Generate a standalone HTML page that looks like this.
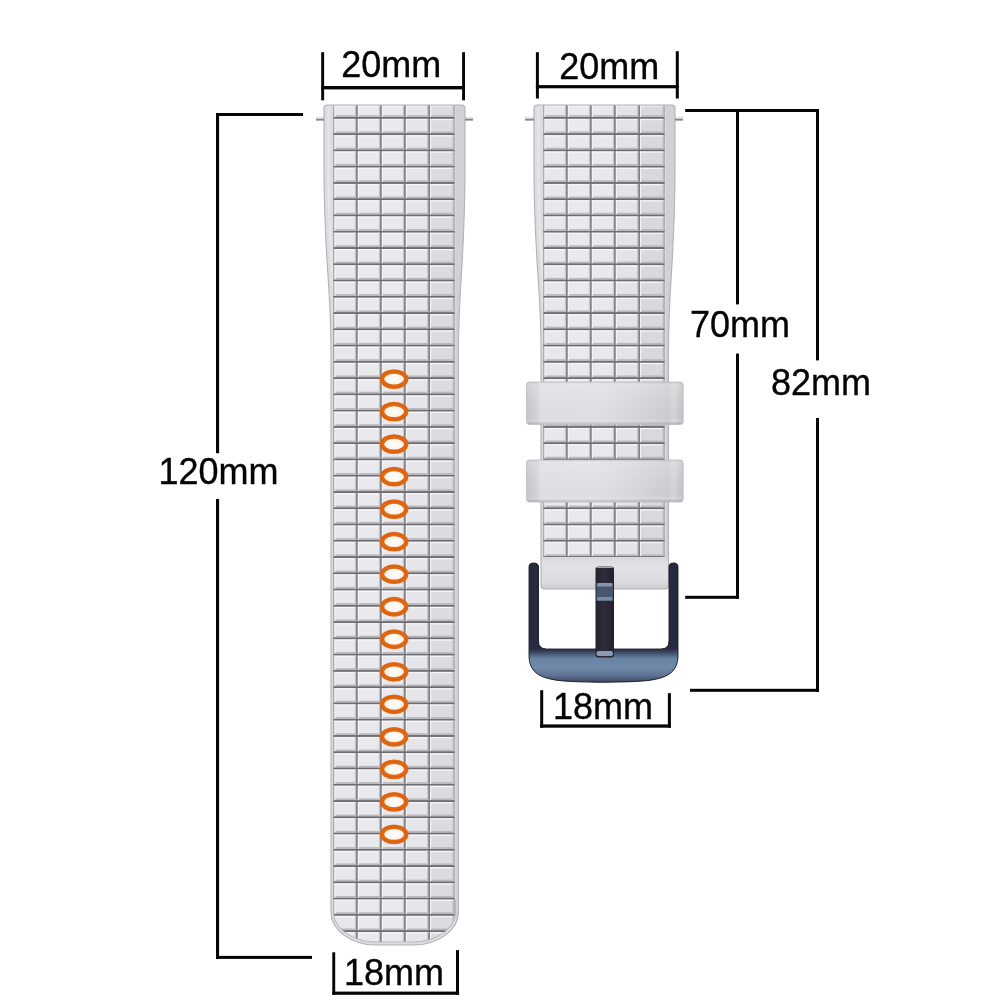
<!DOCTYPE html><html><head><meta charset="utf-8"><style>html,body{margin:0;padding:0;background:#fff;overflow:hidden}svg{display:block;will-change:transform}</style></head><body>
<svg width="1000" height="1000" viewBox="0 0 1000 1000">
<defs>
<linearGradient id="tileV" x1="0" y1="0" x2="0" y2="1"><stop offset="0" stop-color="#eeeef2"/><stop offset="0.18" stop-color="#e4e4e9"/><stop offset="0.55" stop-color="#e8e8ec"/><stop offset="0.85" stop-color="#dcdce1"/><stop offset="1" stop-color="#cfcfd4"/></linearGradient>
<linearGradient id="buckbar" gradientUnits="userSpaceOnUse" x1="0" y1="630" x2="0" y2="684"><stop offset="0" stop-color="#262a3e"/><stop offset="0.35" stop-color="#272c42"/><stop offset="0.43" stop-color="#40506c"/><stop offset="0.53" stop-color="#6a84a4"/><stop offset="0.7" stop-color="#7189a8"/><stop offset="0.84" stop-color="#5e7294"/><stop offset="0.93" stop-color="#44536e"/><stop offset="1" stop-color="#2c3448"/></linearGradient>
<linearGradient id="loopV" x1="0" y1="0" x2="0" y2="1"><stop offset="0" stop-color="#ffffff" stop-opacity="0"/><stop offset="0.06" stop-color="#ffffff" stop-opacity="0.25"/><stop offset="0.4" stop-color="#ffffff" stop-opacity="0.12"/><stop offset="0.85" stop-color="#ffffff" stop-opacity="0"/><stop offset="0.92" stop-color="#ffffff" stop-opacity="0.2"/><stop offset="1" stop-color="#000000" stop-opacity="0.12"/></linearGradient>
<linearGradient id="loopH" x1="0" y1="0" x2="1" y2="0"><stop offset="0" stop-color="#c2c2c7"/><stop offset="0.065" stop-color="#d0d0d5"/><stop offset="0.09" stop-color="#dcdce1"/><stop offset="0.45" stop-color="#dedee2"/><stop offset="0.7" stop-color="#d4d4d9"/><stop offset="0.9" stop-color="#cacacf"/><stop offset="0.94" stop-color="#d2d2d6"/><stop offset="1" stop-color="#bebec3"/></linearGradient>
<linearGradient id="stripL" x1="0" y1="0" x2="1" y2="0"><stop offset="0" stop-color="#cdcdd2"/><stop offset="0.3" stop-color="#dedee3"/><stop offset="0.7" stop-color="#e4e4e8"/><stop offset="1" stop-color="#d6d6da"/></linearGradient>
<linearGradient id="endV" x1="0" y1="0" x2="0" y2="1"><stop offset="0" stop-color="#d8d8dc"/><stop offset="0.25" stop-color="#e2e2e6"/><stop offset="0.7" stop-color="#dcdce0"/><stop offset="1" stop-color="#c6c6cb"/></linearGradient>
<linearGradient id="sideBar" x1="0" y1="0" x2="1" y2="0"><stop offset="0" stop-color="#2a2e44"/><stop offset="0.4" stop-color="#363c55"/><stop offset="1" stop-color="#23263a"/></linearGradient>
<linearGradient id="tongue" x1="0" y1="0" x2="1" y2="0"><stop offset="0" stop-color="#24222f"/><stop offset="0.5" stop-color="#302c3c"/><stop offset="1" stop-color="#221f2c"/></linearGradient>
<radialGradient id="holeIn" cx="0.5" cy="0.5" r="0.5"><stop offset="0" stop-color="#fffdf9"/><stop offset="0.8" stop-color="#fbf3ea"/><stop offset="1" stop-color="#f2d9c0"/></radialGradient>
<clipPath id="cl"><path d="M324,108.5 Q324,105 327.5,105 L461.5,105 Q465,105 465,108.5 L465,165 C465,262 458.5,282 458.5,350 L458.5,912 C458.5,930.2 438,945 413,945 L376,945 C351,945 331,930.2 331,912 L331,350 C331,282 324,262 324,165 Z"/></clipPath>
<clipPath id="cli"><path d="M300,100 L500,100 L500,912 L455.5,912 C455.5,928.5 436,942 413,942 L376,942 C353,942 333.5,928.5 333.5,912 L300,912 Z"/></clipPath>
<clipPath id="cr"><path d="M534,108.5 Q534,105 537.5,105 L671.5,105 Q675,105 675,108.5 L675,165 C675,262 668.5,282 668.5,350 L668.5,585 Q668.5,589 664.5,589 L545,589 Q541,589 541,585 L541,350 C541,282 534,262 534,165 Z"/></clipPath>
</defs>
<g clip-path="url(#cl)">
<path d="M324,108.5 Q324,105 327.5,105 L461.5,105 Q465,105 465,108.5 L465,165 C465,262 458.5,282 458.5,350 L458.5,912 C458.5,930.2 438,945 413,945 L376,945 C351,945 331,930.2 331,912 L331,350 C331,282 324,262 324,165 Z" fill="#dcdce1"/>
<path d="M328.5,107 L328.5,165 C328.5,262 335.5,282 335.5,350 L335.5,905 C335.5,930 352,942 394.5,942 C437,942 454.0,930 454.0,905 L454.0,350 C454.0,282 460.5,262 460.5,165" fill="none" stroke="#e6e6ea" stroke-width="2.2"/>
<rect x="453.5" y="100" width="14" height="850" fill="#d0d0d5"/>
<rect x="453.5" y="100" width="2" height="850" fill="#e2e2e6"/>
<g clip-path="url(#cli)">
<rect x="333.45" y="105" width="121.05000000000001" height="841" fill="#838388"/>
<rect x="334.45" y="105.30" width="21.50" height="11.70" fill="#e8e8ec"/>
<rect x="334.45" y="105.30" width="21.50" height="1.3" fill="#f6f6f8"/>
<rect x="334.45" y="115.20" width="21.50" height="1.8" fill="#b9b9be"/>
<rect x="334.45" y="105.30" width="1.1" height="11.70" fill="#f4f4f6"/>
<rect x="354.85" y="105.30" width="1.1" height="11.70" fill="#c6c6cb"/>
<rect x="357.85" y="105.30" width="22.10" height="11.70" fill="#eaeaee"/>
<rect x="357.85" y="105.30" width="22.10" height="1.3" fill="#f6f6f8"/>
<rect x="357.85" y="115.20" width="22.10" height="1.8" fill="#b9b9be"/>
<rect x="357.85" y="105.30" width="1.1" height="11.70" fill="#f4f4f6"/>
<rect x="378.85" y="105.30" width="1.1" height="11.70" fill="#c6c6cb"/>
<rect x="381.85" y="105.30" width="22.10" height="11.70" fill="#eaeaee"/>
<rect x="381.85" y="105.30" width="22.10" height="1.3" fill="#f6f6f8"/>
<rect x="381.85" y="115.20" width="22.10" height="1.8" fill="#b9b9be"/>
<rect x="381.85" y="105.30" width="1.1" height="11.70" fill="#f4f4f6"/>
<rect x="402.85" y="105.30" width="1.1" height="11.70" fill="#c6c6cb"/>
<rect x="405.85" y="105.30" width="22.30" height="11.70" fill="#e6e6ea"/>
<rect x="405.85" y="105.30" width="22.30" height="1.3" fill="#f6f6f8"/>
<rect x="405.85" y="115.20" width="22.30" height="1.8" fill="#b9b9be"/>
<rect x="405.85" y="105.30" width="1.1" height="11.70" fill="#f4f4f6"/>
<rect x="427.05" y="105.30" width="1.1" height="11.70" fill="#c6c6cb"/>
<rect x="430.05" y="105.30" width="23.45" height="11.70" fill="#dcdce0"/>
<rect x="430.05" y="105.30" width="23.45" height="1.3" fill="#f6f6f8"/>
<rect x="430.05" y="115.20" width="23.45" height="1.8" fill="#b9b9be"/>
<rect x="430.05" y="105.30" width="1.1" height="11.70" fill="#f4f4f6"/>
<rect x="452.40" y="105.30" width="1.1" height="11.70" fill="#c6c6cb"/>
<rect x="333.45" y="117.15" width="121.05000000000001" height="1.6" fill="#6c6c71"/>
<rect x="334.45" y="118.90" width="21.50" height="14.37" fill="#e8e8ec"/>
<rect x="334.45" y="118.90" width="21.50" height="1.3" fill="#f6f6f8"/>
<rect x="334.45" y="131.47" width="21.50" height="1.8" fill="#b9b9be"/>
<rect x="334.45" y="118.90" width="1.1" height="14.37" fill="#f4f4f6"/>
<rect x="354.85" y="118.90" width="1.1" height="14.37" fill="#c6c6cb"/>
<rect x="357.85" y="118.90" width="22.10" height="14.37" fill="#eaeaee"/>
<rect x="357.85" y="118.90" width="22.10" height="1.3" fill="#f6f6f8"/>
<rect x="357.85" y="131.47" width="22.10" height="1.8" fill="#b9b9be"/>
<rect x="357.85" y="118.90" width="1.1" height="14.37" fill="#f4f4f6"/>
<rect x="378.85" y="118.90" width="1.1" height="14.37" fill="#c6c6cb"/>
<rect x="381.85" y="118.90" width="22.10" height="14.37" fill="#eaeaee"/>
<rect x="381.85" y="118.90" width="22.10" height="1.3" fill="#f6f6f8"/>
<rect x="381.85" y="131.47" width="22.10" height="1.8" fill="#b9b9be"/>
<rect x="381.85" y="118.90" width="1.1" height="14.37" fill="#f4f4f6"/>
<rect x="402.85" y="118.90" width="1.1" height="14.37" fill="#c6c6cb"/>
<rect x="405.85" y="118.90" width="22.30" height="14.37" fill="#e6e6ea"/>
<rect x="405.85" y="118.90" width="22.30" height="1.3" fill="#f6f6f8"/>
<rect x="405.85" y="131.47" width="22.30" height="1.8" fill="#b9b9be"/>
<rect x="405.85" y="118.90" width="1.1" height="14.37" fill="#f4f4f6"/>
<rect x="427.05" y="118.90" width="1.1" height="14.37" fill="#c6c6cb"/>
<rect x="430.05" y="118.90" width="23.45" height="14.37" fill="#dcdce0"/>
<rect x="430.05" y="118.90" width="23.45" height="1.3" fill="#f6f6f8"/>
<rect x="430.05" y="131.47" width="23.45" height="1.8" fill="#b9b9be"/>
<rect x="430.05" y="118.90" width="1.1" height="14.37" fill="#f4f4f6"/>
<rect x="452.40" y="118.90" width="1.1" height="14.37" fill="#c6c6cb"/>
<rect x="333.45" y="133.41" width="121.05000000000001" height="1.6" fill="#6c6c71"/>
<rect x="334.45" y="135.16" width="21.50" height="14.37" fill="#e8e8ec"/>
<rect x="334.45" y="135.16" width="21.50" height="1.3" fill="#f6f6f8"/>
<rect x="334.45" y="147.73" width="21.50" height="1.8" fill="#b9b9be"/>
<rect x="334.45" y="135.16" width="1.1" height="14.37" fill="#f4f4f6"/>
<rect x="354.85" y="135.16" width="1.1" height="14.37" fill="#c6c6cb"/>
<rect x="357.85" y="135.16" width="22.10" height="14.37" fill="#eaeaee"/>
<rect x="357.85" y="135.16" width="22.10" height="1.3" fill="#f6f6f8"/>
<rect x="357.85" y="147.73" width="22.10" height="1.8" fill="#b9b9be"/>
<rect x="357.85" y="135.16" width="1.1" height="14.37" fill="#f4f4f6"/>
<rect x="378.85" y="135.16" width="1.1" height="14.37" fill="#c6c6cb"/>
<rect x="381.85" y="135.16" width="22.10" height="14.37" fill="#eaeaee"/>
<rect x="381.85" y="135.16" width="22.10" height="1.3" fill="#f6f6f8"/>
<rect x="381.85" y="147.73" width="22.10" height="1.8" fill="#b9b9be"/>
<rect x="381.85" y="135.16" width="1.1" height="14.37" fill="#f4f4f6"/>
<rect x="402.85" y="135.16" width="1.1" height="14.37" fill="#c6c6cb"/>
<rect x="405.85" y="135.16" width="22.30" height="14.37" fill="#e6e6ea"/>
<rect x="405.85" y="135.16" width="22.30" height="1.3" fill="#f6f6f8"/>
<rect x="405.85" y="147.73" width="22.30" height="1.8" fill="#b9b9be"/>
<rect x="405.85" y="135.16" width="1.1" height="14.37" fill="#f4f4f6"/>
<rect x="427.05" y="135.16" width="1.1" height="14.37" fill="#c6c6cb"/>
<rect x="430.05" y="135.16" width="23.45" height="14.37" fill="#dcdce0"/>
<rect x="430.05" y="135.16" width="23.45" height="1.3" fill="#f6f6f8"/>
<rect x="430.05" y="147.73" width="23.45" height="1.8" fill="#b9b9be"/>
<rect x="430.05" y="135.16" width="1.1" height="14.37" fill="#f4f4f6"/>
<rect x="452.40" y="135.16" width="1.1" height="14.37" fill="#c6c6cb"/>
<rect x="333.45" y="149.68" width="121.05000000000001" height="1.6" fill="#6c6c71"/>
<rect x="334.45" y="151.43" width="21.50" height="14.37" fill="#e8e8ec"/>
<rect x="334.45" y="151.43" width="21.50" height="1.3" fill="#f6f6f8"/>
<rect x="334.45" y="164.00" width="21.50" height="1.8" fill="#b9b9be"/>
<rect x="334.45" y="151.43" width="1.1" height="14.37" fill="#f4f4f6"/>
<rect x="354.85" y="151.43" width="1.1" height="14.37" fill="#c6c6cb"/>
<rect x="357.85" y="151.43" width="22.10" height="14.37" fill="#eaeaee"/>
<rect x="357.85" y="151.43" width="22.10" height="1.3" fill="#f6f6f8"/>
<rect x="357.85" y="164.00" width="22.10" height="1.8" fill="#b9b9be"/>
<rect x="357.85" y="151.43" width="1.1" height="14.37" fill="#f4f4f6"/>
<rect x="378.85" y="151.43" width="1.1" height="14.37" fill="#c6c6cb"/>
<rect x="381.85" y="151.43" width="22.10" height="14.37" fill="#eaeaee"/>
<rect x="381.85" y="151.43" width="22.10" height="1.3" fill="#f6f6f8"/>
<rect x="381.85" y="164.00" width="22.10" height="1.8" fill="#b9b9be"/>
<rect x="381.85" y="151.43" width="1.1" height="14.37" fill="#f4f4f6"/>
<rect x="402.85" y="151.43" width="1.1" height="14.37" fill="#c6c6cb"/>
<rect x="405.85" y="151.43" width="22.30" height="14.37" fill="#e6e6ea"/>
<rect x="405.85" y="151.43" width="22.30" height="1.3" fill="#f6f6f8"/>
<rect x="405.85" y="164.00" width="22.30" height="1.8" fill="#b9b9be"/>
<rect x="405.85" y="151.43" width="1.1" height="14.37" fill="#f4f4f6"/>
<rect x="427.05" y="151.43" width="1.1" height="14.37" fill="#c6c6cb"/>
<rect x="430.05" y="151.43" width="23.45" height="14.37" fill="#dcdce0"/>
<rect x="430.05" y="151.43" width="23.45" height="1.3" fill="#f6f6f8"/>
<rect x="430.05" y="164.00" width="23.45" height="1.8" fill="#b9b9be"/>
<rect x="430.05" y="151.43" width="1.1" height="14.37" fill="#f4f4f6"/>
<rect x="452.40" y="151.43" width="1.1" height="14.37" fill="#c6c6cb"/>
<rect x="333.45" y="165.94" width="121.05000000000001" height="1.6" fill="#6c6c71"/>
<rect x="334.45" y="167.69" width="21.50" height="14.37" fill="#e8e8ec"/>
<rect x="334.45" y="167.69" width="21.50" height="1.3" fill="#f6f6f8"/>
<rect x="334.45" y="180.26" width="21.50" height="1.8" fill="#b9b9be"/>
<rect x="334.45" y="167.69" width="1.1" height="14.37" fill="#f4f4f6"/>
<rect x="354.85" y="167.69" width="1.1" height="14.37" fill="#c6c6cb"/>
<rect x="357.85" y="167.69" width="22.10" height="14.37" fill="#eaeaee"/>
<rect x="357.85" y="167.69" width="22.10" height="1.3" fill="#f6f6f8"/>
<rect x="357.85" y="180.26" width="22.10" height="1.8" fill="#b9b9be"/>
<rect x="357.85" y="167.69" width="1.1" height="14.37" fill="#f4f4f6"/>
<rect x="378.85" y="167.69" width="1.1" height="14.37" fill="#c6c6cb"/>
<rect x="381.85" y="167.69" width="22.10" height="14.37" fill="#eaeaee"/>
<rect x="381.85" y="167.69" width="22.10" height="1.3" fill="#f6f6f8"/>
<rect x="381.85" y="180.26" width="22.10" height="1.8" fill="#b9b9be"/>
<rect x="381.85" y="167.69" width="1.1" height="14.37" fill="#f4f4f6"/>
<rect x="402.85" y="167.69" width="1.1" height="14.37" fill="#c6c6cb"/>
<rect x="405.85" y="167.69" width="22.30" height="14.37" fill="#e6e6ea"/>
<rect x="405.85" y="167.69" width="22.30" height="1.3" fill="#f6f6f8"/>
<rect x="405.85" y="180.26" width="22.30" height="1.8" fill="#b9b9be"/>
<rect x="405.85" y="167.69" width="1.1" height="14.37" fill="#f4f4f6"/>
<rect x="427.05" y="167.69" width="1.1" height="14.37" fill="#c6c6cb"/>
<rect x="430.05" y="167.69" width="23.45" height="14.37" fill="#dcdce0"/>
<rect x="430.05" y="167.69" width="23.45" height="1.3" fill="#f6f6f8"/>
<rect x="430.05" y="180.26" width="23.45" height="1.8" fill="#b9b9be"/>
<rect x="430.05" y="167.69" width="1.1" height="14.37" fill="#f4f4f6"/>
<rect x="452.40" y="167.69" width="1.1" height="14.37" fill="#c6c6cb"/>
<rect x="333.45" y="182.21" width="121.05000000000001" height="1.6" fill="#6c6c71"/>
<rect x="334.45" y="183.96" width="21.50" height="14.37" fill="#e8e8ec"/>
<rect x="334.45" y="183.96" width="21.50" height="1.3" fill="#f6f6f8"/>
<rect x="334.45" y="196.53" width="21.50" height="1.8" fill="#b9b9be"/>
<rect x="334.45" y="183.96" width="1.1" height="14.37" fill="#f4f4f6"/>
<rect x="354.85" y="183.96" width="1.1" height="14.37" fill="#c6c6cb"/>
<rect x="357.85" y="183.96" width="22.10" height="14.37" fill="#eaeaee"/>
<rect x="357.85" y="183.96" width="22.10" height="1.3" fill="#f6f6f8"/>
<rect x="357.85" y="196.53" width="22.10" height="1.8" fill="#b9b9be"/>
<rect x="357.85" y="183.96" width="1.1" height="14.37" fill="#f4f4f6"/>
<rect x="378.85" y="183.96" width="1.1" height="14.37" fill="#c6c6cb"/>
<rect x="381.85" y="183.96" width="22.10" height="14.37" fill="#eaeaee"/>
<rect x="381.85" y="183.96" width="22.10" height="1.3" fill="#f6f6f8"/>
<rect x="381.85" y="196.53" width="22.10" height="1.8" fill="#b9b9be"/>
<rect x="381.85" y="183.96" width="1.1" height="14.37" fill="#f4f4f6"/>
<rect x="402.85" y="183.96" width="1.1" height="14.37" fill="#c6c6cb"/>
<rect x="405.85" y="183.96" width="22.30" height="14.37" fill="#e6e6ea"/>
<rect x="405.85" y="183.96" width="22.30" height="1.3" fill="#f6f6f8"/>
<rect x="405.85" y="196.53" width="22.30" height="1.8" fill="#b9b9be"/>
<rect x="405.85" y="183.96" width="1.1" height="14.37" fill="#f4f4f6"/>
<rect x="427.05" y="183.96" width="1.1" height="14.37" fill="#c6c6cb"/>
<rect x="430.05" y="183.96" width="23.45" height="14.37" fill="#dcdce0"/>
<rect x="430.05" y="183.96" width="23.45" height="1.3" fill="#f6f6f8"/>
<rect x="430.05" y="196.53" width="23.45" height="1.8" fill="#b9b9be"/>
<rect x="430.05" y="183.96" width="1.1" height="14.37" fill="#f4f4f6"/>
<rect x="452.40" y="183.96" width="1.1" height="14.37" fill="#c6c6cb"/>
<rect x="333.45" y="198.47" width="121.05000000000001" height="1.6" fill="#6c6c71"/>
<rect x="334.45" y="200.22" width="21.50" height="14.37" fill="#e8e8ec"/>
<rect x="334.45" y="200.22" width="21.50" height="1.3" fill="#f6f6f8"/>
<rect x="334.45" y="212.79" width="21.50" height="1.8" fill="#b9b9be"/>
<rect x="334.45" y="200.22" width="1.1" height="14.37" fill="#f4f4f6"/>
<rect x="354.85" y="200.22" width="1.1" height="14.37" fill="#c6c6cb"/>
<rect x="357.85" y="200.22" width="22.10" height="14.37" fill="#eaeaee"/>
<rect x="357.85" y="200.22" width="22.10" height="1.3" fill="#f6f6f8"/>
<rect x="357.85" y="212.79" width="22.10" height="1.8" fill="#b9b9be"/>
<rect x="357.85" y="200.22" width="1.1" height="14.37" fill="#f4f4f6"/>
<rect x="378.85" y="200.22" width="1.1" height="14.37" fill="#c6c6cb"/>
<rect x="381.85" y="200.22" width="22.10" height="14.37" fill="#eaeaee"/>
<rect x="381.85" y="200.22" width="22.10" height="1.3" fill="#f6f6f8"/>
<rect x="381.85" y="212.79" width="22.10" height="1.8" fill="#b9b9be"/>
<rect x="381.85" y="200.22" width="1.1" height="14.37" fill="#f4f4f6"/>
<rect x="402.85" y="200.22" width="1.1" height="14.37" fill="#c6c6cb"/>
<rect x="405.85" y="200.22" width="22.30" height="14.37" fill="#e6e6ea"/>
<rect x="405.85" y="200.22" width="22.30" height="1.3" fill="#f6f6f8"/>
<rect x="405.85" y="212.79" width="22.30" height="1.8" fill="#b9b9be"/>
<rect x="405.85" y="200.22" width="1.1" height="14.37" fill="#f4f4f6"/>
<rect x="427.05" y="200.22" width="1.1" height="14.37" fill="#c6c6cb"/>
<rect x="430.05" y="200.22" width="23.45" height="14.37" fill="#dcdce0"/>
<rect x="430.05" y="200.22" width="23.45" height="1.3" fill="#f6f6f8"/>
<rect x="430.05" y="212.79" width="23.45" height="1.8" fill="#b9b9be"/>
<rect x="430.05" y="200.22" width="1.1" height="14.37" fill="#f4f4f6"/>
<rect x="452.40" y="200.22" width="1.1" height="14.37" fill="#c6c6cb"/>
<rect x="333.45" y="214.74" width="121.05000000000001" height="1.6" fill="#6c6c71"/>
<rect x="334.45" y="216.49" width="21.50" height="14.37" fill="#e8e8ec"/>
<rect x="334.45" y="216.49" width="21.50" height="1.3" fill="#f6f6f8"/>
<rect x="334.45" y="229.06" width="21.50" height="1.8" fill="#b9b9be"/>
<rect x="334.45" y="216.49" width="1.1" height="14.37" fill="#f4f4f6"/>
<rect x="354.85" y="216.49" width="1.1" height="14.37" fill="#c6c6cb"/>
<rect x="357.85" y="216.49" width="22.10" height="14.37" fill="#eaeaee"/>
<rect x="357.85" y="216.49" width="22.10" height="1.3" fill="#f6f6f8"/>
<rect x="357.85" y="229.06" width="22.10" height="1.8" fill="#b9b9be"/>
<rect x="357.85" y="216.49" width="1.1" height="14.37" fill="#f4f4f6"/>
<rect x="378.85" y="216.49" width="1.1" height="14.37" fill="#c6c6cb"/>
<rect x="381.85" y="216.49" width="22.10" height="14.37" fill="#eaeaee"/>
<rect x="381.85" y="216.49" width="22.10" height="1.3" fill="#f6f6f8"/>
<rect x="381.85" y="229.06" width="22.10" height="1.8" fill="#b9b9be"/>
<rect x="381.85" y="216.49" width="1.1" height="14.37" fill="#f4f4f6"/>
<rect x="402.85" y="216.49" width="1.1" height="14.37" fill="#c6c6cb"/>
<rect x="405.85" y="216.49" width="22.30" height="14.37" fill="#e6e6ea"/>
<rect x="405.85" y="216.49" width="22.30" height="1.3" fill="#f6f6f8"/>
<rect x="405.85" y="229.06" width="22.30" height="1.8" fill="#b9b9be"/>
<rect x="405.85" y="216.49" width="1.1" height="14.37" fill="#f4f4f6"/>
<rect x="427.05" y="216.49" width="1.1" height="14.37" fill="#c6c6cb"/>
<rect x="430.05" y="216.49" width="23.45" height="14.37" fill="#dcdce0"/>
<rect x="430.05" y="216.49" width="23.45" height="1.3" fill="#f6f6f8"/>
<rect x="430.05" y="229.06" width="23.45" height="1.8" fill="#b9b9be"/>
<rect x="430.05" y="216.49" width="1.1" height="14.37" fill="#f4f4f6"/>
<rect x="452.40" y="216.49" width="1.1" height="14.37" fill="#c6c6cb"/>
<rect x="333.45" y="231.00" width="121.05000000000001" height="1.6" fill="#6c6c71"/>
<rect x="334.45" y="232.75" width="21.50" height="14.37" fill="#e8e8ec"/>
<rect x="334.45" y="232.75" width="21.50" height="1.3" fill="#f6f6f8"/>
<rect x="334.45" y="245.32" width="21.50" height="1.8" fill="#b9b9be"/>
<rect x="334.45" y="232.75" width="1.1" height="14.37" fill="#f4f4f6"/>
<rect x="354.85" y="232.75" width="1.1" height="14.37" fill="#c6c6cb"/>
<rect x="357.85" y="232.75" width="22.10" height="14.37" fill="#eaeaee"/>
<rect x="357.85" y="232.75" width="22.10" height="1.3" fill="#f6f6f8"/>
<rect x="357.85" y="245.32" width="22.10" height="1.8" fill="#b9b9be"/>
<rect x="357.85" y="232.75" width="1.1" height="14.37" fill="#f4f4f6"/>
<rect x="378.85" y="232.75" width="1.1" height="14.37" fill="#c6c6cb"/>
<rect x="381.85" y="232.75" width="22.10" height="14.37" fill="#eaeaee"/>
<rect x="381.85" y="232.75" width="22.10" height="1.3" fill="#f6f6f8"/>
<rect x="381.85" y="245.32" width="22.10" height="1.8" fill="#b9b9be"/>
<rect x="381.85" y="232.75" width="1.1" height="14.37" fill="#f4f4f6"/>
<rect x="402.85" y="232.75" width="1.1" height="14.37" fill="#c6c6cb"/>
<rect x="405.85" y="232.75" width="22.30" height="14.37" fill="#e6e6ea"/>
<rect x="405.85" y="232.75" width="22.30" height="1.3" fill="#f6f6f8"/>
<rect x="405.85" y="245.32" width="22.30" height="1.8" fill="#b9b9be"/>
<rect x="405.85" y="232.75" width="1.1" height="14.37" fill="#f4f4f6"/>
<rect x="427.05" y="232.75" width="1.1" height="14.37" fill="#c6c6cb"/>
<rect x="430.05" y="232.75" width="23.45" height="14.37" fill="#dcdce0"/>
<rect x="430.05" y="232.75" width="23.45" height="1.3" fill="#f6f6f8"/>
<rect x="430.05" y="245.32" width="23.45" height="1.8" fill="#b9b9be"/>
<rect x="430.05" y="232.75" width="1.1" height="14.37" fill="#f4f4f6"/>
<rect x="452.40" y="232.75" width="1.1" height="14.37" fill="#c6c6cb"/>
<rect x="333.45" y="247.27" width="121.05000000000001" height="1.6" fill="#6c6c71"/>
<rect x="334.45" y="249.02" width="21.50" height="14.37" fill="#e8e8ec"/>
<rect x="334.45" y="249.02" width="21.50" height="1.3" fill="#f6f6f8"/>
<rect x="334.45" y="261.58" width="21.50" height="1.8" fill="#b9b9be"/>
<rect x="334.45" y="249.02" width="1.1" height="14.37" fill="#f4f4f6"/>
<rect x="354.85" y="249.02" width="1.1" height="14.37" fill="#c6c6cb"/>
<rect x="357.85" y="249.02" width="22.10" height="14.37" fill="#eaeaee"/>
<rect x="357.85" y="249.02" width="22.10" height="1.3" fill="#f6f6f8"/>
<rect x="357.85" y="261.58" width="22.10" height="1.8" fill="#b9b9be"/>
<rect x="357.85" y="249.02" width="1.1" height="14.37" fill="#f4f4f6"/>
<rect x="378.85" y="249.02" width="1.1" height="14.37" fill="#c6c6cb"/>
<rect x="381.85" y="249.02" width="22.10" height="14.37" fill="#eaeaee"/>
<rect x="381.85" y="249.02" width="22.10" height="1.3" fill="#f6f6f8"/>
<rect x="381.85" y="261.58" width="22.10" height="1.8" fill="#b9b9be"/>
<rect x="381.85" y="249.02" width="1.1" height="14.37" fill="#f4f4f6"/>
<rect x="402.85" y="249.02" width="1.1" height="14.37" fill="#c6c6cb"/>
<rect x="405.85" y="249.02" width="22.30" height="14.37" fill="#e6e6ea"/>
<rect x="405.85" y="249.02" width="22.30" height="1.3" fill="#f6f6f8"/>
<rect x="405.85" y="261.58" width="22.30" height="1.8" fill="#b9b9be"/>
<rect x="405.85" y="249.02" width="1.1" height="14.37" fill="#f4f4f6"/>
<rect x="427.05" y="249.02" width="1.1" height="14.37" fill="#c6c6cb"/>
<rect x="430.05" y="249.02" width="23.45" height="14.37" fill="#dcdce0"/>
<rect x="430.05" y="249.02" width="23.45" height="1.3" fill="#f6f6f8"/>
<rect x="430.05" y="261.58" width="23.45" height="1.8" fill="#b9b9be"/>
<rect x="430.05" y="249.02" width="1.1" height="14.37" fill="#f4f4f6"/>
<rect x="452.40" y="249.02" width="1.1" height="14.37" fill="#c6c6cb"/>
<rect x="333.45" y="263.53" width="121.05000000000001" height="1.6" fill="#6c6c71"/>
<rect x="334.45" y="265.28" width="21.50" height="14.37" fill="#e8e8ec"/>
<rect x="334.45" y="265.28" width="21.50" height="1.3" fill="#f6f6f8"/>
<rect x="334.45" y="277.85" width="21.50" height="1.8" fill="#b9b9be"/>
<rect x="334.45" y="265.28" width="1.1" height="14.37" fill="#f4f4f6"/>
<rect x="354.85" y="265.28" width="1.1" height="14.37" fill="#c6c6cb"/>
<rect x="357.85" y="265.28" width="22.10" height="14.37" fill="#eaeaee"/>
<rect x="357.85" y="265.28" width="22.10" height="1.3" fill="#f6f6f8"/>
<rect x="357.85" y="277.85" width="22.10" height="1.8" fill="#b9b9be"/>
<rect x="357.85" y="265.28" width="1.1" height="14.37" fill="#f4f4f6"/>
<rect x="378.85" y="265.28" width="1.1" height="14.37" fill="#c6c6cb"/>
<rect x="381.85" y="265.28" width="22.10" height="14.37" fill="#eaeaee"/>
<rect x="381.85" y="265.28" width="22.10" height="1.3" fill="#f6f6f8"/>
<rect x="381.85" y="277.85" width="22.10" height="1.8" fill="#b9b9be"/>
<rect x="381.85" y="265.28" width="1.1" height="14.37" fill="#f4f4f6"/>
<rect x="402.85" y="265.28" width="1.1" height="14.37" fill="#c6c6cb"/>
<rect x="405.85" y="265.28" width="22.30" height="14.37" fill="#e6e6ea"/>
<rect x="405.85" y="265.28" width="22.30" height="1.3" fill="#f6f6f8"/>
<rect x="405.85" y="277.85" width="22.30" height="1.8" fill="#b9b9be"/>
<rect x="405.85" y="265.28" width="1.1" height="14.37" fill="#f4f4f6"/>
<rect x="427.05" y="265.28" width="1.1" height="14.37" fill="#c6c6cb"/>
<rect x="430.05" y="265.28" width="23.45" height="14.37" fill="#dcdce0"/>
<rect x="430.05" y="265.28" width="23.45" height="1.3" fill="#f6f6f8"/>
<rect x="430.05" y="277.85" width="23.45" height="1.8" fill="#b9b9be"/>
<rect x="430.05" y="265.28" width="1.1" height="14.37" fill="#f4f4f6"/>
<rect x="452.40" y="265.28" width="1.1" height="14.37" fill="#c6c6cb"/>
<rect x="333.45" y="279.80" width="121.05000000000001" height="1.6" fill="#6c6c71"/>
<rect x="334.45" y="281.55" width="21.50" height="14.37" fill="#e8e8ec"/>
<rect x="334.45" y="281.55" width="21.50" height="1.3" fill="#f6f6f8"/>
<rect x="334.45" y="294.12" width="21.50" height="1.8" fill="#b9b9be"/>
<rect x="334.45" y="281.55" width="1.1" height="14.37" fill="#f4f4f6"/>
<rect x="354.85" y="281.55" width="1.1" height="14.37" fill="#c6c6cb"/>
<rect x="357.85" y="281.55" width="22.10" height="14.37" fill="#eaeaee"/>
<rect x="357.85" y="281.55" width="22.10" height="1.3" fill="#f6f6f8"/>
<rect x="357.85" y="294.12" width="22.10" height="1.8" fill="#b9b9be"/>
<rect x="357.85" y="281.55" width="1.1" height="14.37" fill="#f4f4f6"/>
<rect x="378.85" y="281.55" width="1.1" height="14.37" fill="#c6c6cb"/>
<rect x="381.85" y="281.55" width="22.10" height="14.37" fill="#eaeaee"/>
<rect x="381.85" y="281.55" width="22.10" height="1.3" fill="#f6f6f8"/>
<rect x="381.85" y="294.12" width="22.10" height="1.8" fill="#b9b9be"/>
<rect x="381.85" y="281.55" width="1.1" height="14.37" fill="#f4f4f6"/>
<rect x="402.85" y="281.55" width="1.1" height="14.37" fill="#c6c6cb"/>
<rect x="405.85" y="281.55" width="22.30" height="14.37" fill="#e6e6ea"/>
<rect x="405.85" y="281.55" width="22.30" height="1.3" fill="#f6f6f8"/>
<rect x="405.85" y="294.12" width="22.30" height="1.8" fill="#b9b9be"/>
<rect x="405.85" y="281.55" width="1.1" height="14.37" fill="#f4f4f6"/>
<rect x="427.05" y="281.55" width="1.1" height="14.37" fill="#c6c6cb"/>
<rect x="430.05" y="281.55" width="23.45" height="14.37" fill="#dcdce0"/>
<rect x="430.05" y="281.55" width="23.45" height="1.3" fill="#f6f6f8"/>
<rect x="430.05" y="294.12" width="23.45" height="1.8" fill="#b9b9be"/>
<rect x="430.05" y="281.55" width="1.1" height="14.37" fill="#f4f4f6"/>
<rect x="452.40" y="281.55" width="1.1" height="14.37" fill="#c6c6cb"/>
<rect x="333.45" y="296.06" width="121.05000000000001" height="1.6" fill="#6c6c71"/>
<rect x="334.45" y="297.81" width="21.50" height="14.37" fill="#e8e8ec"/>
<rect x="334.45" y="297.81" width="21.50" height="1.3" fill="#f6f6f8"/>
<rect x="334.45" y="310.38" width="21.50" height="1.8" fill="#b9b9be"/>
<rect x="334.45" y="297.81" width="1.1" height="14.37" fill="#f4f4f6"/>
<rect x="354.85" y="297.81" width="1.1" height="14.37" fill="#c6c6cb"/>
<rect x="357.85" y="297.81" width="22.10" height="14.37" fill="#eaeaee"/>
<rect x="357.85" y="297.81" width="22.10" height="1.3" fill="#f6f6f8"/>
<rect x="357.85" y="310.38" width="22.10" height="1.8" fill="#b9b9be"/>
<rect x="357.85" y="297.81" width="1.1" height="14.37" fill="#f4f4f6"/>
<rect x="378.85" y="297.81" width="1.1" height="14.37" fill="#c6c6cb"/>
<rect x="381.85" y="297.81" width="22.10" height="14.37" fill="#eaeaee"/>
<rect x="381.85" y="297.81" width="22.10" height="1.3" fill="#f6f6f8"/>
<rect x="381.85" y="310.38" width="22.10" height="1.8" fill="#b9b9be"/>
<rect x="381.85" y="297.81" width="1.1" height="14.37" fill="#f4f4f6"/>
<rect x="402.85" y="297.81" width="1.1" height="14.37" fill="#c6c6cb"/>
<rect x="405.85" y="297.81" width="22.30" height="14.37" fill="#e6e6ea"/>
<rect x="405.85" y="297.81" width="22.30" height="1.3" fill="#f6f6f8"/>
<rect x="405.85" y="310.38" width="22.30" height="1.8" fill="#b9b9be"/>
<rect x="405.85" y="297.81" width="1.1" height="14.37" fill="#f4f4f6"/>
<rect x="427.05" y="297.81" width="1.1" height="14.37" fill="#c6c6cb"/>
<rect x="430.05" y="297.81" width="23.45" height="14.37" fill="#dcdce0"/>
<rect x="430.05" y="297.81" width="23.45" height="1.3" fill="#f6f6f8"/>
<rect x="430.05" y="310.38" width="23.45" height="1.8" fill="#b9b9be"/>
<rect x="430.05" y="297.81" width="1.1" height="14.37" fill="#f4f4f6"/>
<rect x="452.40" y="297.81" width="1.1" height="14.37" fill="#c6c6cb"/>
<rect x="333.45" y="312.33" width="121.05000000000001" height="1.6" fill="#6c6c71"/>
<rect x="334.45" y="314.08" width="21.50" height="14.37" fill="#e8e8ec"/>
<rect x="334.45" y="314.08" width="21.50" height="1.3" fill="#f6f6f8"/>
<rect x="334.45" y="326.64" width="21.50" height="1.8" fill="#b9b9be"/>
<rect x="334.45" y="314.08" width="1.1" height="14.37" fill="#f4f4f6"/>
<rect x="354.85" y="314.08" width="1.1" height="14.37" fill="#c6c6cb"/>
<rect x="357.85" y="314.08" width="22.10" height="14.37" fill="#eaeaee"/>
<rect x="357.85" y="314.08" width="22.10" height="1.3" fill="#f6f6f8"/>
<rect x="357.85" y="326.64" width="22.10" height="1.8" fill="#b9b9be"/>
<rect x="357.85" y="314.08" width="1.1" height="14.37" fill="#f4f4f6"/>
<rect x="378.85" y="314.08" width="1.1" height="14.37" fill="#c6c6cb"/>
<rect x="381.85" y="314.08" width="22.10" height="14.37" fill="#eaeaee"/>
<rect x="381.85" y="314.08" width="22.10" height="1.3" fill="#f6f6f8"/>
<rect x="381.85" y="326.64" width="22.10" height="1.8" fill="#b9b9be"/>
<rect x="381.85" y="314.08" width="1.1" height="14.37" fill="#f4f4f6"/>
<rect x="402.85" y="314.08" width="1.1" height="14.37" fill="#c6c6cb"/>
<rect x="405.85" y="314.08" width="22.30" height="14.37" fill="#e6e6ea"/>
<rect x="405.85" y="314.08" width="22.30" height="1.3" fill="#f6f6f8"/>
<rect x="405.85" y="326.64" width="22.30" height="1.8" fill="#b9b9be"/>
<rect x="405.85" y="314.08" width="1.1" height="14.37" fill="#f4f4f6"/>
<rect x="427.05" y="314.08" width="1.1" height="14.37" fill="#c6c6cb"/>
<rect x="430.05" y="314.08" width="23.45" height="14.37" fill="#dcdce0"/>
<rect x="430.05" y="314.08" width="23.45" height="1.3" fill="#f6f6f8"/>
<rect x="430.05" y="326.64" width="23.45" height="1.8" fill="#b9b9be"/>
<rect x="430.05" y="314.08" width="1.1" height="14.37" fill="#f4f4f6"/>
<rect x="452.40" y="314.08" width="1.1" height="14.37" fill="#c6c6cb"/>
<rect x="333.45" y="328.59" width="121.05000000000001" height="1.6" fill="#6c6c71"/>
<rect x="334.45" y="330.34" width="21.50" height="14.37" fill="#e8e8ec"/>
<rect x="334.45" y="330.34" width="21.50" height="1.3" fill="#f6f6f8"/>
<rect x="334.45" y="342.91" width="21.50" height="1.8" fill="#b9b9be"/>
<rect x="334.45" y="330.34" width="1.1" height="14.37" fill="#f4f4f6"/>
<rect x="354.85" y="330.34" width="1.1" height="14.37" fill="#c6c6cb"/>
<rect x="357.85" y="330.34" width="22.10" height="14.37" fill="#eaeaee"/>
<rect x="357.85" y="330.34" width="22.10" height="1.3" fill="#f6f6f8"/>
<rect x="357.85" y="342.91" width="22.10" height="1.8" fill="#b9b9be"/>
<rect x="357.85" y="330.34" width="1.1" height="14.37" fill="#f4f4f6"/>
<rect x="378.85" y="330.34" width="1.1" height="14.37" fill="#c6c6cb"/>
<rect x="381.85" y="330.34" width="22.10" height="14.37" fill="#eaeaee"/>
<rect x="381.85" y="330.34" width="22.10" height="1.3" fill="#f6f6f8"/>
<rect x="381.85" y="342.91" width="22.10" height="1.8" fill="#b9b9be"/>
<rect x="381.85" y="330.34" width="1.1" height="14.37" fill="#f4f4f6"/>
<rect x="402.85" y="330.34" width="1.1" height="14.37" fill="#c6c6cb"/>
<rect x="405.85" y="330.34" width="22.30" height="14.37" fill="#e6e6ea"/>
<rect x="405.85" y="330.34" width="22.30" height="1.3" fill="#f6f6f8"/>
<rect x="405.85" y="342.91" width="22.30" height="1.8" fill="#b9b9be"/>
<rect x="405.85" y="330.34" width="1.1" height="14.37" fill="#f4f4f6"/>
<rect x="427.05" y="330.34" width="1.1" height="14.37" fill="#c6c6cb"/>
<rect x="430.05" y="330.34" width="23.45" height="14.37" fill="#dcdce0"/>
<rect x="430.05" y="330.34" width="23.45" height="1.3" fill="#f6f6f8"/>
<rect x="430.05" y="342.91" width="23.45" height="1.8" fill="#b9b9be"/>
<rect x="430.05" y="330.34" width="1.1" height="14.37" fill="#f4f4f6"/>
<rect x="452.40" y="330.34" width="1.1" height="14.37" fill="#c6c6cb"/>
<rect x="333.45" y="344.86" width="121.05000000000001" height="1.6" fill="#6c6c71"/>
<rect x="334.45" y="346.61" width="21.50" height="14.37" fill="#e8e8ec"/>
<rect x="334.45" y="346.61" width="21.50" height="1.3" fill="#f6f6f8"/>
<rect x="334.45" y="359.18" width="21.50" height="1.8" fill="#b9b9be"/>
<rect x="334.45" y="346.61" width="1.1" height="14.37" fill="#f4f4f6"/>
<rect x="354.85" y="346.61" width="1.1" height="14.37" fill="#c6c6cb"/>
<rect x="357.85" y="346.61" width="22.10" height="14.37" fill="#eaeaee"/>
<rect x="357.85" y="346.61" width="22.10" height="1.3" fill="#f6f6f8"/>
<rect x="357.85" y="359.18" width="22.10" height="1.8" fill="#b9b9be"/>
<rect x="357.85" y="346.61" width="1.1" height="14.37" fill="#f4f4f6"/>
<rect x="378.85" y="346.61" width="1.1" height="14.37" fill="#c6c6cb"/>
<rect x="381.85" y="346.61" width="22.10" height="14.37" fill="#eaeaee"/>
<rect x="381.85" y="346.61" width="22.10" height="1.3" fill="#f6f6f8"/>
<rect x="381.85" y="359.18" width="22.10" height="1.8" fill="#b9b9be"/>
<rect x="381.85" y="346.61" width="1.1" height="14.37" fill="#f4f4f6"/>
<rect x="402.85" y="346.61" width="1.1" height="14.37" fill="#c6c6cb"/>
<rect x="405.85" y="346.61" width="22.30" height="14.37" fill="#e6e6ea"/>
<rect x="405.85" y="346.61" width="22.30" height="1.3" fill="#f6f6f8"/>
<rect x="405.85" y="359.18" width="22.30" height="1.8" fill="#b9b9be"/>
<rect x="405.85" y="346.61" width="1.1" height="14.37" fill="#f4f4f6"/>
<rect x="427.05" y="346.61" width="1.1" height="14.37" fill="#c6c6cb"/>
<rect x="430.05" y="346.61" width="23.45" height="14.37" fill="#dcdce0"/>
<rect x="430.05" y="346.61" width="23.45" height="1.3" fill="#f6f6f8"/>
<rect x="430.05" y="359.18" width="23.45" height="1.8" fill="#b9b9be"/>
<rect x="430.05" y="346.61" width="1.1" height="14.37" fill="#f4f4f6"/>
<rect x="452.40" y="346.61" width="1.1" height="14.37" fill="#c6c6cb"/>
<rect x="333.45" y="361.12" width="121.05000000000001" height="1.6" fill="#6c6c71"/>
<rect x="334.45" y="362.88" width="21.50" height="14.37" fill="#e8e8ec"/>
<rect x="334.45" y="362.88" width="21.50" height="1.3" fill="#f6f6f8"/>
<rect x="334.45" y="375.44" width="21.50" height="1.8" fill="#b9b9be"/>
<rect x="334.45" y="362.88" width="1.1" height="14.37" fill="#f4f4f6"/>
<rect x="354.85" y="362.88" width="1.1" height="14.37" fill="#c6c6cb"/>
<rect x="357.85" y="362.88" width="22.10" height="14.37" fill="#eaeaee"/>
<rect x="357.85" y="362.88" width="22.10" height="1.3" fill="#f6f6f8"/>
<rect x="357.85" y="375.44" width="22.10" height="1.8" fill="#b9b9be"/>
<rect x="357.85" y="362.88" width="1.1" height="14.37" fill="#f4f4f6"/>
<rect x="378.85" y="362.88" width="1.1" height="14.37" fill="#c6c6cb"/>
<rect x="381.85" y="362.88" width="22.10" height="14.37" fill="#eaeaee"/>
<rect x="381.85" y="362.88" width="22.10" height="1.3" fill="#f6f6f8"/>
<rect x="381.85" y="375.44" width="22.10" height="1.8" fill="#b9b9be"/>
<rect x="381.85" y="362.88" width="1.1" height="14.37" fill="#f4f4f6"/>
<rect x="402.85" y="362.88" width="1.1" height="14.37" fill="#c6c6cb"/>
<rect x="405.85" y="362.88" width="22.30" height="14.37" fill="#e6e6ea"/>
<rect x="405.85" y="362.88" width="22.30" height="1.3" fill="#f6f6f8"/>
<rect x="405.85" y="375.44" width="22.30" height="1.8" fill="#b9b9be"/>
<rect x="405.85" y="362.88" width="1.1" height="14.37" fill="#f4f4f6"/>
<rect x="427.05" y="362.88" width="1.1" height="14.37" fill="#c6c6cb"/>
<rect x="430.05" y="362.88" width="23.45" height="14.37" fill="#dcdce0"/>
<rect x="430.05" y="362.88" width="23.45" height="1.3" fill="#f6f6f8"/>
<rect x="430.05" y="375.44" width="23.45" height="1.8" fill="#b9b9be"/>
<rect x="430.05" y="362.88" width="1.1" height="14.37" fill="#f4f4f6"/>
<rect x="452.40" y="362.88" width="1.1" height="14.37" fill="#c6c6cb"/>
<rect x="333.45" y="377.39" width="121.05000000000001" height="1.6" fill="#6c6c71"/>
<rect x="334.45" y="379.14" width="21.50" height="14.37" fill="#e8e8ec"/>
<rect x="334.45" y="379.14" width="21.50" height="1.3" fill="#f6f6f8"/>
<rect x="334.45" y="391.70" width="21.50" height="1.8" fill="#b9b9be"/>
<rect x="334.45" y="379.14" width="1.1" height="14.37" fill="#f4f4f6"/>
<rect x="354.85" y="379.14" width="1.1" height="14.37" fill="#c6c6cb"/>
<rect x="357.85" y="379.14" width="22.10" height="14.37" fill="#eaeaee"/>
<rect x="357.85" y="379.14" width="22.10" height="1.3" fill="#f6f6f8"/>
<rect x="357.85" y="391.70" width="22.10" height="1.8" fill="#b9b9be"/>
<rect x="357.85" y="379.14" width="1.1" height="14.37" fill="#f4f4f6"/>
<rect x="378.85" y="379.14" width="1.1" height="14.37" fill="#c6c6cb"/>
<rect x="381.85" y="379.14" width="22.10" height="14.37" fill="#eaeaee"/>
<rect x="381.85" y="379.14" width="22.10" height="1.3" fill="#f6f6f8"/>
<rect x="381.85" y="391.70" width="22.10" height="1.8" fill="#b9b9be"/>
<rect x="381.85" y="379.14" width="1.1" height="14.37" fill="#f4f4f6"/>
<rect x="402.85" y="379.14" width="1.1" height="14.37" fill="#c6c6cb"/>
<rect x="405.85" y="379.14" width="22.30" height="14.37" fill="#e6e6ea"/>
<rect x="405.85" y="379.14" width="22.30" height="1.3" fill="#f6f6f8"/>
<rect x="405.85" y="391.70" width="22.30" height="1.8" fill="#b9b9be"/>
<rect x="405.85" y="379.14" width="1.1" height="14.37" fill="#f4f4f6"/>
<rect x="427.05" y="379.14" width="1.1" height="14.37" fill="#c6c6cb"/>
<rect x="430.05" y="379.14" width="23.45" height="14.37" fill="#dcdce0"/>
<rect x="430.05" y="379.14" width="23.45" height="1.3" fill="#f6f6f8"/>
<rect x="430.05" y="391.70" width="23.45" height="1.8" fill="#b9b9be"/>
<rect x="430.05" y="379.14" width="1.1" height="14.37" fill="#f4f4f6"/>
<rect x="452.40" y="379.14" width="1.1" height="14.37" fill="#c6c6cb"/>
<rect x="333.45" y="393.65" width="121.05000000000001" height="1.6" fill="#6c6c71"/>
<rect x="334.45" y="395.40" width="21.50" height="14.37" fill="#e8e8ec"/>
<rect x="334.45" y="395.40" width="21.50" height="1.3" fill="#f6f6f8"/>
<rect x="334.45" y="407.97" width="21.50" height="1.8" fill="#b9b9be"/>
<rect x="334.45" y="395.40" width="1.1" height="14.37" fill="#f4f4f6"/>
<rect x="354.85" y="395.40" width="1.1" height="14.37" fill="#c6c6cb"/>
<rect x="357.85" y="395.40" width="22.10" height="14.37" fill="#eaeaee"/>
<rect x="357.85" y="395.40" width="22.10" height="1.3" fill="#f6f6f8"/>
<rect x="357.85" y="407.97" width="22.10" height="1.8" fill="#b9b9be"/>
<rect x="357.85" y="395.40" width="1.1" height="14.37" fill="#f4f4f6"/>
<rect x="378.85" y="395.40" width="1.1" height="14.37" fill="#c6c6cb"/>
<rect x="381.85" y="395.40" width="22.10" height="14.37" fill="#eaeaee"/>
<rect x="381.85" y="395.40" width="22.10" height="1.3" fill="#f6f6f8"/>
<rect x="381.85" y="407.97" width="22.10" height="1.8" fill="#b9b9be"/>
<rect x="381.85" y="395.40" width="1.1" height="14.37" fill="#f4f4f6"/>
<rect x="402.85" y="395.40" width="1.1" height="14.37" fill="#c6c6cb"/>
<rect x="405.85" y="395.40" width="22.30" height="14.37" fill="#e6e6ea"/>
<rect x="405.85" y="395.40" width="22.30" height="1.3" fill="#f6f6f8"/>
<rect x="405.85" y="407.97" width="22.30" height="1.8" fill="#b9b9be"/>
<rect x="405.85" y="395.40" width="1.1" height="14.37" fill="#f4f4f6"/>
<rect x="427.05" y="395.40" width="1.1" height="14.37" fill="#c6c6cb"/>
<rect x="430.05" y="395.40" width="23.45" height="14.37" fill="#dcdce0"/>
<rect x="430.05" y="395.40" width="23.45" height="1.3" fill="#f6f6f8"/>
<rect x="430.05" y="407.97" width="23.45" height="1.8" fill="#b9b9be"/>
<rect x="430.05" y="395.40" width="1.1" height="14.37" fill="#f4f4f6"/>
<rect x="452.40" y="395.40" width="1.1" height="14.37" fill="#c6c6cb"/>
<rect x="333.45" y="409.92" width="121.05000000000001" height="1.6" fill="#6c6c71"/>
<rect x="334.45" y="411.67" width="21.50" height="14.37" fill="#e8e8ec"/>
<rect x="334.45" y="411.67" width="21.50" height="1.3" fill="#f6f6f8"/>
<rect x="334.45" y="424.24" width="21.50" height="1.8" fill="#b9b9be"/>
<rect x="334.45" y="411.67" width="1.1" height="14.37" fill="#f4f4f6"/>
<rect x="354.85" y="411.67" width="1.1" height="14.37" fill="#c6c6cb"/>
<rect x="357.85" y="411.67" width="22.10" height="14.37" fill="#eaeaee"/>
<rect x="357.85" y="411.67" width="22.10" height="1.3" fill="#f6f6f8"/>
<rect x="357.85" y="424.24" width="22.10" height="1.8" fill="#b9b9be"/>
<rect x="357.85" y="411.67" width="1.1" height="14.37" fill="#f4f4f6"/>
<rect x="378.85" y="411.67" width="1.1" height="14.37" fill="#c6c6cb"/>
<rect x="381.85" y="411.67" width="22.10" height="14.37" fill="#eaeaee"/>
<rect x="381.85" y="411.67" width="22.10" height="1.3" fill="#f6f6f8"/>
<rect x="381.85" y="424.24" width="22.10" height="1.8" fill="#b9b9be"/>
<rect x="381.85" y="411.67" width="1.1" height="14.37" fill="#f4f4f6"/>
<rect x="402.85" y="411.67" width="1.1" height="14.37" fill="#c6c6cb"/>
<rect x="405.85" y="411.67" width="22.30" height="14.37" fill="#e6e6ea"/>
<rect x="405.85" y="411.67" width="22.30" height="1.3" fill="#f6f6f8"/>
<rect x="405.85" y="424.24" width="22.30" height="1.8" fill="#b9b9be"/>
<rect x="405.85" y="411.67" width="1.1" height="14.37" fill="#f4f4f6"/>
<rect x="427.05" y="411.67" width="1.1" height="14.37" fill="#c6c6cb"/>
<rect x="430.05" y="411.67" width="23.45" height="14.37" fill="#dcdce0"/>
<rect x="430.05" y="411.67" width="23.45" height="1.3" fill="#f6f6f8"/>
<rect x="430.05" y="424.24" width="23.45" height="1.8" fill="#b9b9be"/>
<rect x="430.05" y="411.67" width="1.1" height="14.37" fill="#f4f4f6"/>
<rect x="452.40" y="411.67" width="1.1" height="14.37" fill="#c6c6cb"/>
<rect x="333.45" y="426.19" width="121.05000000000001" height="1.6" fill="#6c6c71"/>
<rect x="334.45" y="427.94" width="21.50" height="14.37" fill="#e8e8ec"/>
<rect x="334.45" y="427.94" width="21.50" height="1.3" fill="#f6f6f8"/>
<rect x="334.45" y="440.50" width="21.50" height="1.8" fill="#b9b9be"/>
<rect x="334.45" y="427.94" width="1.1" height="14.37" fill="#f4f4f6"/>
<rect x="354.85" y="427.94" width="1.1" height="14.37" fill="#c6c6cb"/>
<rect x="357.85" y="427.94" width="22.10" height="14.37" fill="#eaeaee"/>
<rect x="357.85" y="427.94" width="22.10" height="1.3" fill="#f6f6f8"/>
<rect x="357.85" y="440.50" width="22.10" height="1.8" fill="#b9b9be"/>
<rect x="357.85" y="427.94" width="1.1" height="14.37" fill="#f4f4f6"/>
<rect x="378.85" y="427.94" width="1.1" height="14.37" fill="#c6c6cb"/>
<rect x="381.85" y="427.94" width="22.10" height="14.37" fill="#eaeaee"/>
<rect x="381.85" y="427.94" width="22.10" height="1.3" fill="#f6f6f8"/>
<rect x="381.85" y="440.50" width="22.10" height="1.8" fill="#b9b9be"/>
<rect x="381.85" y="427.94" width="1.1" height="14.37" fill="#f4f4f6"/>
<rect x="402.85" y="427.94" width="1.1" height="14.37" fill="#c6c6cb"/>
<rect x="405.85" y="427.94" width="22.30" height="14.37" fill="#e6e6ea"/>
<rect x="405.85" y="427.94" width="22.30" height="1.3" fill="#f6f6f8"/>
<rect x="405.85" y="440.50" width="22.30" height="1.8" fill="#b9b9be"/>
<rect x="405.85" y="427.94" width="1.1" height="14.37" fill="#f4f4f6"/>
<rect x="427.05" y="427.94" width="1.1" height="14.37" fill="#c6c6cb"/>
<rect x="430.05" y="427.94" width="23.45" height="14.37" fill="#dcdce0"/>
<rect x="430.05" y="427.94" width="23.45" height="1.3" fill="#f6f6f8"/>
<rect x="430.05" y="440.50" width="23.45" height="1.8" fill="#b9b9be"/>
<rect x="430.05" y="427.94" width="1.1" height="14.37" fill="#f4f4f6"/>
<rect x="452.40" y="427.94" width="1.1" height="14.37" fill="#c6c6cb"/>
<rect x="333.45" y="442.45" width="121.05000000000001" height="1.6" fill="#6c6c71"/>
<rect x="334.45" y="444.20" width="21.50" height="14.37" fill="#e8e8ec"/>
<rect x="334.45" y="444.20" width="21.50" height="1.3" fill="#f6f6f8"/>
<rect x="334.45" y="456.76" width="21.50" height="1.8" fill="#b9b9be"/>
<rect x="334.45" y="444.20" width="1.1" height="14.37" fill="#f4f4f6"/>
<rect x="354.85" y="444.20" width="1.1" height="14.37" fill="#c6c6cb"/>
<rect x="357.85" y="444.20" width="22.10" height="14.37" fill="#eaeaee"/>
<rect x="357.85" y="444.20" width="22.10" height="1.3" fill="#f6f6f8"/>
<rect x="357.85" y="456.76" width="22.10" height="1.8" fill="#b9b9be"/>
<rect x="357.85" y="444.20" width="1.1" height="14.37" fill="#f4f4f6"/>
<rect x="378.85" y="444.20" width="1.1" height="14.37" fill="#c6c6cb"/>
<rect x="381.85" y="444.20" width="22.10" height="14.37" fill="#eaeaee"/>
<rect x="381.85" y="444.20" width="22.10" height="1.3" fill="#f6f6f8"/>
<rect x="381.85" y="456.76" width="22.10" height="1.8" fill="#b9b9be"/>
<rect x="381.85" y="444.20" width="1.1" height="14.37" fill="#f4f4f6"/>
<rect x="402.85" y="444.20" width="1.1" height="14.37" fill="#c6c6cb"/>
<rect x="405.85" y="444.20" width="22.30" height="14.37" fill="#e6e6ea"/>
<rect x="405.85" y="444.20" width="22.30" height="1.3" fill="#f6f6f8"/>
<rect x="405.85" y="456.76" width="22.30" height="1.8" fill="#b9b9be"/>
<rect x="405.85" y="444.20" width="1.1" height="14.37" fill="#f4f4f6"/>
<rect x="427.05" y="444.20" width="1.1" height="14.37" fill="#c6c6cb"/>
<rect x="430.05" y="444.20" width="23.45" height="14.37" fill="#dcdce0"/>
<rect x="430.05" y="444.20" width="23.45" height="1.3" fill="#f6f6f8"/>
<rect x="430.05" y="456.76" width="23.45" height="1.8" fill="#b9b9be"/>
<rect x="430.05" y="444.20" width="1.1" height="14.37" fill="#f4f4f6"/>
<rect x="452.40" y="444.20" width="1.1" height="14.37" fill="#c6c6cb"/>
<rect x="333.45" y="458.71" width="121.05000000000001" height="1.6" fill="#6c6c71"/>
<rect x="334.45" y="460.46" width="21.50" height="14.37" fill="#e8e8ec"/>
<rect x="334.45" y="460.46" width="21.50" height="1.3" fill="#f6f6f8"/>
<rect x="334.45" y="473.03" width="21.50" height="1.8" fill="#b9b9be"/>
<rect x="334.45" y="460.46" width="1.1" height="14.37" fill="#f4f4f6"/>
<rect x="354.85" y="460.46" width="1.1" height="14.37" fill="#c6c6cb"/>
<rect x="357.85" y="460.46" width="22.10" height="14.37" fill="#eaeaee"/>
<rect x="357.85" y="460.46" width="22.10" height="1.3" fill="#f6f6f8"/>
<rect x="357.85" y="473.03" width="22.10" height="1.8" fill="#b9b9be"/>
<rect x="357.85" y="460.46" width="1.1" height="14.37" fill="#f4f4f6"/>
<rect x="378.85" y="460.46" width="1.1" height="14.37" fill="#c6c6cb"/>
<rect x="381.85" y="460.46" width="22.10" height="14.37" fill="#eaeaee"/>
<rect x="381.85" y="460.46" width="22.10" height="1.3" fill="#f6f6f8"/>
<rect x="381.85" y="473.03" width="22.10" height="1.8" fill="#b9b9be"/>
<rect x="381.85" y="460.46" width="1.1" height="14.37" fill="#f4f4f6"/>
<rect x="402.85" y="460.46" width="1.1" height="14.37" fill="#c6c6cb"/>
<rect x="405.85" y="460.46" width="22.30" height="14.37" fill="#e6e6ea"/>
<rect x="405.85" y="460.46" width="22.30" height="1.3" fill="#f6f6f8"/>
<rect x="405.85" y="473.03" width="22.30" height="1.8" fill="#b9b9be"/>
<rect x="405.85" y="460.46" width="1.1" height="14.37" fill="#f4f4f6"/>
<rect x="427.05" y="460.46" width="1.1" height="14.37" fill="#c6c6cb"/>
<rect x="430.05" y="460.46" width="23.45" height="14.37" fill="#dcdce0"/>
<rect x="430.05" y="460.46" width="23.45" height="1.3" fill="#f6f6f8"/>
<rect x="430.05" y="473.03" width="23.45" height="1.8" fill="#b9b9be"/>
<rect x="430.05" y="460.46" width="1.1" height="14.37" fill="#f4f4f6"/>
<rect x="452.40" y="460.46" width="1.1" height="14.37" fill="#c6c6cb"/>
<rect x="333.45" y="474.98" width="121.05000000000001" height="1.6" fill="#6c6c71"/>
<rect x="334.45" y="476.73" width="21.50" height="14.37" fill="#e8e8ec"/>
<rect x="334.45" y="476.73" width="21.50" height="1.3" fill="#f6f6f8"/>
<rect x="334.45" y="489.30" width="21.50" height="1.8" fill="#b9b9be"/>
<rect x="334.45" y="476.73" width="1.1" height="14.37" fill="#f4f4f6"/>
<rect x="354.85" y="476.73" width="1.1" height="14.37" fill="#c6c6cb"/>
<rect x="357.85" y="476.73" width="22.10" height="14.37" fill="#eaeaee"/>
<rect x="357.85" y="476.73" width="22.10" height="1.3" fill="#f6f6f8"/>
<rect x="357.85" y="489.30" width="22.10" height="1.8" fill="#b9b9be"/>
<rect x="357.85" y="476.73" width="1.1" height="14.37" fill="#f4f4f6"/>
<rect x="378.85" y="476.73" width="1.1" height="14.37" fill="#c6c6cb"/>
<rect x="381.85" y="476.73" width="22.10" height="14.37" fill="#eaeaee"/>
<rect x="381.85" y="476.73" width="22.10" height="1.3" fill="#f6f6f8"/>
<rect x="381.85" y="489.30" width="22.10" height="1.8" fill="#b9b9be"/>
<rect x="381.85" y="476.73" width="1.1" height="14.37" fill="#f4f4f6"/>
<rect x="402.85" y="476.73" width="1.1" height="14.37" fill="#c6c6cb"/>
<rect x="405.85" y="476.73" width="22.30" height="14.37" fill="#e6e6ea"/>
<rect x="405.85" y="476.73" width="22.30" height="1.3" fill="#f6f6f8"/>
<rect x="405.85" y="489.30" width="22.30" height="1.8" fill="#b9b9be"/>
<rect x="405.85" y="476.73" width="1.1" height="14.37" fill="#f4f4f6"/>
<rect x="427.05" y="476.73" width="1.1" height="14.37" fill="#c6c6cb"/>
<rect x="430.05" y="476.73" width="23.45" height="14.37" fill="#dcdce0"/>
<rect x="430.05" y="476.73" width="23.45" height="1.3" fill="#f6f6f8"/>
<rect x="430.05" y="489.30" width="23.45" height="1.8" fill="#b9b9be"/>
<rect x="430.05" y="476.73" width="1.1" height="14.37" fill="#f4f4f6"/>
<rect x="452.40" y="476.73" width="1.1" height="14.37" fill="#c6c6cb"/>
<rect x="333.45" y="491.25" width="121.05000000000001" height="1.6" fill="#6c6c71"/>
<rect x="334.45" y="493.00" width="21.50" height="14.37" fill="#e8e8ec"/>
<rect x="334.45" y="493.00" width="21.50" height="1.3" fill="#f6f6f8"/>
<rect x="334.45" y="505.56" width="21.50" height="1.8" fill="#b9b9be"/>
<rect x="334.45" y="493.00" width="1.1" height="14.37" fill="#f4f4f6"/>
<rect x="354.85" y="493.00" width="1.1" height="14.37" fill="#c6c6cb"/>
<rect x="357.85" y="493.00" width="22.10" height="14.37" fill="#eaeaee"/>
<rect x="357.85" y="493.00" width="22.10" height="1.3" fill="#f6f6f8"/>
<rect x="357.85" y="505.56" width="22.10" height="1.8" fill="#b9b9be"/>
<rect x="357.85" y="493.00" width="1.1" height="14.37" fill="#f4f4f6"/>
<rect x="378.85" y="493.00" width="1.1" height="14.37" fill="#c6c6cb"/>
<rect x="381.85" y="493.00" width="22.10" height="14.37" fill="#eaeaee"/>
<rect x="381.85" y="493.00" width="22.10" height="1.3" fill="#f6f6f8"/>
<rect x="381.85" y="505.56" width="22.10" height="1.8" fill="#b9b9be"/>
<rect x="381.85" y="493.00" width="1.1" height="14.37" fill="#f4f4f6"/>
<rect x="402.85" y="493.00" width="1.1" height="14.37" fill="#c6c6cb"/>
<rect x="405.85" y="493.00" width="22.30" height="14.37" fill="#e6e6ea"/>
<rect x="405.85" y="493.00" width="22.30" height="1.3" fill="#f6f6f8"/>
<rect x="405.85" y="505.56" width="22.30" height="1.8" fill="#b9b9be"/>
<rect x="405.85" y="493.00" width="1.1" height="14.37" fill="#f4f4f6"/>
<rect x="427.05" y="493.00" width="1.1" height="14.37" fill="#c6c6cb"/>
<rect x="430.05" y="493.00" width="23.45" height="14.37" fill="#dcdce0"/>
<rect x="430.05" y="493.00" width="23.45" height="1.3" fill="#f6f6f8"/>
<rect x="430.05" y="505.56" width="23.45" height="1.8" fill="#b9b9be"/>
<rect x="430.05" y="493.00" width="1.1" height="14.37" fill="#f4f4f6"/>
<rect x="452.40" y="493.00" width="1.1" height="14.37" fill="#c6c6cb"/>
<rect x="333.45" y="507.51" width="121.05000000000001" height="1.6" fill="#6c6c71"/>
<rect x="334.45" y="509.26" width="21.50" height="14.37" fill="#e8e8ec"/>
<rect x="334.45" y="509.26" width="21.50" height="1.3" fill="#f6f6f8"/>
<rect x="334.45" y="521.83" width="21.50" height="1.8" fill="#b9b9be"/>
<rect x="334.45" y="509.26" width="1.1" height="14.37" fill="#f4f4f6"/>
<rect x="354.85" y="509.26" width="1.1" height="14.37" fill="#c6c6cb"/>
<rect x="357.85" y="509.26" width="22.10" height="14.37" fill="#eaeaee"/>
<rect x="357.85" y="509.26" width="22.10" height="1.3" fill="#f6f6f8"/>
<rect x="357.85" y="521.83" width="22.10" height="1.8" fill="#b9b9be"/>
<rect x="357.85" y="509.26" width="1.1" height="14.37" fill="#f4f4f6"/>
<rect x="378.85" y="509.26" width="1.1" height="14.37" fill="#c6c6cb"/>
<rect x="381.85" y="509.26" width="22.10" height="14.37" fill="#eaeaee"/>
<rect x="381.85" y="509.26" width="22.10" height="1.3" fill="#f6f6f8"/>
<rect x="381.85" y="521.83" width="22.10" height="1.8" fill="#b9b9be"/>
<rect x="381.85" y="509.26" width="1.1" height="14.37" fill="#f4f4f6"/>
<rect x="402.85" y="509.26" width="1.1" height="14.37" fill="#c6c6cb"/>
<rect x="405.85" y="509.26" width="22.30" height="14.37" fill="#e6e6ea"/>
<rect x="405.85" y="509.26" width="22.30" height="1.3" fill="#f6f6f8"/>
<rect x="405.85" y="521.83" width="22.30" height="1.8" fill="#b9b9be"/>
<rect x="405.85" y="509.26" width="1.1" height="14.37" fill="#f4f4f6"/>
<rect x="427.05" y="509.26" width="1.1" height="14.37" fill="#c6c6cb"/>
<rect x="430.05" y="509.26" width="23.45" height="14.37" fill="#dcdce0"/>
<rect x="430.05" y="509.26" width="23.45" height="1.3" fill="#f6f6f8"/>
<rect x="430.05" y="521.83" width="23.45" height="1.8" fill="#b9b9be"/>
<rect x="430.05" y="509.26" width="1.1" height="14.37" fill="#f4f4f6"/>
<rect x="452.40" y="509.26" width="1.1" height="14.37" fill="#c6c6cb"/>
<rect x="333.45" y="523.78" width="121.05000000000001" height="1.6" fill="#6c6c71"/>
<rect x="334.45" y="525.53" width="21.50" height="14.36" fill="#e8e8ec"/>
<rect x="334.45" y="525.53" width="21.50" height="1.3" fill="#f6f6f8"/>
<rect x="334.45" y="538.09" width="21.50" height="1.8" fill="#b9b9be"/>
<rect x="334.45" y="525.53" width="1.1" height="14.36" fill="#f4f4f6"/>
<rect x="354.85" y="525.53" width="1.1" height="14.36" fill="#c6c6cb"/>
<rect x="357.85" y="525.53" width="22.10" height="14.36" fill="#eaeaee"/>
<rect x="357.85" y="525.53" width="22.10" height="1.3" fill="#f6f6f8"/>
<rect x="357.85" y="538.09" width="22.10" height="1.8" fill="#b9b9be"/>
<rect x="357.85" y="525.53" width="1.1" height="14.36" fill="#f4f4f6"/>
<rect x="378.85" y="525.53" width="1.1" height="14.36" fill="#c6c6cb"/>
<rect x="381.85" y="525.53" width="22.10" height="14.36" fill="#eaeaee"/>
<rect x="381.85" y="525.53" width="22.10" height="1.3" fill="#f6f6f8"/>
<rect x="381.85" y="538.09" width="22.10" height="1.8" fill="#b9b9be"/>
<rect x="381.85" y="525.53" width="1.1" height="14.36" fill="#f4f4f6"/>
<rect x="402.85" y="525.53" width="1.1" height="14.36" fill="#c6c6cb"/>
<rect x="405.85" y="525.53" width="22.30" height="14.36" fill="#e6e6ea"/>
<rect x="405.85" y="525.53" width="22.30" height="1.3" fill="#f6f6f8"/>
<rect x="405.85" y="538.09" width="22.30" height="1.8" fill="#b9b9be"/>
<rect x="405.85" y="525.53" width="1.1" height="14.36" fill="#f4f4f6"/>
<rect x="427.05" y="525.53" width="1.1" height="14.36" fill="#c6c6cb"/>
<rect x="430.05" y="525.53" width="23.45" height="14.36" fill="#dcdce0"/>
<rect x="430.05" y="525.53" width="23.45" height="1.3" fill="#f6f6f8"/>
<rect x="430.05" y="538.09" width="23.45" height="1.8" fill="#b9b9be"/>
<rect x="430.05" y="525.53" width="1.1" height="14.36" fill="#f4f4f6"/>
<rect x="452.40" y="525.53" width="1.1" height="14.36" fill="#c6c6cb"/>
<rect x="333.45" y="540.04" width="121.05000000000001" height="1.6" fill="#6c6c71"/>
<rect x="334.45" y="541.79" width="21.50" height="14.36" fill="#e8e8ec"/>
<rect x="334.45" y="541.79" width="21.50" height="1.3" fill="#f6f6f8"/>
<rect x="334.45" y="554.36" width="21.50" height="1.8" fill="#b9b9be"/>
<rect x="334.45" y="541.79" width="1.1" height="14.36" fill="#f4f4f6"/>
<rect x="354.85" y="541.79" width="1.1" height="14.36" fill="#c6c6cb"/>
<rect x="357.85" y="541.79" width="22.10" height="14.36" fill="#eaeaee"/>
<rect x="357.85" y="541.79" width="22.10" height="1.3" fill="#f6f6f8"/>
<rect x="357.85" y="554.36" width="22.10" height="1.8" fill="#b9b9be"/>
<rect x="357.85" y="541.79" width="1.1" height="14.36" fill="#f4f4f6"/>
<rect x="378.85" y="541.79" width="1.1" height="14.36" fill="#c6c6cb"/>
<rect x="381.85" y="541.79" width="22.10" height="14.36" fill="#eaeaee"/>
<rect x="381.85" y="541.79" width="22.10" height="1.3" fill="#f6f6f8"/>
<rect x="381.85" y="554.36" width="22.10" height="1.8" fill="#b9b9be"/>
<rect x="381.85" y="541.79" width="1.1" height="14.36" fill="#f4f4f6"/>
<rect x="402.85" y="541.79" width="1.1" height="14.36" fill="#c6c6cb"/>
<rect x="405.85" y="541.79" width="22.30" height="14.36" fill="#e6e6ea"/>
<rect x="405.85" y="541.79" width="22.30" height="1.3" fill="#f6f6f8"/>
<rect x="405.85" y="554.36" width="22.30" height="1.8" fill="#b9b9be"/>
<rect x="405.85" y="541.79" width="1.1" height="14.36" fill="#f4f4f6"/>
<rect x="427.05" y="541.79" width="1.1" height="14.36" fill="#c6c6cb"/>
<rect x="430.05" y="541.79" width="23.45" height="14.36" fill="#dcdce0"/>
<rect x="430.05" y="541.79" width="23.45" height="1.3" fill="#f6f6f8"/>
<rect x="430.05" y="554.36" width="23.45" height="1.8" fill="#b9b9be"/>
<rect x="430.05" y="541.79" width="1.1" height="14.36" fill="#f4f4f6"/>
<rect x="452.40" y="541.79" width="1.1" height="14.36" fill="#c6c6cb"/>
<rect x="333.45" y="556.31" width="121.05000000000001" height="1.6" fill="#6c6c71"/>
<rect x="334.45" y="558.06" width="21.50" height="14.36" fill="#e8e8ec"/>
<rect x="334.45" y="558.06" width="21.50" height="1.3" fill="#f6f6f8"/>
<rect x="334.45" y="570.62" width="21.50" height="1.8" fill="#b9b9be"/>
<rect x="334.45" y="558.06" width="1.1" height="14.36" fill="#f4f4f6"/>
<rect x="354.85" y="558.06" width="1.1" height="14.36" fill="#c6c6cb"/>
<rect x="357.85" y="558.06" width="22.10" height="14.36" fill="#eaeaee"/>
<rect x="357.85" y="558.06" width="22.10" height="1.3" fill="#f6f6f8"/>
<rect x="357.85" y="570.62" width="22.10" height="1.8" fill="#b9b9be"/>
<rect x="357.85" y="558.06" width="1.1" height="14.36" fill="#f4f4f6"/>
<rect x="378.85" y="558.06" width="1.1" height="14.36" fill="#c6c6cb"/>
<rect x="381.85" y="558.06" width="22.10" height="14.36" fill="#eaeaee"/>
<rect x="381.85" y="558.06" width="22.10" height="1.3" fill="#f6f6f8"/>
<rect x="381.85" y="570.62" width="22.10" height="1.8" fill="#b9b9be"/>
<rect x="381.85" y="558.06" width="1.1" height="14.36" fill="#f4f4f6"/>
<rect x="402.85" y="558.06" width="1.1" height="14.36" fill="#c6c6cb"/>
<rect x="405.85" y="558.06" width="22.30" height="14.36" fill="#e6e6ea"/>
<rect x="405.85" y="558.06" width="22.30" height="1.3" fill="#f6f6f8"/>
<rect x="405.85" y="570.62" width="22.30" height="1.8" fill="#b9b9be"/>
<rect x="405.85" y="558.06" width="1.1" height="14.36" fill="#f4f4f6"/>
<rect x="427.05" y="558.06" width="1.1" height="14.36" fill="#c6c6cb"/>
<rect x="430.05" y="558.06" width="23.45" height="14.36" fill="#dcdce0"/>
<rect x="430.05" y="558.06" width="23.45" height="1.3" fill="#f6f6f8"/>
<rect x="430.05" y="570.62" width="23.45" height="1.8" fill="#b9b9be"/>
<rect x="430.05" y="558.06" width="1.1" height="14.36" fill="#f4f4f6"/>
<rect x="452.40" y="558.06" width="1.1" height="14.36" fill="#c6c6cb"/>
<rect x="333.45" y="572.57" width="121.05000000000001" height="1.6" fill="#6c6c71"/>
<rect x="334.45" y="574.32" width="21.50" height="14.36" fill="#e8e8ec"/>
<rect x="334.45" y="574.32" width="21.50" height="1.3" fill="#f6f6f8"/>
<rect x="334.45" y="586.88" width="21.50" height="1.8" fill="#b9b9be"/>
<rect x="334.45" y="574.32" width="1.1" height="14.36" fill="#f4f4f6"/>
<rect x="354.85" y="574.32" width="1.1" height="14.36" fill="#c6c6cb"/>
<rect x="357.85" y="574.32" width="22.10" height="14.36" fill="#eaeaee"/>
<rect x="357.85" y="574.32" width="22.10" height="1.3" fill="#f6f6f8"/>
<rect x="357.85" y="586.88" width="22.10" height="1.8" fill="#b9b9be"/>
<rect x="357.85" y="574.32" width="1.1" height="14.36" fill="#f4f4f6"/>
<rect x="378.85" y="574.32" width="1.1" height="14.36" fill="#c6c6cb"/>
<rect x="381.85" y="574.32" width="22.10" height="14.36" fill="#eaeaee"/>
<rect x="381.85" y="574.32" width="22.10" height="1.3" fill="#f6f6f8"/>
<rect x="381.85" y="586.88" width="22.10" height="1.8" fill="#b9b9be"/>
<rect x="381.85" y="574.32" width="1.1" height="14.36" fill="#f4f4f6"/>
<rect x="402.85" y="574.32" width="1.1" height="14.36" fill="#c6c6cb"/>
<rect x="405.85" y="574.32" width="22.30" height="14.36" fill="#e6e6ea"/>
<rect x="405.85" y="574.32" width="22.30" height="1.3" fill="#f6f6f8"/>
<rect x="405.85" y="586.88" width="22.30" height="1.8" fill="#b9b9be"/>
<rect x="405.85" y="574.32" width="1.1" height="14.36" fill="#f4f4f6"/>
<rect x="427.05" y="574.32" width="1.1" height="14.36" fill="#c6c6cb"/>
<rect x="430.05" y="574.32" width="23.45" height="14.36" fill="#dcdce0"/>
<rect x="430.05" y="574.32" width="23.45" height="1.3" fill="#f6f6f8"/>
<rect x="430.05" y="586.88" width="23.45" height="1.8" fill="#b9b9be"/>
<rect x="430.05" y="574.32" width="1.1" height="14.36" fill="#f4f4f6"/>
<rect x="452.40" y="574.32" width="1.1" height="14.36" fill="#c6c6cb"/>
<rect x="333.45" y="588.84" width="121.05000000000001" height="1.6" fill="#6c6c71"/>
<rect x="334.45" y="590.59" width="21.50" height="14.37" fill="#e8e8ec"/>
<rect x="334.45" y="590.59" width="21.50" height="1.3" fill="#f6f6f8"/>
<rect x="334.45" y="603.15" width="21.50" height="1.8" fill="#b9b9be"/>
<rect x="334.45" y="590.59" width="1.1" height="14.37" fill="#f4f4f6"/>
<rect x="354.85" y="590.59" width="1.1" height="14.37" fill="#c6c6cb"/>
<rect x="357.85" y="590.59" width="22.10" height="14.37" fill="#eaeaee"/>
<rect x="357.85" y="590.59" width="22.10" height="1.3" fill="#f6f6f8"/>
<rect x="357.85" y="603.15" width="22.10" height="1.8" fill="#b9b9be"/>
<rect x="357.85" y="590.59" width="1.1" height="14.37" fill="#f4f4f6"/>
<rect x="378.85" y="590.59" width="1.1" height="14.37" fill="#c6c6cb"/>
<rect x="381.85" y="590.59" width="22.10" height="14.37" fill="#eaeaee"/>
<rect x="381.85" y="590.59" width="22.10" height="1.3" fill="#f6f6f8"/>
<rect x="381.85" y="603.15" width="22.10" height="1.8" fill="#b9b9be"/>
<rect x="381.85" y="590.59" width="1.1" height="14.37" fill="#f4f4f6"/>
<rect x="402.85" y="590.59" width="1.1" height="14.37" fill="#c6c6cb"/>
<rect x="405.85" y="590.59" width="22.30" height="14.37" fill="#e6e6ea"/>
<rect x="405.85" y="590.59" width="22.30" height="1.3" fill="#f6f6f8"/>
<rect x="405.85" y="603.15" width="22.30" height="1.8" fill="#b9b9be"/>
<rect x="405.85" y="590.59" width="1.1" height="14.37" fill="#f4f4f6"/>
<rect x="427.05" y="590.59" width="1.1" height="14.37" fill="#c6c6cb"/>
<rect x="430.05" y="590.59" width="23.45" height="14.37" fill="#dcdce0"/>
<rect x="430.05" y="590.59" width="23.45" height="1.3" fill="#f6f6f8"/>
<rect x="430.05" y="603.15" width="23.45" height="1.8" fill="#b9b9be"/>
<rect x="430.05" y="590.59" width="1.1" height="14.37" fill="#f4f4f6"/>
<rect x="452.40" y="590.59" width="1.1" height="14.37" fill="#c6c6cb"/>
<rect x="333.45" y="605.10" width="121.05000000000001" height="1.6" fill="#6c6c71"/>
<rect x="334.45" y="606.85" width="21.50" height="14.36" fill="#e8e8ec"/>
<rect x="334.45" y="606.85" width="21.50" height="1.3" fill="#f6f6f8"/>
<rect x="334.45" y="619.42" width="21.50" height="1.8" fill="#b9b9be"/>
<rect x="334.45" y="606.85" width="1.1" height="14.36" fill="#f4f4f6"/>
<rect x="354.85" y="606.85" width="1.1" height="14.36" fill="#c6c6cb"/>
<rect x="357.85" y="606.85" width="22.10" height="14.36" fill="#eaeaee"/>
<rect x="357.85" y="606.85" width="22.10" height="1.3" fill="#f6f6f8"/>
<rect x="357.85" y="619.42" width="22.10" height="1.8" fill="#b9b9be"/>
<rect x="357.85" y="606.85" width="1.1" height="14.36" fill="#f4f4f6"/>
<rect x="378.85" y="606.85" width="1.1" height="14.36" fill="#c6c6cb"/>
<rect x="381.85" y="606.85" width="22.10" height="14.36" fill="#eaeaee"/>
<rect x="381.85" y="606.85" width="22.10" height="1.3" fill="#f6f6f8"/>
<rect x="381.85" y="619.42" width="22.10" height="1.8" fill="#b9b9be"/>
<rect x="381.85" y="606.85" width="1.1" height="14.36" fill="#f4f4f6"/>
<rect x="402.85" y="606.85" width="1.1" height="14.36" fill="#c6c6cb"/>
<rect x="405.85" y="606.85" width="22.30" height="14.36" fill="#e6e6ea"/>
<rect x="405.85" y="606.85" width="22.30" height="1.3" fill="#f6f6f8"/>
<rect x="405.85" y="619.42" width="22.30" height="1.8" fill="#b9b9be"/>
<rect x="405.85" y="606.85" width="1.1" height="14.36" fill="#f4f4f6"/>
<rect x="427.05" y="606.85" width="1.1" height="14.36" fill="#c6c6cb"/>
<rect x="430.05" y="606.85" width="23.45" height="14.36" fill="#dcdce0"/>
<rect x="430.05" y="606.85" width="23.45" height="1.3" fill="#f6f6f8"/>
<rect x="430.05" y="619.42" width="23.45" height="1.8" fill="#b9b9be"/>
<rect x="430.05" y="606.85" width="1.1" height="14.36" fill="#f4f4f6"/>
<rect x="452.40" y="606.85" width="1.1" height="14.36" fill="#c6c6cb"/>
<rect x="333.45" y="621.37" width="121.05000000000001" height="1.6" fill="#6c6c71"/>
<rect x="334.45" y="623.12" width="21.50" height="14.36" fill="#e8e8ec"/>
<rect x="334.45" y="623.12" width="21.50" height="1.3" fill="#f6f6f8"/>
<rect x="334.45" y="635.68" width="21.50" height="1.8" fill="#b9b9be"/>
<rect x="334.45" y="623.12" width="1.1" height="14.36" fill="#f4f4f6"/>
<rect x="354.85" y="623.12" width="1.1" height="14.36" fill="#c6c6cb"/>
<rect x="357.85" y="623.12" width="22.10" height="14.36" fill="#eaeaee"/>
<rect x="357.85" y="623.12" width="22.10" height="1.3" fill="#f6f6f8"/>
<rect x="357.85" y="635.68" width="22.10" height="1.8" fill="#b9b9be"/>
<rect x="357.85" y="623.12" width="1.1" height="14.36" fill="#f4f4f6"/>
<rect x="378.85" y="623.12" width="1.1" height="14.36" fill="#c6c6cb"/>
<rect x="381.85" y="623.12" width="22.10" height="14.36" fill="#eaeaee"/>
<rect x="381.85" y="623.12" width="22.10" height="1.3" fill="#f6f6f8"/>
<rect x="381.85" y="635.68" width="22.10" height="1.8" fill="#b9b9be"/>
<rect x="381.85" y="623.12" width="1.1" height="14.36" fill="#f4f4f6"/>
<rect x="402.85" y="623.12" width="1.1" height="14.36" fill="#c6c6cb"/>
<rect x="405.85" y="623.12" width="22.30" height="14.36" fill="#e6e6ea"/>
<rect x="405.85" y="623.12" width="22.30" height="1.3" fill="#f6f6f8"/>
<rect x="405.85" y="635.68" width="22.30" height="1.8" fill="#b9b9be"/>
<rect x="405.85" y="623.12" width="1.1" height="14.36" fill="#f4f4f6"/>
<rect x="427.05" y="623.12" width="1.1" height="14.36" fill="#c6c6cb"/>
<rect x="430.05" y="623.12" width="23.45" height="14.36" fill="#dcdce0"/>
<rect x="430.05" y="623.12" width="23.45" height="1.3" fill="#f6f6f8"/>
<rect x="430.05" y="635.68" width="23.45" height="1.8" fill="#b9b9be"/>
<rect x="430.05" y="623.12" width="1.1" height="14.36" fill="#f4f4f6"/>
<rect x="452.40" y="623.12" width="1.1" height="14.36" fill="#c6c6cb"/>
<rect x="333.45" y="637.63" width="121.05000000000001" height="1.6" fill="#6c6c71"/>
<rect x="334.45" y="639.38" width="21.50" height="14.36" fill="#e8e8ec"/>
<rect x="334.45" y="639.38" width="21.50" height="1.3" fill="#f6f6f8"/>
<rect x="334.45" y="651.95" width="21.50" height="1.8" fill="#b9b9be"/>
<rect x="334.45" y="639.38" width="1.1" height="14.36" fill="#f4f4f6"/>
<rect x="354.85" y="639.38" width="1.1" height="14.36" fill="#c6c6cb"/>
<rect x="357.85" y="639.38" width="22.10" height="14.36" fill="#eaeaee"/>
<rect x="357.85" y="639.38" width="22.10" height="1.3" fill="#f6f6f8"/>
<rect x="357.85" y="651.95" width="22.10" height="1.8" fill="#b9b9be"/>
<rect x="357.85" y="639.38" width="1.1" height="14.36" fill="#f4f4f6"/>
<rect x="378.85" y="639.38" width="1.1" height="14.36" fill="#c6c6cb"/>
<rect x="381.85" y="639.38" width="22.10" height="14.36" fill="#eaeaee"/>
<rect x="381.85" y="639.38" width="22.10" height="1.3" fill="#f6f6f8"/>
<rect x="381.85" y="651.95" width="22.10" height="1.8" fill="#b9b9be"/>
<rect x="381.85" y="639.38" width="1.1" height="14.36" fill="#f4f4f6"/>
<rect x="402.85" y="639.38" width="1.1" height="14.36" fill="#c6c6cb"/>
<rect x="405.85" y="639.38" width="22.30" height="14.36" fill="#e6e6ea"/>
<rect x="405.85" y="639.38" width="22.30" height="1.3" fill="#f6f6f8"/>
<rect x="405.85" y="651.95" width="22.30" height="1.8" fill="#b9b9be"/>
<rect x="405.85" y="639.38" width="1.1" height="14.36" fill="#f4f4f6"/>
<rect x="427.05" y="639.38" width="1.1" height="14.36" fill="#c6c6cb"/>
<rect x="430.05" y="639.38" width="23.45" height="14.36" fill="#dcdce0"/>
<rect x="430.05" y="639.38" width="23.45" height="1.3" fill="#f6f6f8"/>
<rect x="430.05" y="651.95" width="23.45" height="1.8" fill="#b9b9be"/>
<rect x="430.05" y="639.38" width="1.1" height="14.36" fill="#f4f4f6"/>
<rect x="452.40" y="639.38" width="1.1" height="14.36" fill="#c6c6cb"/>
<rect x="333.45" y="653.90" width="121.05000000000001" height="1.6" fill="#6c6c71"/>
<rect x="334.45" y="655.65" width="21.50" height="14.36" fill="#e8e8ec"/>
<rect x="334.45" y="655.65" width="21.50" height="1.3" fill="#f6f6f8"/>
<rect x="334.45" y="668.21" width="21.50" height="1.8" fill="#b9b9be"/>
<rect x="334.45" y="655.65" width="1.1" height="14.36" fill="#f4f4f6"/>
<rect x="354.85" y="655.65" width="1.1" height="14.36" fill="#c6c6cb"/>
<rect x="357.85" y="655.65" width="22.10" height="14.36" fill="#eaeaee"/>
<rect x="357.85" y="655.65" width="22.10" height="1.3" fill="#f6f6f8"/>
<rect x="357.85" y="668.21" width="22.10" height="1.8" fill="#b9b9be"/>
<rect x="357.85" y="655.65" width="1.1" height="14.36" fill="#f4f4f6"/>
<rect x="378.85" y="655.65" width="1.1" height="14.36" fill="#c6c6cb"/>
<rect x="381.85" y="655.65" width="22.10" height="14.36" fill="#eaeaee"/>
<rect x="381.85" y="655.65" width="22.10" height="1.3" fill="#f6f6f8"/>
<rect x="381.85" y="668.21" width="22.10" height="1.8" fill="#b9b9be"/>
<rect x="381.85" y="655.65" width="1.1" height="14.36" fill="#f4f4f6"/>
<rect x="402.85" y="655.65" width="1.1" height="14.36" fill="#c6c6cb"/>
<rect x="405.85" y="655.65" width="22.30" height="14.36" fill="#e6e6ea"/>
<rect x="405.85" y="655.65" width="22.30" height="1.3" fill="#f6f6f8"/>
<rect x="405.85" y="668.21" width="22.30" height="1.8" fill="#b9b9be"/>
<rect x="405.85" y="655.65" width="1.1" height="14.36" fill="#f4f4f6"/>
<rect x="427.05" y="655.65" width="1.1" height="14.36" fill="#c6c6cb"/>
<rect x="430.05" y="655.65" width="23.45" height="14.36" fill="#dcdce0"/>
<rect x="430.05" y="655.65" width="23.45" height="1.3" fill="#f6f6f8"/>
<rect x="430.05" y="668.21" width="23.45" height="1.8" fill="#b9b9be"/>
<rect x="430.05" y="655.65" width="1.1" height="14.36" fill="#f4f4f6"/>
<rect x="452.40" y="655.65" width="1.1" height="14.36" fill="#c6c6cb"/>
<rect x="333.45" y="670.16" width="121.05000000000001" height="1.6" fill="#6c6c71"/>
<rect x="334.45" y="671.91" width="21.50" height="14.36" fill="#e8e8ec"/>
<rect x="334.45" y="671.91" width="21.50" height="1.3" fill="#f6f6f8"/>
<rect x="334.45" y="684.48" width="21.50" height="1.8" fill="#b9b9be"/>
<rect x="334.45" y="671.91" width="1.1" height="14.36" fill="#f4f4f6"/>
<rect x="354.85" y="671.91" width="1.1" height="14.36" fill="#c6c6cb"/>
<rect x="357.85" y="671.91" width="22.10" height="14.36" fill="#eaeaee"/>
<rect x="357.85" y="671.91" width="22.10" height="1.3" fill="#f6f6f8"/>
<rect x="357.85" y="684.48" width="22.10" height="1.8" fill="#b9b9be"/>
<rect x="357.85" y="671.91" width="1.1" height="14.36" fill="#f4f4f6"/>
<rect x="378.85" y="671.91" width="1.1" height="14.36" fill="#c6c6cb"/>
<rect x="381.85" y="671.91" width="22.10" height="14.36" fill="#eaeaee"/>
<rect x="381.85" y="671.91" width="22.10" height="1.3" fill="#f6f6f8"/>
<rect x="381.85" y="684.48" width="22.10" height="1.8" fill="#b9b9be"/>
<rect x="381.85" y="671.91" width="1.1" height="14.36" fill="#f4f4f6"/>
<rect x="402.85" y="671.91" width="1.1" height="14.36" fill="#c6c6cb"/>
<rect x="405.85" y="671.91" width="22.30" height="14.36" fill="#e6e6ea"/>
<rect x="405.85" y="671.91" width="22.30" height="1.3" fill="#f6f6f8"/>
<rect x="405.85" y="684.48" width="22.30" height="1.8" fill="#b9b9be"/>
<rect x="405.85" y="671.91" width="1.1" height="14.36" fill="#f4f4f6"/>
<rect x="427.05" y="671.91" width="1.1" height="14.36" fill="#c6c6cb"/>
<rect x="430.05" y="671.91" width="23.45" height="14.36" fill="#dcdce0"/>
<rect x="430.05" y="671.91" width="23.45" height="1.3" fill="#f6f6f8"/>
<rect x="430.05" y="684.48" width="23.45" height="1.8" fill="#b9b9be"/>
<rect x="430.05" y="671.91" width="1.1" height="14.36" fill="#f4f4f6"/>
<rect x="452.40" y="671.91" width="1.1" height="14.36" fill="#c6c6cb"/>
<rect x="333.45" y="686.43" width="121.05000000000001" height="1.6" fill="#6c6c71"/>
<rect x="334.45" y="688.18" width="21.50" height="14.36" fill="#e8e8ec"/>
<rect x="334.45" y="688.18" width="21.50" height="1.3" fill="#f6f6f8"/>
<rect x="334.45" y="700.74" width="21.50" height="1.8" fill="#b9b9be"/>
<rect x="334.45" y="688.18" width="1.1" height="14.36" fill="#f4f4f6"/>
<rect x="354.85" y="688.18" width="1.1" height="14.36" fill="#c6c6cb"/>
<rect x="357.85" y="688.18" width="22.10" height="14.36" fill="#eaeaee"/>
<rect x="357.85" y="688.18" width="22.10" height="1.3" fill="#f6f6f8"/>
<rect x="357.85" y="700.74" width="22.10" height="1.8" fill="#b9b9be"/>
<rect x="357.85" y="688.18" width="1.1" height="14.36" fill="#f4f4f6"/>
<rect x="378.85" y="688.18" width="1.1" height="14.36" fill="#c6c6cb"/>
<rect x="381.85" y="688.18" width="22.10" height="14.36" fill="#eaeaee"/>
<rect x="381.85" y="688.18" width="22.10" height="1.3" fill="#f6f6f8"/>
<rect x="381.85" y="700.74" width="22.10" height="1.8" fill="#b9b9be"/>
<rect x="381.85" y="688.18" width="1.1" height="14.36" fill="#f4f4f6"/>
<rect x="402.85" y="688.18" width="1.1" height="14.36" fill="#c6c6cb"/>
<rect x="405.85" y="688.18" width="22.30" height="14.36" fill="#e6e6ea"/>
<rect x="405.85" y="688.18" width="22.30" height="1.3" fill="#f6f6f8"/>
<rect x="405.85" y="700.74" width="22.30" height="1.8" fill="#b9b9be"/>
<rect x="405.85" y="688.18" width="1.1" height="14.36" fill="#f4f4f6"/>
<rect x="427.05" y="688.18" width="1.1" height="14.36" fill="#c6c6cb"/>
<rect x="430.05" y="688.18" width="23.45" height="14.36" fill="#dcdce0"/>
<rect x="430.05" y="688.18" width="23.45" height="1.3" fill="#f6f6f8"/>
<rect x="430.05" y="700.74" width="23.45" height="1.8" fill="#b9b9be"/>
<rect x="430.05" y="688.18" width="1.1" height="14.36" fill="#f4f4f6"/>
<rect x="452.40" y="688.18" width="1.1" height="14.36" fill="#c6c6cb"/>
<rect x="333.45" y="702.69" width="121.05000000000001" height="1.6" fill="#6c6c71"/>
<rect x="334.45" y="704.44" width="21.50" height="14.37" fill="#e8e8ec"/>
<rect x="334.45" y="704.44" width="21.50" height="1.3" fill="#f6f6f8"/>
<rect x="334.45" y="717.01" width="21.50" height="1.8" fill="#b9b9be"/>
<rect x="334.45" y="704.44" width="1.1" height="14.37" fill="#f4f4f6"/>
<rect x="354.85" y="704.44" width="1.1" height="14.37" fill="#c6c6cb"/>
<rect x="357.85" y="704.44" width="22.10" height="14.37" fill="#eaeaee"/>
<rect x="357.85" y="704.44" width="22.10" height="1.3" fill="#f6f6f8"/>
<rect x="357.85" y="717.01" width="22.10" height="1.8" fill="#b9b9be"/>
<rect x="357.85" y="704.44" width="1.1" height="14.37" fill="#f4f4f6"/>
<rect x="378.85" y="704.44" width="1.1" height="14.37" fill="#c6c6cb"/>
<rect x="381.85" y="704.44" width="22.10" height="14.37" fill="#eaeaee"/>
<rect x="381.85" y="704.44" width="22.10" height="1.3" fill="#f6f6f8"/>
<rect x="381.85" y="717.01" width="22.10" height="1.8" fill="#b9b9be"/>
<rect x="381.85" y="704.44" width="1.1" height="14.37" fill="#f4f4f6"/>
<rect x="402.85" y="704.44" width="1.1" height="14.37" fill="#c6c6cb"/>
<rect x="405.85" y="704.44" width="22.30" height="14.37" fill="#e6e6ea"/>
<rect x="405.85" y="704.44" width="22.30" height="1.3" fill="#f6f6f8"/>
<rect x="405.85" y="717.01" width="22.30" height="1.8" fill="#b9b9be"/>
<rect x="405.85" y="704.44" width="1.1" height="14.37" fill="#f4f4f6"/>
<rect x="427.05" y="704.44" width="1.1" height="14.37" fill="#c6c6cb"/>
<rect x="430.05" y="704.44" width="23.45" height="14.37" fill="#dcdce0"/>
<rect x="430.05" y="704.44" width="23.45" height="1.3" fill="#f6f6f8"/>
<rect x="430.05" y="717.01" width="23.45" height="1.8" fill="#b9b9be"/>
<rect x="430.05" y="704.44" width="1.1" height="14.37" fill="#f4f4f6"/>
<rect x="452.40" y="704.44" width="1.1" height="14.37" fill="#c6c6cb"/>
<rect x="333.45" y="718.96" width="121.05000000000001" height="1.6" fill="#6c6c71"/>
<rect x="334.45" y="720.71" width="21.50" height="14.36" fill="#e8e8ec"/>
<rect x="334.45" y="720.71" width="21.50" height="1.3" fill="#f6f6f8"/>
<rect x="334.45" y="733.27" width="21.50" height="1.8" fill="#b9b9be"/>
<rect x="334.45" y="720.71" width="1.1" height="14.36" fill="#f4f4f6"/>
<rect x="354.85" y="720.71" width="1.1" height="14.36" fill="#c6c6cb"/>
<rect x="357.85" y="720.71" width="22.10" height="14.36" fill="#eaeaee"/>
<rect x="357.85" y="720.71" width="22.10" height="1.3" fill="#f6f6f8"/>
<rect x="357.85" y="733.27" width="22.10" height="1.8" fill="#b9b9be"/>
<rect x="357.85" y="720.71" width="1.1" height="14.36" fill="#f4f4f6"/>
<rect x="378.85" y="720.71" width="1.1" height="14.36" fill="#c6c6cb"/>
<rect x="381.85" y="720.71" width="22.10" height="14.36" fill="#eaeaee"/>
<rect x="381.85" y="720.71" width="22.10" height="1.3" fill="#f6f6f8"/>
<rect x="381.85" y="733.27" width="22.10" height="1.8" fill="#b9b9be"/>
<rect x="381.85" y="720.71" width="1.1" height="14.36" fill="#f4f4f6"/>
<rect x="402.85" y="720.71" width="1.1" height="14.36" fill="#c6c6cb"/>
<rect x="405.85" y="720.71" width="22.30" height="14.36" fill="#e6e6ea"/>
<rect x="405.85" y="720.71" width="22.30" height="1.3" fill="#f6f6f8"/>
<rect x="405.85" y="733.27" width="22.30" height="1.8" fill="#b9b9be"/>
<rect x="405.85" y="720.71" width="1.1" height="14.36" fill="#f4f4f6"/>
<rect x="427.05" y="720.71" width="1.1" height="14.36" fill="#c6c6cb"/>
<rect x="430.05" y="720.71" width="23.45" height="14.36" fill="#dcdce0"/>
<rect x="430.05" y="720.71" width="23.45" height="1.3" fill="#f6f6f8"/>
<rect x="430.05" y="733.27" width="23.45" height="1.8" fill="#b9b9be"/>
<rect x="430.05" y="720.71" width="1.1" height="14.36" fill="#f4f4f6"/>
<rect x="452.40" y="720.71" width="1.1" height="14.36" fill="#c6c6cb"/>
<rect x="333.45" y="735.22" width="121.05000000000001" height="1.6" fill="#6c6c71"/>
<rect x="334.45" y="736.97" width="21.50" height="14.36" fill="#e8e8ec"/>
<rect x="334.45" y="736.97" width="21.50" height="1.3" fill="#f6f6f8"/>
<rect x="334.45" y="749.54" width="21.50" height="1.8" fill="#b9b9be"/>
<rect x="334.45" y="736.97" width="1.1" height="14.36" fill="#f4f4f6"/>
<rect x="354.85" y="736.97" width="1.1" height="14.36" fill="#c6c6cb"/>
<rect x="357.85" y="736.97" width="22.10" height="14.36" fill="#eaeaee"/>
<rect x="357.85" y="736.97" width="22.10" height="1.3" fill="#f6f6f8"/>
<rect x="357.85" y="749.54" width="22.10" height="1.8" fill="#b9b9be"/>
<rect x="357.85" y="736.97" width="1.1" height="14.36" fill="#f4f4f6"/>
<rect x="378.85" y="736.97" width="1.1" height="14.36" fill="#c6c6cb"/>
<rect x="381.85" y="736.97" width="22.10" height="14.36" fill="#eaeaee"/>
<rect x="381.85" y="736.97" width="22.10" height="1.3" fill="#f6f6f8"/>
<rect x="381.85" y="749.54" width="22.10" height="1.8" fill="#b9b9be"/>
<rect x="381.85" y="736.97" width="1.1" height="14.36" fill="#f4f4f6"/>
<rect x="402.85" y="736.97" width="1.1" height="14.36" fill="#c6c6cb"/>
<rect x="405.85" y="736.97" width="22.30" height="14.36" fill="#e6e6ea"/>
<rect x="405.85" y="736.97" width="22.30" height="1.3" fill="#f6f6f8"/>
<rect x="405.85" y="749.54" width="22.30" height="1.8" fill="#b9b9be"/>
<rect x="405.85" y="736.97" width="1.1" height="14.36" fill="#f4f4f6"/>
<rect x="427.05" y="736.97" width="1.1" height="14.36" fill="#c6c6cb"/>
<rect x="430.05" y="736.97" width="23.45" height="14.36" fill="#dcdce0"/>
<rect x="430.05" y="736.97" width="23.45" height="1.3" fill="#f6f6f8"/>
<rect x="430.05" y="749.54" width="23.45" height="1.8" fill="#b9b9be"/>
<rect x="430.05" y="736.97" width="1.1" height="14.36" fill="#f4f4f6"/>
<rect x="452.40" y="736.97" width="1.1" height="14.36" fill="#c6c6cb"/>
<rect x="333.45" y="751.49" width="121.05000000000001" height="1.6" fill="#6c6c71"/>
<rect x="334.45" y="753.24" width="21.50" height="14.36" fill="#e8e8ec"/>
<rect x="334.45" y="753.24" width="21.50" height="1.3" fill="#f6f6f8"/>
<rect x="334.45" y="765.80" width="21.50" height="1.8" fill="#b9b9be"/>
<rect x="334.45" y="753.24" width="1.1" height="14.36" fill="#f4f4f6"/>
<rect x="354.85" y="753.24" width="1.1" height="14.36" fill="#c6c6cb"/>
<rect x="357.85" y="753.24" width="22.10" height="14.36" fill="#eaeaee"/>
<rect x="357.85" y="753.24" width="22.10" height="1.3" fill="#f6f6f8"/>
<rect x="357.85" y="765.80" width="22.10" height="1.8" fill="#b9b9be"/>
<rect x="357.85" y="753.24" width="1.1" height="14.36" fill="#f4f4f6"/>
<rect x="378.85" y="753.24" width="1.1" height="14.36" fill="#c6c6cb"/>
<rect x="381.85" y="753.24" width="22.10" height="14.36" fill="#eaeaee"/>
<rect x="381.85" y="753.24" width="22.10" height="1.3" fill="#f6f6f8"/>
<rect x="381.85" y="765.80" width="22.10" height="1.8" fill="#b9b9be"/>
<rect x="381.85" y="753.24" width="1.1" height="14.36" fill="#f4f4f6"/>
<rect x="402.85" y="753.24" width="1.1" height="14.36" fill="#c6c6cb"/>
<rect x="405.85" y="753.24" width="22.30" height="14.36" fill="#e6e6ea"/>
<rect x="405.85" y="753.24" width="22.30" height="1.3" fill="#f6f6f8"/>
<rect x="405.85" y="765.80" width="22.30" height="1.8" fill="#b9b9be"/>
<rect x="405.85" y="753.24" width="1.1" height="14.36" fill="#f4f4f6"/>
<rect x="427.05" y="753.24" width="1.1" height="14.36" fill="#c6c6cb"/>
<rect x="430.05" y="753.24" width="23.45" height="14.36" fill="#dcdce0"/>
<rect x="430.05" y="753.24" width="23.45" height="1.3" fill="#f6f6f8"/>
<rect x="430.05" y="765.80" width="23.45" height="1.8" fill="#b9b9be"/>
<rect x="430.05" y="753.24" width="1.1" height="14.36" fill="#f4f4f6"/>
<rect x="452.40" y="753.24" width="1.1" height="14.36" fill="#c6c6cb"/>
<rect x="333.45" y="767.75" width="121.05000000000001" height="1.6" fill="#6c6c71"/>
<rect x="334.45" y="769.50" width="21.50" height="14.36" fill="#e8e8ec"/>
<rect x="334.45" y="769.50" width="21.50" height="1.3" fill="#f6f6f8"/>
<rect x="334.45" y="782.07" width="21.50" height="1.8" fill="#b9b9be"/>
<rect x="334.45" y="769.50" width="1.1" height="14.36" fill="#f4f4f6"/>
<rect x="354.85" y="769.50" width="1.1" height="14.36" fill="#c6c6cb"/>
<rect x="357.85" y="769.50" width="22.10" height="14.36" fill="#eaeaee"/>
<rect x="357.85" y="769.50" width="22.10" height="1.3" fill="#f6f6f8"/>
<rect x="357.85" y="782.07" width="22.10" height="1.8" fill="#b9b9be"/>
<rect x="357.85" y="769.50" width="1.1" height="14.36" fill="#f4f4f6"/>
<rect x="378.85" y="769.50" width="1.1" height="14.36" fill="#c6c6cb"/>
<rect x="381.85" y="769.50" width="22.10" height="14.36" fill="#eaeaee"/>
<rect x="381.85" y="769.50" width="22.10" height="1.3" fill="#f6f6f8"/>
<rect x="381.85" y="782.07" width="22.10" height="1.8" fill="#b9b9be"/>
<rect x="381.85" y="769.50" width="1.1" height="14.36" fill="#f4f4f6"/>
<rect x="402.85" y="769.50" width="1.1" height="14.36" fill="#c6c6cb"/>
<rect x="405.85" y="769.50" width="22.30" height="14.36" fill="#e6e6ea"/>
<rect x="405.85" y="769.50" width="22.30" height="1.3" fill="#f6f6f8"/>
<rect x="405.85" y="782.07" width="22.30" height="1.8" fill="#b9b9be"/>
<rect x="405.85" y="769.50" width="1.1" height="14.36" fill="#f4f4f6"/>
<rect x="427.05" y="769.50" width="1.1" height="14.36" fill="#c6c6cb"/>
<rect x="430.05" y="769.50" width="23.45" height="14.36" fill="#dcdce0"/>
<rect x="430.05" y="769.50" width="23.45" height="1.3" fill="#f6f6f8"/>
<rect x="430.05" y="782.07" width="23.45" height="1.8" fill="#b9b9be"/>
<rect x="430.05" y="769.50" width="1.1" height="14.36" fill="#f4f4f6"/>
<rect x="452.40" y="769.50" width="1.1" height="14.36" fill="#c6c6cb"/>
<rect x="333.45" y="784.02" width="121.05000000000001" height="1.6" fill="#6c6c71"/>
<rect x="334.45" y="785.77" width="21.50" height="14.36" fill="#e8e8ec"/>
<rect x="334.45" y="785.77" width="21.50" height="1.3" fill="#f6f6f8"/>
<rect x="334.45" y="798.33" width="21.50" height="1.8" fill="#b9b9be"/>
<rect x="334.45" y="785.77" width="1.1" height="14.36" fill="#f4f4f6"/>
<rect x="354.85" y="785.77" width="1.1" height="14.36" fill="#c6c6cb"/>
<rect x="357.85" y="785.77" width="22.10" height="14.36" fill="#eaeaee"/>
<rect x="357.85" y="785.77" width="22.10" height="1.3" fill="#f6f6f8"/>
<rect x="357.85" y="798.33" width="22.10" height="1.8" fill="#b9b9be"/>
<rect x="357.85" y="785.77" width="1.1" height="14.36" fill="#f4f4f6"/>
<rect x="378.85" y="785.77" width="1.1" height="14.36" fill="#c6c6cb"/>
<rect x="381.85" y="785.77" width="22.10" height="14.36" fill="#eaeaee"/>
<rect x="381.85" y="785.77" width="22.10" height="1.3" fill="#f6f6f8"/>
<rect x="381.85" y="798.33" width="22.10" height="1.8" fill="#b9b9be"/>
<rect x="381.85" y="785.77" width="1.1" height="14.36" fill="#f4f4f6"/>
<rect x="402.85" y="785.77" width="1.1" height="14.36" fill="#c6c6cb"/>
<rect x="405.85" y="785.77" width="22.30" height="14.36" fill="#e6e6ea"/>
<rect x="405.85" y="785.77" width="22.30" height="1.3" fill="#f6f6f8"/>
<rect x="405.85" y="798.33" width="22.30" height="1.8" fill="#b9b9be"/>
<rect x="405.85" y="785.77" width="1.1" height="14.36" fill="#f4f4f6"/>
<rect x="427.05" y="785.77" width="1.1" height="14.36" fill="#c6c6cb"/>
<rect x="430.05" y="785.77" width="23.45" height="14.36" fill="#dcdce0"/>
<rect x="430.05" y="785.77" width="23.45" height="1.3" fill="#f6f6f8"/>
<rect x="430.05" y="798.33" width="23.45" height="1.8" fill="#b9b9be"/>
<rect x="430.05" y="785.77" width="1.1" height="14.36" fill="#f4f4f6"/>
<rect x="452.40" y="785.77" width="1.1" height="14.36" fill="#c6c6cb"/>
<rect x="333.45" y="800.28" width="121.05000000000001" height="1.6" fill="#6c6c71"/>
<rect x="334.45" y="802.03" width="21.50" height="14.36" fill="#e8e8ec"/>
<rect x="334.45" y="802.03" width="21.50" height="1.3" fill="#f6f6f8"/>
<rect x="334.45" y="814.60" width="21.50" height="1.8" fill="#b9b9be"/>
<rect x="334.45" y="802.03" width="1.1" height="14.36" fill="#f4f4f6"/>
<rect x="354.85" y="802.03" width="1.1" height="14.36" fill="#c6c6cb"/>
<rect x="357.85" y="802.03" width="22.10" height="14.36" fill="#eaeaee"/>
<rect x="357.85" y="802.03" width="22.10" height="1.3" fill="#f6f6f8"/>
<rect x="357.85" y="814.60" width="22.10" height="1.8" fill="#b9b9be"/>
<rect x="357.85" y="802.03" width="1.1" height="14.36" fill="#f4f4f6"/>
<rect x="378.85" y="802.03" width="1.1" height="14.36" fill="#c6c6cb"/>
<rect x="381.85" y="802.03" width="22.10" height="14.36" fill="#eaeaee"/>
<rect x="381.85" y="802.03" width="22.10" height="1.3" fill="#f6f6f8"/>
<rect x="381.85" y="814.60" width="22.10" height="1.8" fill="#b9b9be"/>
<rect x="381.85" y="802.03" width="1.1" height="14.36" fill="#f4f4f6"/>
<rect x="402.85" y="802.03" width="1.1" height="14.36" fill="#c6c6cb"/>
<rect x="405.85" y="802.03" width="22.30" height="14.36" fill="#e6e6ea"/>
<rect x="405.85" y="802.03" width="22.30" height="1.3" fill="#f6f6f8"/>
<rect x="405.85" y="814.60" width="22.30" height="1.8" fill="#b9b9be"/>
<rect x="405.85" y="802.03" width="1.1" height="14.36" fill="#f4f4f6"/>
<rect x="427.05" y="802.03" width="1.1" height="14.36" fill="#c6c6cb"/>
<rect x="430.05" y="802.03" width="23.45" height="14.36" fill="#dcdce0"/>
<rect x="430.05" y="802.03" width="23.45" height="1.3" fill="#f6f6f8"/>
<rect x="430.05" y="814.60" width="23.45" height="1.8" fill="#b9b9be"/>
<rect x="430.05" y="802.03" width="1.1" height="14.36" fill="#f4f4f6"/>
<rect x="452.40" y="802.03" width="1.1" height="14.36" fill="#c6c6cb"/>
<rect x="333.45" y="816.55" width="121.05000000000001" height="1.6" fill="#6c6c71"/>
<rect x="334.45" y="818.30" width="21.50" height="14.37" fill="#e8e8ec"/>
<rect x="334.45" y="818.30" width="21.50" height="1.3" fill="#f6f6f8"/>
<rect x="334.45" y="830.86" width="21.50" height="1.8" fill="#b9b9be"/>
<rect x="334.45" y="818.30" width="1.1" height="14.37" fill="#f4f4f6"/>
<rect x="354.85" y="818.30" width="1.1" height="14.37" fill="#c6c6cb"/>
<rect x="357.85" y="818.30" width="22.10" height="14.37" fill="#eaeaee"/>
<rect x="357.85" y="818.30" width="22.10" height="1.3" fill="#f6f6f8"/>
<rect x="357.85" y="830.86" width="22.10" height="1.8" fill="#b9b9be"/>
<rect x="357.85" y="818.30" width="1.1" height="14.37" fill="#f4f4f6"/>
<rect x="378.85" y="818.30" width="1.1" height="14.37" fill="#c6c6cb"/>
<rect x="381.85" y="818.30" width="22.10" height="14.37" fill="#eaeaee"/>
<rect x="381.85" y="818.30" width="22.10" height="1.3" fill="#f6f6f8"/>
<rect x="381.85" y="830.86" width="22.10" height="1.8" fill="#b9b9be"/>
<rect x="381.85" y="818.30" width="1.1" height="14.37" fill="#f4f4f6"/>
<rect x="402.85" y="818.30" width="1.1" height="14.37" fill="#c6c6cb"/>
<rect x="405.85" y="818.30" width="22.30" height="14.37" fill="#e6e6ea"/>
<rect x="405.85" y="818.30" width="22.30" height="1.3" fill="#f6f6f8"/>
<rect x="405.85" y="830.86" width="22.30" height="1.8" fill="#b9b9be"/>
<rect x="405.85" y="818.30" width="1.1" height="14.37" fill="#f4f4f6"/>
<rect x="427.05" y="818.30" width="1.1" height="14.37" fill="#c6c6cb"/>
<rect x="430.05" y="818.30" width="23.45" height="14.37" fill="#dcdce0"/>
<rect x="430.05" y="818.30" width="23.45" height="1.3" fill="#f6f6f8"/>
<rect x="430.05" y="830.86" width="23.45" height="1.8" fill="#b9b9be"/>
<rect x="430.05" y="818.30" width="1.1" height="14.37" fill="#f4f4f6"/>
<rect x="452.40" y="818.30" width="1.1" height="14.37" fill="#c6c6cb"/>
<rect x="333.45" y="832.81" width="121.05000000000001" height="1.6" fill="#6c6c71"/>
<rect x="334.45" y="834.56" width="21.50" height="14.36" fill="#e8e8ec"/>
<rect x="334.45" y="834.56" width="21.50" height="1.3" fill="#f6f6f8"/>
<rect x="334.45" y="847.13" width="21.50" height="1.8" fill="#b9b9be"/>
<rect x="334.45" y="834.56" width="1.1" height="14.36" fill="#f4f4f6"/>
<rect x="354.85" y="834.56" width="1.1" height="14.36" fill="#c6c6cb"/>
<rect x="357.85" y="834.56" width="22.10" height="14.36" fill="#eaeaee"/>
<rect x="357.85" y="834.56" width="22.10" height="1.3" fill="#f6f6f8"/>
<rect x="357.85" y="847.13" width="22.10" height="1.8" fill="#b9b9be"/>
<rect x="357.85" y="834.56" width="1.1" height="14.36" fill="#f4f4f6"/>
<rect x="378.85" y="834.56" width="1.1" height="14.36" fill="#c6c6cb"/>
<rect x="381.85" y="834.56" width="22.10" height="14.36" fill="#eaeaee"/>
<rect x="381.85" y="834.56" width="22.10" height="1.3" fill="#f6f6f8"/>
<rect x="381.85" y="847.13" width="22.10" height="1.8" fill="#b9b9be"/>
<rect x="381.85" y="834.56" width="1.1" height="14.36" fill="#f4f4f6"/>
<rect x="402.85" y="834.56" width="1.1" height="14.36" fill="#c6c6cb"/>
<rect x="405.85" y="834.56" width="22.30" height="14.36" fill="#e6e6ea"/>
<rect x="405.85" y="834.56" width="22.30" height="1.3" fill="#f6f6f8"/>
<rect x="405.85" y="847.13" width="22.30" height="1.8" fill="#b9b9be"/>
<rect x="405.85" y="834.56" width="1.1" height="14.36" fill="#f4f4f6"/>
<rect x="427.05" y="834.56" width="1.1" height="14.36" fill="#c6c6cb"/>
<rect x="430.05" y="834.56" width="23.45" height="14.36" fill="#dcdce0"/>
<rect x="430.05" y="834.56" width="23.45" height="1.3" fill="#f6f6f8"/>
<rect x="430.05" y="847.13" width="23.45" height="1.8" fill="#b9b9be"/>
<rect x="430.05" y="834.56" width="1.1" height="14.36" fill="#f4f4f6"/>
<rect x="452.40" y="834.56" width="1.1" height="14.36" fill="#c6c6cb"/>
<rect x="333.45" y="849.08" width="121.05000000000001" height="1.6" fill="#6c6c71"/>
<rect x="334.45" y="850.83" width="21.50" height="14.36" fill="#e8e8ec"/>
<rect x="334.45" y="850.83" width="21.50" height="1.3" fill="#f6f6f8"/>
<rect x="334.45" y="863.39" width="21.50" height="1.8" fill="#b9b9be"/>
<rect x="334.45" y="850.83" width="1.1" height="14.36" fill="#f4f4f6"/>
<rect x="354.85" y="850.83" width="1.1" height="14.36" fill="#c6c6cb"/>
<rect x="357.85" y="850.83" width="22.10" height="14.36" fill="#eaeaee"/>
<rect x="357.85" y="850.83" width="22.10" height="1.3" fill="#f6f6f8"/>
<rect x="357.85" y="863.39" width="22.10" height="1.8" fill="#b9b9be"/>
<rect x="357.85" y="850.83" width="1.1" height="14.36" fill="#f4f4f6"/>
<rect x="378.85" y="850.83" width="1.1" height="14.36" fill="#c6c6cb"/>
<rect x="381.85" y="850.83" width="22.10" height="14.36" fill="#eaeaee"/>
<rect x="381.85" y="850.83" width="22.10" height="1.3" fill="#f6f6f8"/>
<rect x="381.85" y="863.39" width="22.10" height="1.8" fill="#b9b9be"/>
<rect x="381.85" y="850.83" width="1.1" height="14.36" fill="#f4f4f6"/>
<rect x="402.85" y="850.83" width="1.1" height="14.36" fill="#c6c6cb"/>
<rect x="405.85" y="850.83" width="22.30" height="14.36" fill="#e6e6ea"/>
<rect x="405.85" y="850.83" width="22.30" height="1.3" fill="#f6f6f8"/>
<rect x="405.85" y="863.39" width="22.30" height="1.8" fill="#b9b9be"/>
<rect x="405.85" y="850.83" width="1.1" height="14.36" fill="#f4f4f6"/>
<rect x="427.05" y="850.83" width="1.1" height="14.36" fill="#c6c6cb"/>
<rect x="430.05" y="850.83" width="23.45" height="14.36" fill="#dcdce0"/>
<rect x="430.05" y="850.83" width="23.45" height="1.3" fill="#f6f6f8"/>
<rect x="430.05" y="863.39" width="23.45" height="1.8" fill="#b9b9be"/>
<rect x="430.05" y="850.83" width="1.1" height="14.36" fill="#f4f4f6"/>
<rect x="452.40" y="850.83" width="1.1" height="14.36" fill="#c6c6cb"/>
<rect x="333.45" y="865.34" width="121.05000000000001" height="1.6" fill="#6c6c71"/>
<rect x="334.45" y="867.09" width="21.50" height="14.36" fill="#e8e8ec"/>
<rect x="334.45" y="867.09" width="21.50" height="1.3" fill="#f6f6f8"/>
<rect x="334.45" y="879.66" width="21.50" height="1.8" fill="#b9b9be"/>
<rect x="334.45" y="867.09" width="1.1" height="14.36" fill="#f4f4f6"/>
<rect x="354.85" y="867.09" width="1.1" height="14.36" fill="#c6c6cb"/>
<rect x="357.85" y="867.09" width="22.10" height="14.36" fill="#eaeaee"/>
<rect x="357.85" y="867.09" width="22.10" height="1.3" fill="#f6f6f8"/>
<rect x="357.85" y="879.66" width="22.10" height="1.8" fill="#b9b9be"/>
<rect x="357.85" y="867.09" width="1.1" height="14.36" fill="#f4f4f6"/>
<rect x="378.85" y="867.09" width="1.1" height="14.36" fill="#c6c6cb"/>
<rect x="381.85" y="867.09" width="22.10" height="14.36" fill="#eaeaee"/>
<rect x="381.85" y="867.09" width="22.10" height="1.3" fill="#f6f6f8"/>
<rect x="381.85" y="879.66" width="22.10" height="1.8" fill="#b9b9be"/>
<rect x="381.85" y="867.09" width="1.1" height="14.36" fill="#f4f4f6"/>
<rect x="402.85" y="867.09" width="1.1" height="14.36" fill="#c6c6cb"/>
<rect x="405.85" y="867.09" width="22.30" height="14.36" fill="#e6e6ea"/>
<rect x="405.85" y="867.09" width="22.30" height="1.3" fill="#f6f6f8"/>
<rect x="405.85" y="879.66" width="22.30" height="1.8" fill="#b9b9be"/>
<rect x="405.85" y="867.09" width="1.1" height="14.36" fill="#f4f4f6"/>
<rect x="427.05" y="867.09" width="1.1" height="14.36" fill="#c6c6cb"/>
<rect x="430.05" y="867.09" width="23.45" height="14.36" fill="#dcdce0"/>
<rect x="430.05" y="867.09" width="23.45" height="1.3" fill="#f6f6f8"/>
<rect x="430.05" y="879.66" width="23.45" height="1.8" fill="#b9b9be"/>
<rect x="430.05" y="867.09" width="1.1" height="14.36" fill="#f4f4f6"/>
<rect x="452.40" y="867.09" width="1.1" height="14.36" fill="#c6c6cb"/>
<rect x="333.45" y="881.61" width="121.05000000000001" height="1.6" fill="#6c6c71"/>
<rect x="334.45" y="883.36" width="21.50" height="14.36" fill="#e8e8ec"/>
<rect x="334.45" y="883.36" width="21.50" height="1.3" fill="#f6f6f8"/>
<rect x="334.45" y="895.92" width="21.50" height="1.8" fill="#b9b9be"/>
<rect x="334.45" y="883.36" width="1.1" height="14.36" fill="#f4f4f6"/>
<rect x="354.85" y="883.36" width="1.1" height="14.36" fill="#c6c6cb"/>
<rect x="357.85" y="883.36" width="22.10" height="14.36" fill="#eaeaee"/>
<rect x="357.85" y="883.36" width="22.10" height="1.3" fill="#f6f6f8"/>
<rect x="357.85" y="895.92" width="22.10" height="1.8" fill="#b9b9be"/>
<rect x="357.85" y="883.36" width="1.1" height="14.36" fill="#f4f4f6"/>
<rect x="378.85" y="883.36" width="1.1" height="14.36" fill="#c6c6cb"/>
<rect x="381.85" y="883.36" width="22.10" height="14.36" fill="#eaeaee"/>
<rect x="381.85" y="883.36" width="22.10" height="1.3" fill="#f6f6f8"/>
<rect x="381.85" y="895.92" width="22.10" height="1.8" fill="#b9b9be"/>
<rect x="381.85" y="883.36" width="1.1" height="14.36" fill="#f4f4f6"/>
<rect x="402.85" y="883.36" width="1.1" height="14.36" fill="#c6c6cb"/>
<rect x="405.85" y="883.36" width="22.30" height="14.36" fill="#e6e6ea"/>
<rect x="405.85" y="883.36" width="22.30" height="1.3" fill="#f6f6f8"/>
<rect x="405.85" y="895.92" width="22.30" height="1.8" fill="#b9b9be"/>
<rect x="405.85" y="883.36" width="1.1" height="14.36" fill="#f4f4f6"/>
<rect x="427.05" y="883.36" width="1.1" height="14.36" fill="#c6c6cb"/>
<rect x="430.05" y="883.36" width="23.45" height="14.36" fill="#dcdce0"/>
<rect x="430.05" y="883.36" width="23.45" height="1.3" fill="#f6f6f8"/>
<rect x="430.05" y="895.92" width="23.45" height="1.8" fill="#b9b9be"/>
<rect x="430.05" y="883.36" width="1.1" height="14.36" fill="#f4f4f6"/>
<rect x="452.40" y="883.36" width="1.1" height="14.36" fill="#c6c6cb"/>
<rect x="333.45" y="897.87" width="121.05000000000001" height="1.6" fill="#6c6c71"/>
<rect x="334.45" y="899.62" width="21.50" height="14.36" fill="#e8e8ec"/>
<rect x="334.45" y="899.62" width="21.50" height="1.3" fill="#f6f6f8"/>
<rect x="334.45" y="912.19" width="21.50" height="1.8" fill="#b9b9be"/>
<rect x="334.45" y="899.62" width="1.1" height="14.36" fill="#f4f4f6"/>
<rect x="354.85" y="899.62" width="1.1" height="14.36" fill="#c6c6cb"/>
<rect x="357.85" y="899.62" width="22.10" height="14.36" fill="#eaeaee"/>
<rect x="357.85" y="899.62" width="22.10" height="1.3" fill="#f6f6f8"/>
<rect x="357.85" y="912.19" width="22.10" height="1.8" fill="#b9b9be"/>
<rect x="357.85" y="899.62" width="1.1" height="14.36" fill="#f4f4f6"/>
<rect x="378.85" y="899.62" width="1.1" height="14.36" fill="#c6c6cb"/>
<rect x="381.85" y="899.62" width="22.10" height="14.36" fill="#eaeaee"/>
<rect x="381.85" y="899.62" width="22.10" height="1.3" fill="#f6f6f8"/>
<rect x="381.85" y="912.19" width="22.10" height="1.8" fill="#b9b9be"/>
<rect x="381.85" y="899.62" width="1.1" height="14.36" fill="#f4f4f6"/>
<rect x="402.85" y="899.62" width="1.1" height="14.36" fill="#c6c6cb"/>
<rect x="405.85" y="899.62" width="22.30" height="14.36" fill="#e6e6ea"/>
<rect x="405.85" y="899.62" width="22.30" height="1.3" fill="#f6f6f8"/>
<rect x="405.85" y="912.19" width="22.30" height="1.8" fill="#b9b9be"/>
<rect x="405.85" y="899.62" width="1.1" height="14.36" fill="#f4f4f6"/>
<rect x="427.05" y="899.62" width="1.1" height="14.36" fill="#c6c6cb"/>
<rect x="430.05" y="899.62" width="23.45" height="14.36" fill="#dcdce0"/>
<rect x="430.05" y="899.62" width="23.45" height="1.3" fill="#f6f6f8"/>
<rect x="430.05" y="912.19" width="23.45" height="1.8" fill="#b9b9be"/>
<rect x="430.05" y="899.62" width="1.1" height="14.36" fill="#f4f4f6"/>
<rect x="452.40" y="899.62" width="1.1" height="14.36" fill="#c6c6cb"/>
<rect x="333.45" y="914.14" width="121.05000000000001" height="1.6" fill="#6c6c71"/>
<rect x="334.45" y="915.89" width="21.50" height="14.36" fill="#e8e8ec"/>
<rect x="334.45" y="915.89" width="21.50" height="1.3" fill="#f6f6f8"/>
<rect x="334.45" y="928.45" width="21.50" height="1.8" fill="#b9b9be"/>
<rect x="334.45" y="915.89" width="1.1" height="14.36" fill="#f4f4f6"/>
<rect x="354.85" y="915.89" width="1.1" height="14.36" fill="#c6c6cb"/>
<rect x="357.85" y="915.89" width="22.10" height="14.36" fill="#eaeaee"/>
<rect x="357.85" y="915.89" width="22.10" height="1.3" fill="#f6f6f8"/>
<rect x="357.85" y="928.45" width="22.10" height="1.8" fill="#b9b9be"/>
<rect x="357.85" y="915.89" width="1.1" height="14.36" fill="#f4f4f6"/>
<rect x="378.85" y="915.89" width="1.1" height="14.36" fill="#c6c6cb"/>
<rect x="381.85" y="915.89" width="22.10" height="14.36" fill="#eaeaee"/>
<rect x="381.85" y="915.89" width="22.10" height="1.3" fill="#f6f6f8"/>
<rect x="381.85" y="928.45" width="22.10" height="1.8" fill="#b9b9be"/>
<rect x="381.85" y="915.89" width="1.1" height="14.36" fill="#f4f4f6"/>
<rect x="402.85" y="915.89" width="1.1" height="14.36" fill="#c6c6cb"/>
<rect x="405.85" y="915.89" width="22.30" height="14.36" fill="#e6e6ea"/>
<rect x="405.85" y="915.89" width="22.30" height="1.3" fill="#f6f6f8"/>
<rect x="405.85" y="928.45" width="22.30" height="1.8" fill="#b9b9be"/>
<rect x="405.85" y="915.89" width="1.1" height="14.36" fill="#f4f4f6"/>
<rect x="427.05" y="915.89" width="1.1" height="14.36" fill="#c6c6cb"/>
<rect x="430.05" y="915.89" width="23.45" height="14.36" fill="#dcdce0"/>
<rect x="430.05" y="915.89" width="23.45" height="1.3" fill="#f6f6f8"/>
<rect x="430.05" y="928.45" width="23.45" height="1.8" fill="#b9b9be"/>
<rect x="430.05" y="915.89" width="1.1" height="14.36" fill="#f4f4f6"/>
<rect x="452.40" y="915.89" width="1.1" height="14.36" fill="#c6c6cb"/>
<rect x="333.45" y="930.40" width="121.05000000000001" height="1.6" fill="#6c6c71"/>
<rect x="334.45" y="932.15" width="21.50" height="13.85" fill="#e8e8ec"/>
<rect x="334.45" y="932.15" width="21.50" height="1.3" fill="#f6f6f8"/>
<rect x="334.45" y="944.20" width="21.50" height="1.8" fill="#b9b9be"/>
<rect x="334.45" y="932.15" width="1.1" height="13.85" fill="#f4f4f6"/>
<rect x="354.85" y="932.15" width="1.1" height="13.85" fill="#c6c6cb"/>
<rect x="357.85" y="932.15" width="22.10" height="13.85" fill="#eaeaee"/>
<rect x="357.85" y="932.15" width="22.10" height="1.3" fill="#f6f6f8"/>
<rect x="357.85" y="944.20" width="22.10" height="1.8" fill="#b9b9be"/>
<rect x="357.85" y="932.15" width="1.1" height="13.85" fill="#f4f4f6"/>
<rect x="378.85" y="932.15" width="1.1" height="13.85" fill="#c6c6cb"/>
<rect x="381.85" y="932.15" width="22.10" height="13.85" fill="#eaeaee"/>
<rect x="381.85" y="932.15" width="22.10" height="1.3" fill="#f6f6f8"/>
<rect x="381.85" y="944.20" width="22.10" height="1.8" fill="#b9b9be"/>
<rect x="381.85" y="932.15" width="1.1" height="13.85" fill="#f4f4f6"/>
<rect x="402.85" y="932.15" width="1.1" height="13.85" fill="#c6c6cb"/>
<rect x="405.85" y="932.15" width="22.30" height="13.85" fill="#e6e6ea"/>
<rect x="405.85" y="932.15" width="22.30" height="1.3" fill="#f6f6f8"/>
<rect x="405.85" y="944.20" width="22.30" height="1.8" fill="#b9b9be"/>
<rect x="405.85" y="932.15" width="1.1" height="13.85" fill="#f4f4f6"/>
<rect x="427.05" y="932.15" width="1.1" height="13.85" fill="#c6c6cb"/>
<rect x="430.05" y="932.15" width="23.45" height="13.85" fill="#dcdce0"/>
<rect x="430.05" y="932.15" width="23.45" height="1.3" fill="#f6f6f8"/>
<rect x="430.05" y="944.20" width="23.45" height="1.8" fill="#b9b9be"/>
<rect x="430.05" y="932.15" width="1.1" height="13.85" fill="#f4f4f6"/>
<rect x="452.40" y="932.15" width="1.1" height="13.85" fill="#c6c6cb"/>
</g>
<path d="M333.5,900 L333.5,912 C333.5,928.5 353,942 376,942 L413,942 C436,942 455.5,928.5 455.5,912 L455.5,900" fill="none" stroke="#b8b8bd" stroke-width="1"/>
</g>
<path d="M324,108.5 Q324,105 327.5,105 L461.5,105 Q465,105 465,108.5 L465,165 C465,262 458.5,282 458.5,350 L458.5,912 C458.5,930.2 438,945 413,945 L376,945 C351,945 331,930.2 331,912 L331,350 C331,282 324,262 324,165 Z" fill="none" stroke="#b2b2b7" stroke-width="1.1"/>
<g clip-path="url(#cr)">
<path d="M534,108.5 Q534,105 537.5,105 L671.5,105 Q675,105 675,108.5 L675,165 C675,262 668.5,282 668.5,350 L668.5,585 Q668.5,589 664.5,589 L545,589 Q541,589 541,585 L541,350 C541,282 534,262 534,165 Z" fill="#dcdce1"/>
<path d="M538.5,107 L538.5,165 C538.5,262 545.5,282 545.5,350 L545.5,905 C545.5,930 352,942 394.5,942 C437,942 664.0,930 664.0,905 L664.0,350 C664.0,282 670.5,262 670.5,165" fill="none" stroke="#e6e6ea" stroke-width="2.2"/>
<rect x="663.5" y="100" width="14" height="462.20000000000005" fill="#d0d0d5"/>
<rect x="663.5" y="100" width="2" height="462.20000000000005" fill="#e2e2e6"/>
<rect x="543.45" y="105" width="121.05000000000001" height="452.20000000000005" fill="#838388"/>
<rect x="544.45" y="105.30" width="21.50" height="11.70" fill="#e8e8ec"/>
<rect x="544.45" y="105.30" width="21.50" height="1.3" fill="#f6f6f8"/>
<rect x="544.45" y="115.20" width="21.50" height="1.8" fill="#b9b9be"/>
<rect x="544.45" y="105.30" width="1.1" height="11.70" fill="#f4f4f6"/>
<rect x="564.85" y="105.30" width="1.1" height="11.70" fill="#c6c6cb"/>
<rect x="567.85" y="105.30" width="22.10" height="11.70" fill="#eaeaee"/>
<rect x="567.85" y="105.30" width="22.10" height="1.3" fill="#f6f6f8"/>
<rect x="567.85" y="115.20" width="22.10" height="1.8" fill="#b9b9be"/>
<rect x="567.85" y="105.30" width="1.1" height="11.70" fill="#f4f4f6"/>
<rect x="588.85" y="105.30" width="1.1" height="11.70" fill="#c6c6cb"/>
<rect x="591.85" y="105.30" width="22.10" height="11.70" fill="#e9e9ed"/>
<rect x="591.85" y="105.30" width="22.10" height="1.3" fill="#f6f6f8"/>
<rect x="591.85" y="115.20" width="22.10" height="1.8" fill="#b9b9be"/>
<rect x="591.85" y="105.30" width="1.1" height="11.70" fill="#f4f4f6"/>
<rect x="612.85" y="105.30" width="1.1" height="11.70" fill="#c6c6cb"/>
<rect x="615.85" y="105.30" width="22.30" height="11.70" fill="#e4e4e8"/>
<rect x="615.85" y="105.30" width="22.30" height="1.3" fill="#f6f6f8"/>
<rect x="615.85" y="115.20" width="22.30" height="1.8" fill="#b9b9be"/>
<rect x="615.85" y="105.30" width="1.1" height="11.70" fill="#f4f4f6"/>
<rect x="637.05" y="105.30" width="1.1" height="11.70" fill="#c6c6cb"/>
<rect x="640.05" y="105.30" width="23.45" height="11.70" fill="#d8d8dd"/>
<rect x="640.05" y="105.30" width="23.45" height="1.3" fill="#f6f6f8"/>
<rect x="640.05" y="115.20" width="23.45" height="1.8" fill="#b9b9be"/>
<rect x="640.05" y="105.30" width="1.1" height="11.70" fill="#f4f4f6"/>
<rect x="662.40" y="105.30" width="1.1" height="11.70" fill="#c6c6cb"/>
<rect x="543.45" y="117.15" width="121.05000000000001" height="1.6" fill="#6c6c71"/>
<rect x="544.45" y="118.90" width="21.50" height="14.37" fill="#e8e8ec"/>
<rect x="544.45" y="118.90" width="21.50" height="1.3" fill="#f6f6f8"/>
<rect x="544.45" y="131.47" width="21.50" height="1.8" fill="#b9b9be"/>
<rect x="544.45" y="118.90" width="1.1" height="14.37" fill="#f4f4f6"/>
<rect x="564.85" y="118.90" width="1.1" height="14.37" fill="#c6c6cb"/>
<rect x="567.85" y="118.90" width="22.10" height="14.37" fill="#eaeaee"/>
<rect x="567.85" y="118.90" width="22.10" height="1.3" fill="#f6f6f8"/>
<rect x="567.85" y="131.47" width="22.10" height="1.8" fill="#b9b9be"/>
<rect x="567.85" y="118.90" width="1.1" height="14.37" fill="#f4f4f6"/>
<rect x="588.85" y="118.90" width="1.1" height="14.37" fill="#c6c6cb"/>
<rect x="591.85" y="118.90" width="22.10" height="14.37" fill="#e9e9ed"/>
<rect x="591.85" y="118.90" width="22.10" height="1.3" fill="#f6f6f8"/>
<rect x="591.85" y="131.47" width="22.10" height="1.8" fill="#b9b9be"/>
<rect x="591.85" y="118.90" width="1.1" height="14.37" fill="#f4f4f6"/>
<rect x="612.85" y="118.90" width="1.1" height="14.37" fill="#c6c6cb"/>
<rect x="615.85" y="118.90" width="22.30" height="14.37" fill="#e4e4e8"/>
<rect x="615.85" y="118.90" width="22.30" height="1.3" fill="#f6f6f8"/>
<rect x="615.85" y="131.47" width="22.30" height="1.8" fill="#b9b9be"/>
<rect x="615.85" y="118.90" width="1.1" height="14.37" fill="#f4f4f6"/>
<rect x="637.05" y="118.90" width="1.1" height="14.37" fill="#c6c6cb"/>
<rect x="640.05" y="118.90" width="23.45" height="14.37" fill="#d8d8dd"/>
<rect x="640.05" y="118.90" width="23.45" height="1.3" fill="#f6f6f8"/>
<rect x="640.05" y="131.47" width="23.45" height="1.8" fill="#b9b9be"/>
<rect x="640.05" y="118.90" width="1.1" height="14.37" fill="#f4f4f6"/>
<rect x="662.40" y="118.90" width="1.1" height="14.37" fill="#c6c6cb"/>
<rect x="543.45" y="133.41" width="121.05000000000001" height="1.6" fill="#6c6c71"/>
<rect x="544.45" y="135.16" width="21.50" height="14.37" fill="#e8e8ec"/>
<rect x="544.45" y="135.16" width="21.50" height="1.3" fill="#f6f6f8"/>
<rect x="544.45" y="147.73" width="21.50" height="1.8" fill="#b9b9be"/>
<rect x="544.45" y="135.16" width="1.1" height="14.37" fill="#f4f4f6"/>
<rect x="564.85" y="135.16" width="1.1" height="14.37" fill="#c6c6cb"/>
<rect x="567.85" y="135.16" width="22.10" height="14.37" fill="#eaeaee"/>
<rect x="567.85" y="135.16" width="22.10" height="1.3" fill="#f6f6f8"/>
<rect x="567.85" y="147.73" width="22.10" height="1.8" fill="#b9b9be"/>
<rect x="567.85" y="135.16" width="1.1" height="14.37" fill="#f4f4f6"/>
<rect x="588.85" y="135.16" width="1.1" height="14.37" fill="#c6c6cb"/>
<rect x="591.85" y="135.16" width="22.10" height="14.37" fill="#e9e9ed"/>
<rect x="591.85" y="135.16" width="22.10" height="1.3" fill="#f6f6f8"/>
<rect x="591.85" y="147.73" width="22.10" height="1.8" fill="#b9b9be"/>
<rect x="591.85" y="135.16" width="1.1" height="14.37" fill="#f4f4f6"/>
<rect x="612.85" y="135.16" width="1.1" height="14.37" fill="#c6c6cb"/>
<rect x="615.85" y="135.16" width="22.30" height="14.37" fill="#e4e4e8"/>
<rect x="615.85" y="135.16" width="22.30" height="1.3" fill="#f6f6f8"/>
<rect x="615.85" y="147.73" width="22.30" height="1.8" fill="#b9b9be"/>
<rect x="615.85" y="135.16" width="1.1" height="14.37" fill="#f4f4f6"/>
<rect x="637.05" y="135.16" width="1.1" height="14.37" fill="#c6c6cb"/>
<rect x="640.05" y="135.16" width="23.45" height="14.37" fill="#d8d8dd"/>
<rect x="640.05" y="135.16" width="23.45" height="1.3" fill="#f6f6f8"/>
<rect x="640.05" y="147.73" width="23.45" height="1.8" fill="#b9b9be"/>
<rect x="640.05" y="135.16" width="1.1" height="14.37" fill="#f4f4f6"/>
<rect x="662.40" y="135.16" width="1.1" height="14.37" fill="#c6c6cb"/>
<rect x="543.45" y="149.68" width="121.05000000000001" height="1.6" fill="#6c6c71"/>
<rect x="544.45" y="151.43" width="21.50" height="14.37" fill="#e8e8ec"/>
<rect x="544.45" y="151.43" width="21.50" height="1.3" fill="#f6f6f8"/>
<rect x="544.45" y="164.00" width="21.50" height="1.8" fill="#b9b9be"/>
<rect x="544.45" y="151.43" width="1.1" height="14.37" fill="#f4f4f6"/>
<rect x="564.85" y="151.43" width="1.1" height="14.37" fill="#c6c6cb"/>
<rect x="567.85" y="151.43" width="22.10" height="14.37" fill="#eaeaee"/>
<rect x="567.85" y="151.43" width="22.10" height="1.3" fill="#f6f6f8"/>
<rect x="567.85" y="164.00" width="22.10" height="1.8" fill="#b9b9be"/>
<rect x="567.85" y="151.43" width="1.1" height="14.37" fill="#f4f4f6"/>
<rect x="588.85" y="151.43" width="1.1" height="14.37" fill="#c6c6cb"/>
<rect x="591.85" y="151.43" width="22.10" height="14.37" fill="#e9e9ed"/>
<rect x="591.85" y="151.43" width="22.10" height="1.3" fill="#f6f6f8"/>
<rect x="591.85" y="164.00" width="22.10" height="1.8" fill="#b9b9be"/>
<rect x="591.85" y="151.43" width="1.1" height="14.37" fill="#f4f4f6"/>
<rect x="612.85" y="151.43" width="1.1" height="14.37" fill="#c6c6cb"/>
<rect x="615.85" y="151.43" width="22.30" height="14.37" fill="#e4e4e8"/>
<rect x="615.85" y="151.43" width="22.30" height="1.3" fill="#f6f6f8"/>
<rect x="615.85" y="164.00" width="22.30" height="1.8" fill="#b9b9be"/>
<rect x="615.85" y="151.43" width="1.1" height="14.37" fill="#f4f4f6"/>
<rect x="637.05" y="151.43" width="1.1" height="14.37" fill="#c6c6cb"/>
<rect x="640.05" y="151.43" width="23.45" height="14.37" fill="#d8d8dd"/>
<rect x="640.05" y="151.43" width="23.45" height="1.3" fill="#f6f6f8"/>
<rect x="640.05" y="164.00" width="23.45" height="1.8" fill="#b9b9be"/>
<rect x="640.05" y="151.43" width="1.1" height="14.37" fill="#f4f4f6"/>
<rect x="662.40" y="151.43" width="1.1" height="14.37" fill="#c6c6cb"/>
<rect x="543.45" y="165.94" width="121.05000000000001" height="1.6" fill="#6c6c71"/>
<rect x="544.45" y="167.69" width="21.50" height="14.37" fill="#e8e8ec"/>
<rect x="544.45" y="167.69" width="21.50" height="1.3" fill="#f6f6f8"/>
<rect x="544.45" y="180.26" width="21.50" height="1.8" fill="#b9b9be"/>
<rect x="544.45" y="167.69" width="1.1" height="14.37" fill="#f4f4f6"/>
<rect x="564.85" y="167.69" width="1.1" height="14.37" fill="#c6c6cb"/>
<rect x="567.85" y="167.69" width="22.10" height="14.37" fill="#eaeaee"/>
<rect x="567.85" y="167.69" width="22.10" height="1.3" fill="#f6f6f8"/>
<rect x="567.85" y="180.26" width="22.10" height="1.8" fill="#b9b9be"/>
<rect x="567.85" y="167.69" width="1.1" height="14.37" fill="#f4f4f6"/>
<rect x="588.85" y="167.69" width="1.1" height="14.37" fill="#c6c6cb"/>
<rect x="591.85" y="167.69" width="22.10" height="14.37" fill="#e9e9ed"/>
<rect x="591.85" y="167.69" width="22.10" height="1.3" fill="#f6f6f8"/>
<rect x="591.85" y="180.26" width="22.10" height="1.8" fill="#b9b9be"/>
<rect x="591.85" y="167.69" width="1.1" height="14.37" fill="#f4f4f6"/>
<rect x="612.85" y="167.69" width="1.1" height="14.37" fill="#c6c6cb"/>
<rect x="615.85" y="167.69" width="22.30" height="14.37" fill="#e4e4e8"/>
<rect x="615.85" y="167.69" width="22.30" height="1.3" fill="#f6f6f8"/>
<rect x="615.85" y="180.26" width="22.30" height="1.8" fill="#b9b9be"/>
<rect x="615.85" y="167.69" width="1.1" height="14.37" fill="#f4f4f6"/>
<rect x="637.05" y="167.69" width="1.1" height="14.37" fill="#c6c6cb"/>
<rect x="640.05" y="167.69" width="23.45" height="14.37" fill="#d8d8dd"/>
<rect x="640.05" y="167.69" width="23.45" height="1.3" fill="#f6f6f8"/>
<rect x="640.05" y="180.26" width="23.45" height="1.8" fill="#b9b9be"/>
<rect x="640.05" y="167.69" width="1.1" height="14.37" fill="#f4f4f6"/>
<rect x="662.40" y="167.69" width="1.1" height="14.37" fill="#c6c6cb"/>
<rect x="543.45" y="182.21" width="121.05000000000001" height="1.6" fill="#6c6c71"/>
<rect x="544.45" y="183.96" width="21.50" height="14.37" fill="#e8e8ec"/>
<rect x="544.45" y="183.96" width="21.50" height="1.3" fill="#f6f6f8"/>
<rect x="544.45" y="196.53" width="21.50" height="1.8" fill="#b9b9be"/>
<rect x="544.45" y="183.96" width="1.1" height="14.37" fill="#f4f4f6"/>
<rect x="564.85" y="183.96" width="1.1" height="14.37" fill="#c6c6cb"/>
<rect x="567.85" y="183.96" width="22.10" height="14.37" fill="#eaeaee"/>
<rect x="567.85" y="183.96" width="22.10" height="1.3" fill="#f6f6f8"/>
<rect x="567.85" y="196.53" width="22.10" height="1.8" fill="#b9b9be"/>
<rect x="567.85" y="183.96" width="1.1" height="14.37" fill="#f4f4f6"/>
<rect x="588.85" y="183.96" width="1.1" height="14.37" fill="#c6c6cb"/>
<rect x="591.85" y="183.96" width="22.10" height="14.37" fill="#e9e9ed"/>
<rect x="591.85" y="183.96" width="22.10" height="1.3" fill="#f6f6f8"/>
<rect x="591.85" y="196.53" width="22.10" height="1.8" fill="#b9b9be"/>
<rect x="591.85" y="183.96" width="1.1" height="14.37" fill="#f4f4f6"/>
<rect x="612.85" y="183.96" width="1.1" height="14.37" fill="#c6c6cb"/>
<rect x="615.85" y="183.96" width="22.30" height="14.37" fill="#e4e4e8"/>
<rect x="615.85" y="183.96" width="22.30" height="1.3" fill="#f6f6f8"/>
<rect x="615.85" y="196.53" width="22.30" height="1.8" fill="#b9b9be"/>
<rect x="615.85" y="183.96" width="1.1" height="14.37" fill="#f4f4f6"/>
<rect x="637.05" y="183.96" width="1.1" height="14.37" fill="#c6c6cb"/>
<rect x="640.05" y="183.96" width="23.45" height="14.37" fill="#d8d8dd"/>
<rect x="640.05" y="183.96" width="23.45" height="1.3" fill="#f6f6f8"/>
<rect x="640.05" y="196.53" width="23.45" height="1.8" fill="#b9b9be"/>
<rect x="640.05" y="183.96" width="1.1" height="14.37" fill="#f4f4f6"/>
<rect x="662.40" y="183.96" width="1.1" height="14.37" fill="#c6c6cb"/>
<rect x="543.45" y="198.47" width="121.05000000000001" height="1.6" fill="#6c6c71"/>
<rect x="544.45" y="200.22" width="21.50" height="14.37" fill="#e8e8ec"/>
<rect x="544.45" y="200.22" width="21.50" height="1.3" fill="#f6f6f8"/>
<rect x="544.45" y="212.79" width="21.50" height="1.8" fill="#b9b9be"/>
<rect x="544.45" y="200.22" width="1.1" height="14.37" fill="#f4f4f6"/>
<rect x="564.85" y="200.22" width="1.1" height="14.37" fill="#c6c6cb"/>
<rect x="567.85" y="200.22" width="22.10" height="14.37" fill="#eaeaee"/>
<rect x="567.85" y="200.22" width="22.10" height="1.3" fill="#f6f6f8"/>
<rect x="567.85" y="212.79" width="22.10" height="1.8" fill="#b9b9be"/>
<rect x="567.85" y="200.22" width="1.1" height="14.37" fill="#f4f4f6"/>
<rect x="588.85" y="200.22" width="1.1" height="14.37" fill="#c6c6cb"/>
<rect x="591.85" y="200.22" width="22.10" height="14.37" fill="#e9e9ed"/>
<rect x="591.85" y="200.22" width="22.10" height="1.3" fill="#f6f6f8"/>
<rect x="591.85" y="212.79" width="22.10" height="1.8" fill="#b9b9be"/>
<rect x="591.85" y="200.22" width="1.1" height="14.37" fill="#f4f4f6"/>
<rect x="612.85" y="200.22" width="1.1" height="14.37" fill="#c6c6cb"/>
<rect x="615.85" y="200.22" width="22.30" height="14.37" fill="#e4e4e8"/>
<rect x="615.85" y="200.22" width="22.30" height="1.3" fill="#f6f6f8"/>
<rect x="615.85" y="212.79" width="22.30" height="1.8" fill="#b9b9be"/>
<rect x="615.85" y="200.22" width="1.1" height="14.37" fill="#f4f4f6"/>
<rect x="637.05" y="200.22" width="1.1" height="14.37" fill="#c6c6cb"/>
<rect x="640.05" y="200.22" width="23.45" height="14.37" fill="#d8d8dd"/>
<rect x="640.05" y="200.22" width="23.45" height="1.3" fill="#f6f6f8"/>
<rect x="640.05" y="212.79" width="23.45" height="1.8" fill="#b9b9be"/>
<rect x="640.05" y="200.22" width="1.1" height="14.37" fill="#f4f4f6"/>
<rect x="662.40" y="200.22" width="1.1" height="14.37" fill="#c6c6cb"/>
<rect x="543.45" y="214.74" width="121.05000000000001" height="1.6" fill="#6c6c71"/>
<rect x="544.45" y="216.49" width="21.50" height="14.37" fill="#e8e8ec"/>
<rect x="544.45" y="216.49" width="21.50" height="1.3" fill="#f6f6f8"/>
<rect x="544.45" y="229.06" width="21.50" height="1.8" fill="#b9b9be"/>
<rect x="544.45" y="216.49" width="1.1" height="14.37" fill="#f4f4f6"/>
<rect x="564.85" y="216.49" width="1.1" height="14.37" fill="#c6c6cb"/>
<rect x="567.85" y="216.49" width="22.10" height="14.37" fill="#eaeaee"/>
<rect x="567.85" y="216.49" width="22.10" height="1.3" fill="#f6f6f8"/>
<rect x="567.85" y="229.06" width="22.10" height="1.8" fill="#b9b9be"/>
<rect x="567.85" y="216.49" width="1.1" height="14.37" fill="#f4f4f6"/>
<rect x="588.85" y="216.49" width="1.1" height="14.37" fill="#c6c6cb"/>
<rect x="591.85" y="216.49" width="22.10" height="14.37" fill="#e9e9ed"/>
<rect x="591.85" y="216.49" width="22.10" height="1.3" fill="#f6f6f8"/>
<rect x="591.85" y="229.06" width="22.10" height="1.8" fill="#b9b9be"/>
<rect x="591.85" y="216.49" width="1.1" height="14.37" fill="#f4f4f6"/>
<rect x="612.85" y="216.49" width="1.1" height="14.37" fill="#c6c6cb"/>
<rect x="615.85" y="216.49" width="22.30" height="14.37" fill="#e4e4e8"/>
<rect x="615.85" y="216.49" width="22.30" height="1.3" fill="#f6f6f8"/>
<rect x="615.85" y="229.06" width="22.30" height="1.8" fill="#b9b9be"/>
<rect x="615.85" y="216.49" width="1.1" height="14.37" fill="#f4f4f6"/>
<rect x="637.05" y="216.49" width="1.1" height="14.37" fill="#c6c6cb"/>
<rect x="640.05" y="216.49" width="23.45" height="14.37" fill="#d8d8dd"/>
<rect x="640.05" y="216.49" width="23.45" height="1.3" fill="#f6f6f8"/>
<rect x="640.05" y="229.06" width="23.45" height="1.8" fill="#b9b9be"/>
<rect x="640.05" y="216.49" width="1.1" height="14.37" fill="#f4f4f6"/>
<rect x="662.40" y="216.49" width="1.1" height="14.37" fill="#c6c6cb"/>
<rect x="543.45" y="231.00" width="121.05000000000001" height="1.6" fill="#6c6c71"/>
<rect x="544.45" y="232.75" width="21.50" height="14.37" fill="#e8e8ec"/>
<rect x="544.45" y="232.75" width="21.50" height="1.3" fill="#f6f6f8"/>
<rect x="544.45" y="245.32" width="21.50" height="1.8" fill="#b9b9be"/>
<rect x="544.45" y="232.75" width="1.1" height="14.37" fill="#f4f4f6"/>
<rect x="564.85" y="232.75" width="1.1" height="14.37" fill="#c6c6cb"/>
<rect x="567.85" y="232.75" width="22.10" height="14.37" fill="#eaeaee"/>
<rect x="567.85" y="232.75" width="22.10" height="1.3" fill="#f6f6f8"/>
<rect x="567.85" y="245.32" width="22.10" height="1.8" fill="#b9b9be"/>
<rect x="567.85" y="232.75" width="1.1" height="14.37" fill="#f4f4f6"/>
<rect x="588.85" y="232.75" width="1.1" height="14.37" fill="#c6c6cb"/>
<rect x="591.85" y="232.75" width="22.10" height="14.37" fill="#e9e9ed"/>
<rect x="591.85" y="232.75" width="22.10" height="1.3" fill="#f6f6f8"/>
<rect x="591.85" y="245.32" width="22.10" height="1.8" fill="#b9b9be"/>
<rect x="591.85" y="232.75" width="1.1" height="14.37" fill="#f4f4f6"/>
<rect x="612.85" y="232.75" width="1.1" height="14.37" fill="#c6c6cb"/>
<rect x="615.85" y="232.75" width="22.30" height="14.37" fill="#e4e4e8"/>
<rect x="615.85" y="232.75" width="22.30" height="1.3" fill="#f6f6f8"/>
<rect x="615.85" y="245.32" width="22.30" height="1.8" fill="#b9b9be"/>
<rect x="615.85" y="232.75" width="1.1" height="14.37" fill="#f4f4f6"/>
<rect x="637.05" y="232.75" width="1.1" height="14.37" fill="#c6c6cb"/>
<rect x="640.05" y="232.75" width="23.45" height="14.37" fill="#d8d8dd"/>
<rect x="640.05" y="232.75" width="23.45" height="1.3" fill="#f6f6f8"/>
<rect x="640.05" y="245.32" width="23.45" height="1.8" fill="#b9b9be"/>
<rect x="640.05" y="232.75" width="1.1" height="14.37" fill="#f4f4f6"/>
<rect x="662.40" y="232.75" width="1.1" height="14.37" fill="#c6c6cb"/>
<rect x="543.45" y="247.27" width="121.05000000000001" height="1.6" fill="#6c6c71"/>
<rect x="544.45" y="249.02" width="21.50" height="14.37" fill="#e8e8ec"/>
<rect x="544.45" y="249.02" width="21.50" height="1.3" fill="#f6f6f8"/>
<rect x="544.45" y="261.58" width="21.50" height="1.8" fill="#b9b9be"/>
<rect x="544.45" y="249.02" width="1.1" height="14.37" fill="#f4f4f6"/>
<rect x="564.85" y="249.02" width="1.1" height="14.37" fill="#c6c6cb"/>
<rect x="567.85" y="249.02" width="22.10" height="14.37" fill="#eaeaee"/>
<rect x="567.85" y="249.02" width="22.10" height="1.3" fill="#f6f6f8"/>
<rect x="567.85" y="261.58" width="22.10" height="1.8" fill="#b9b9be"/>
<rect x="567.85" y="249.02" width="1.1" height="14.37" fill="#f4f4f6"/>
<rect x="588.85" y="249.02" width="1.1" height="14.37" fill="#c6c6cb"/>
<rect x="591.85" y="249.02" width="22.10" height="14.37" fill="#e9e9ed"/>
<rect x="591.85" y="249.02" width="22.10" height="1.3" fill="#f6f6f8"/>
<rect x="591.85" y="261.58" width="22.10" height="1.8" fill="#b9b9be"/>
<rect x="591.85" y="249.02" width="1.1" height="14.37" fill="#f4f4f6"/>
<rect x="612.85" y="249.02" width="1.1" height="14.37" fill="#c6c6cb"/>
<rect x="615.85" y="249.02" width="22.30" height="14.37" fill="#e4e4e8"/>
<rect x="615.85" y="249.02" width="22.30" height="1.3" fill="#f6f6f8"/>
<rect x="615.85" y="261.58" width="22.30" height="1.8" fill="#b9b9be"/>
<rect x="615.85" y="249.02" width="1.1" height="14.37" fill="#f4f4f6"/>
<rect x="637.05" y="249.02" width="1.1" height="14.37" fill="#c6c6cb"/>
<rect x="640.05" y="249.02" width="23.45" height="14.37" fill="#d8d8dd"/>
<rect x="640.05" y="249.02" width="23.45" height="1.3" fill="#f6f6f8"/>
<rect x="640.05" y="261.58" width="23.45" height="1.8" fill="#b9b9be"/>
<rect x="640.05" y="249.02" width="1.1" height="14.37" fill="#f4f4f6"/>
<rect x="662.40" y="249.02" width="1.1" height="14.37" fill="#c6c6cb"/>
<rect x="543.45" y="263.53" width="121.05000000000001" height="1.6" fill="#6c6c71"/>
<rect x="544.45" y="265.28" width="21.50" height="14.37" fill="#e8e8ec"/>
<rect x="544.45" y="265.28" width="21.50" height="1.3" fill="#f6f6f8"/>
<rect x="544.45" y="277.85" width="21.50" height="1.8" fill="#b9b9be"/>
<rect x="544.45" y="265.28" width="1.1" height="14.37" fill="#f4f4f6"/>
<rect x="564.85" y="265.28" width="1.1" height="14.37" fill="#c6c6cb"/>
<rect x="567.85" y="265.28" width="22.10" height="14.37" fill="#eaeaee"/>
<rect x="567.85" y="265.28" width="22.10" height="1.3" fill="#f6f6f8"/>
<rect x="567.85" y="277.85" width="22.10" height="1.8" fill="#b9b9be"/>
<rect x="567.85" y="265.28" width="1.1" height="14.37" fill="#f4f4f6"/>
<rect x="588.85" y="265.28" width="1.1" height="14.37" fill="#c6c6cb"/>
<rect x="591.85" y="265.28" width="22.10" height="14.37" fill="#e9e9ed"/>
<rect x="591.85" y="265.28" width="22.10" height="1.3" fill="#f6f6f8"/>
<rect x="591.85" y="277.85" width="22.10" height="1.8" fill="#b9b9be"/>
<rect x="591.85" y="265.28" width="1.1" height="14.37" fill="#f4f4f6"/>
<rect x="612.85" y="265.28" width="1.1" height="14.37" fill="#c6c6cb"/>
<rect x="615.85" y="265.28" width="22.30" height="14.37" fill="#e4e4e8"/>
<rect x="615.85" y="265.28" width="22.30" height="1.3" fill="#f6f6f8"/>
<rect x="615.85" y="277.85" width="22.30" height="1.8" fill="#b9b9be"/>
<rect x="615.85" y="265.28" width="1.1" height="14.37" fill="#f4f4f6"/>
<rect x="637.05" y="265.28" width="1.1" height="14.37" fill="#c6c6cb"/>
<rect x="640.05" y="265.28" width="23.45" height="14.37" fill="#d8d8dd"/>
<rect x="640.05" y="265.28" width="23.45" height="1.3" fill="#f6f6f8"/>
<rect x="640.05" y="277.85" width="23.45" height="1.8" fill="#b9b9be"/>
<rect x="640.05" y="265.28" width="1.1" height="14.37" fill="#f4f4f6"/>
<rect x="662.40" y="265.28" width="1.1" height="14.37" fill="#c6c6cb"/>
<rect x="543.45" y="279.80" width="121.05000000000001" height="1.6" fill="#6c6c71"/>
<rect x="544.45" y="281.55" width="21.50" height="14.37" fill="#e8e8ec"/>
<rect x="544.45" y="281.55" width="21.50" height="1.3" fill="#f6f6f8"/>
<rect x="544.45" y="294.12" width="21.50" height="1.8" fill="#b9b9be"/>
<rect x="544.45" y="281.55" width="1.1" height="14.37" fill="#f4f4f6"/>
<rect x="564.85" y="281.55" width="1.1" height="14.37" fill="#c6c6cb"/>
<rect x="567.85" y="281.55" width="22.10" height="14.37" fill="#eaeaee"/>
<rect x="567.85" y="281.55" width="22.10" height="1.3" fill="#f6f6f8"/>
<rect x="567.85" y="294.12" width="22.10" height="1.8" fill="#b9b9be"/>
<rect x="567.85" y="281.55" width="1.1" height="14.37" fill="#f4f4f6"/>
<rect x="588.85" y="281.55" width="1.1" height="14.37" fill="#c6c6cb"/>
<rect x="591.85" y="281.55" width="22.10" height="14.37" fill="#e9e9ed"/>
<rect x="591.85" y="281.55" width="22.10" height="1.3" fill="#f6f6f8"/>
<rect x="591.85" y="294.12" width="22.10" height="1.8" fill="#b9b9be"/>
<rect x="591.85" y="281.55" width="1.1" height="14.37" fill="#f4f4f6"/>
<rect x="612.85" y="281.55" width="1.1" height="14.37" fill="#c6c6cb"/>
<rect x="615.85" y="281.55" width="22.30" height="14.37" fill="#e4e4e8"/>
<rect x="615.85" y="281.55" width="22.30" height="1.3" fill="#f6f6f8"/>
<rect x="615.85" y="294.12" width="22.30" height="1.8" fill="#b9b9be"/>
<rect x="615.85" y="281.55" width="1.1" height="14.37" fill="#f4f4f6"/>
<rect x="637.05" y="281.55" width="1.1" height="14.37" fill="#c6c6cb"/>
<rect x="640.05" y="281.55" width="23.45" height="14.37" fill="#d8d8dd"/>
<rect x="640.05" y="281.55" width="23.45" height="1.3" fill="#f6f6f8"/>
<rect x="640.05" y="294.12" width="23.45" height="1.8" fill="#b9b9be"/>
<rect x="640.05" y="281.55" width="1.1" height="14.37" fill="#f4f4f6"/>
<rect x="662.40" y="281.55" width="1.1" height="14.37" fill="#c6c6cb"/>
<rect x="543.45" y="296.06" width="121.05000000000001" height="1.6" fill="#6c6c71"/>
<rect x="544.45" y="297.81" width="21.50" height="14.37" fill="#e8e8ec"/>
<rect x="544.45" y="297.81" width="21.50" height="1.3" fill="#f6f6f8"/>
<rect x="544.45" y="310.38" width="21.50" height="1.8" fill="#b9b9be"/>
<rect x="544.45" y="297.81" width="1.1" height="14.37" fill="#f4f4f6"/>
<rect x="564.85" y="297.81" width="1.1" height="14.37" fill="#c6c6cb"/>
<rect x="567.85" y="297.81" width="22.10" height="14.37" fill="#eaeaee"/>
<rect x="567.85" y="297.81" width="22.10" height="1.3" fill="#f6f6f8"/>
<rect x="567.85" y="310.38" width="22.10" height="1.8" fill="#b9b9be"/>
<rect x="567.85" y="297.81" width="1.1" height="14.37" fill="#f4f4f6"/>
<rect x="588.85" y="297.81" width="1.1" height="14.37" fill="#c6c6cb"/>
<rect x="591.85" y="297.81" width="22.10" height="14.37" fill="#e9e9ed"/>
<rect x="591.85" y="297.81" width="22.10" height="1.3" fill="#f6f6f8"/>
<rect x="591.85" y="310.38" width="22.10" height="1.8" fill="#b9b9be"/>
<rect x="591.85" y="297.81" width="1.1" height="14.37" fill="#f4f4f6"/>
<rect x="612.85" y="297.81" width="1.1" height="14.37" fill="#c6c6cb"/>
<rect x="615.85" y="297.81" width="22.30" height="14.37" fill="#e4e4e8"/>
<rect x="615.85" y="297.81" width="22.30" height="1.3" fill="#f6f6f8"/>
<rect x="615.85" y="310.38" width="22.30" height="1.8" fill="#b9b9be"/>
<rect x="615.85" y="297.81" width="1.1" height="14.37" fill="#f4f4f6"/>
<rect x="637.05" y="297.81" width="1.1" height="14.37" fill="#c6c6cb"/>
<rect x="640.05" y="297.81" width="23.45" height="14.37" fill="#d8d8dd"/>
<rect x="640.05" y="297.81" width="23.45" height="1.3" fill="#f6f6f8"/>
<rect x="640.05" y="310.38" width="23.45" height="1.8" fill="#b9b9be"/>
<rect x="640.05" y="297.81" width="1.1" height="14.37" fill="#f4f4f6"/>
<rect x="662.40" y="297.81" width="1.1" height="14.37" fill="#c6c6cb"/>
<rect x="543.45" y="312.33" width="121.05000000000001" height="1.6" fill="#6c6c71"/>
<rect x="544.45" y="314.08" width="21.50" height="14.37" fill="#e8e8ec"/>
<rect x="544.45" y="314.08" width="21.50" height="1.3" fill="#f6f6f8"/>
<rect x="544.45" y="326.64" width="21.50" height="1.8" fill="#b9b9be"/>
<rect x="544.45" y="314.08" width="1.1" height="14.37" fill="#f4f4f6"/>
<rect x="564.85" y="314.08" width="1.1" height="14.37" fill="#c6c6cb"/>
<rect x="567.85" y="314.08" width="22.10" height="14.37" fill="#eaeaee"/>
<rect x="567.85" y="314.08" width="22.10" height="1.3" fill="#f6f6f8"/>
<rect x="567.85" y="326.64" width="22.10" height="1.8" fill="#b9b9be"/>
<rect x="567.85" y="314.08" width="1.1" height="14.37" fill="#f4f4f6"/>
<rect x="588.85" y="314.08" width="1.1" height="14.37" fill="#c6c6cb"/>
<rect x="591.85" y="314.08" width="22.10" height="14.37" fill="#e9e9ed"/>
<rect x="591.85" y="314.08" width="22.10" height="1.3" fill="#f6f6f8"/>
<rect x="591.85" y="326.64" width="22.10" height="1.8" fill="#b9b9be"/>
<rect x="591.85" y="314.08" width="1.1" height="14.37" fill="#f4f4f6"/>
<rect x="612.85" y="314.08" width="1.1" height="14.37" fill="#c6c6cb"/>
<rect x="615.85" y="314.08" width="22.30" height="14.37" fill="#e4e4e8"/>
<rect x="615.85" y="314.08" width="22.30" height="1.3" fill="#f6f6f8"/>
<rect x="615.85" y="326.64" width="22.30" height="1.8" fill="#b9b9be"/>
<rect x="615.85" y="314.08" width="1.1" height="14.37" fill="#f4f4f6"/>
<rect x="637.05" y="314.08" width="1.1" height="14.37" fill="#c6c6cb"/>
<rect x="640.05" y="314.08" width="23.45" height="14.37" fill="#d8d8dd"/>
<rect x="640.05" y="314.08" width="23.45" height="1.3" fill="#f6f6f8"/>
<rect x="640.05" y="326.64" width="23.45" height="1.8" fill="#b9b9be"/>
<rect x="640.05" y="314.08" width="1.1" height="14.37" fill="#f4f4f6"/>
<rect x="662.40" y="314.08" width="1.1" height="14.37" fill="#c6c6cb"/>
<rect x="543.45" y="328.59" width="121.05000000000001" height="1.6" fill="#6c6c71"/>
<rect x="544.45" y="330.34" width="21.50" height="14.37" fill="#e8e8ec"/>
<rect x="544.45" y="330.34" width="21.50" height="1.3" fill="#f6f6f8"/>
<rect x="544.45" y="342.91" width="21.50" height="1.8" fill="#b9b9be"/>
<rect x="544.45" y="330.34" width="1.1" height="14.37" fill="#f4f4f6"/>
<rect x="564.85" y="330.34" width="1.1" height="14.37" fill="#c6c6cb"/>
<rect x="567.85" y="330.34" width="22.10" height="14.37" fill="#eaeaee"/>
<rect x="567.85" y="330.34" width="22.10" height="1.3" fill="#f6f6f8"/>
<rect x="567.85" y="342.91" width="22.10" height="1.8" fill="#b9b9be"/>
<rect x="567.85" y="330.34" width="1.1" height="14.37" fill="#f4f4f6"/>
<rect x="588.85" y="330.34" width="1.1" height="14.37" fill="#c6c6cb"/>
<rect x="591.85" y="330.34" width="22.10" height="14.37" fill="#e9e9ed"/>
<rect x="591.85" y="330.34" width="22.10" height="1.3" fill="#f6f6f8"/>
<rect x="591.85" y="342.91" width="22.10" height="1.8" fill="#b9b9be"/>
<rect x="591.85" y="330.34" width="1.1" height="14.37" fill="#f4f4f6"/>
<rect x="612.85" y="330.34" width="1.1" height="14.37" fill="#c6c6cb"/>
<rect x="615.85" y="330.34" width="22.30" height="14.37" fill="#e4e4e8"/>
<rect x="615.85" y="330.34" width="22.30" height="1.3" fill="#f6f6f8"/>
<rect x="615.85" y="342.91" width="22.30" height="1.8" fill="#b9b9be"/>
<rect x="615.85" y="330.34" width="1.1" height="14.37" fill="#f4f4f6"/>
<rect x="637.05" y="330.34" width="1.1" height="14.37" fill="#c6c6cb"/>
<rect x="640.05" y="330.34" width="23.45" height="14.37" fill="#d8d8dd"/>
<rect x="640.05" y="330.34" width="23.45" height="1.3" fill="#f6f6f8"/>
<rect x="640.05" y="342.91" width="23.45" height="1.8" fill="#b9b9be"/>
<rect x="640.05" y="330.34" width="1.1" height="14.37" fill="#f4f4f6"/>
<rect x="662.40" y="330.34" width="1.1" height="14.37" fill="#c6c6cb"/>
<rect x="543.45" y="344.86" width="121.05000000000001" height="1.6" fill="#6c6c71"/>
<rect x="544.45" y="346.61" width="21.50" height="14.37" fill="#e8e8ec"/>
<rect x="544.45" y="346.61" width="21.50" height="1.3" fill="#f6f6f8"/>
<rect x="544.45" y="359.18" width="21.50" height="1.8" fill="#b9b9be"/>
<rect x="544.45" y="346.61" width="1.1" height="14.37" fill="#f4f4f6"/>
<rect x="564.85" y="346.61" width="1.1" height="14.37" fill="#c6c6cb"/>
<rect x="567.85" y="346.61" width="22.10" height="14.37" fill="#eaeaee"/>
<rect x="567.85" y="346.61" width="22.10" height="1.3" fill="#f6f6f8"/>
<rect x="567.85" y="359.18" width="22.10" height="1.8" fill="#b9b9be"/>
<rect x="567.85" y="346.61" width="1.1" height="14.37" fill="#f4f4f6"/>
<rect x="588.85" y="346.61" width="1.1" height="14.37" fill="#c6c6cb"/>
<rect x="591.85" y="346.61" width="22.10" height="14.37" fill="#e9e9ed"/>
<rect x="591.85" y="346.61" width="22.10" height="1.3" fill="#f6f6f8"/>
<rect x="591.85" y="359.18" width="22.10" height="1.8" fill="#b9b9be"/>
<rect x="591.85" y="346.61" width="1.1" height="14.37" fill="#f4f4f6"/>
<rect x="612.85" y="346.61" width="1.1" height="14.37" fill="#c6c6cb"/>
<rect x="615.85" y="346.61" width="22.30" height="14.37" fill="#e4e4e8"/>
<rect x="615.85" y="346.61" width="22.30" height="1.3" fill="#f6f6f8"/>
<rect x="615.85" y="359.18" width="22.30" height="1.8" fill="#b9b9be"/>
<rect x="615.85" y="346.61" width="1.1" height="14.37" fill="#f4f4f6"/>
<rect x="637.05" y="346.61" width="1.1" height="14.37" fill="#c6c6cb"/>
<rect x="640.05" y="346.61" width="23.45" height="14.37" fill="#d8d8dd"/>
<rect x="640.05" y="346.61" width="23.45" height="1.3" fill="#f6f6f8"/>
<rect x="640.05" y="359.18" width="23.45" height="1.8" fill="#b9b9be"/>
<rect x="640.05" y="346.61" width="1.1" height="14.37" fill="#f4f4f6"/>
<rect x="662.40" y="346.61" width="1.1" height="14.37" fill="#c6c6cb"/>
<rect x="543.45" y="361.12" width="121.05000000000001" height="1.6" fill="#6c6c71"/>
<rect x="544.45" y="362.88" width="21.50" height="14.37" fill="#e8e8ec"/>
<rect x="544.45" y="362.88" width="21.50" height="1.3" fill="#f6f6f8"/>
<rect x="544.45" y="375.44" width="21.50" height="1.8" fill="#b9b9be"/>
<rect x="544.45" y="362.88" width="1.1" height="14.37" fill="#f4f4f6"/>
<rect x="564.85" y="362.88" width="1.1" height="14.37" fill="#c6c6cb"/>
<rect x="567.85" y="362.88" width="22.10" height="14.37" fill="#eaeaee"/>
<rect x="567.85" y="362.88" width="22.10" height="1.3" fill="#f6f6f8"/>
<rect x="567.85" y="375.44" width="22.10" height="1.8" fill="#b9b9be"/>
<rect x="567.85" y="362.88" width="1.1" height="14.37" fill="#f4f4f6"/>
<rect x="588.85" y="362.88" width="1.1" height="14.37" fill="#c6c6cb"/>
<rect x="591.85" y="362.88" width="22.10" height="14.37" fill="#e9e9ed"/>
<rect x="591.85" y="362.88" width="22.10" height="1.3" fill="#f6f6f8"/>
<rect x="591.85" y="375.44" width="22.10" height="1.8" fill="#b9b9be"/>
<rect x="591.85" y="362.88" width="1.1" height="14.37" fill="#f4f4f6"/>
<rect x="612.85" y="362.88" width="1.1" height="14.37" fill="#c6c6cb"/>
<rect x="615.85" y="362.88" width="22.30" height="14.37" fill="#e4e4e8"/>
<rect x="615.85" y="362.88" width="22.30" height="1.3" fill="#f6f6f8"/>
<rect x="615.85" y="375.44" width="22.30" height="1.8" fill="#b9b9be"/>
<rect x="615.85" y="362.88" width="1.1" height="14.37" fill="#f4f4f6"/>
<rect x="637.05" y="362.88" width="1.1" height="14.37" fill="#c6c6cb"/>
<rect x="640.05" y="362.88" width="23.45" height="14.37" fill="#d8d8dd"/>
<rect x="640.05" y="362.88" width="23.45" height="1.3" fill="#f6f6f8"/>
<rect x="640.05" y="375.44" width="23.45" height="1.8" fill="#b9b9be"/>
<rect x="640.05" y="362.88" width="1.1" height="14.37" fill="#f4f4f6"/>
<rect x="662.40" y="362.88" width="1.1" height="14.37" fill="#c6c6cb"/>
<rect x="543.45" y="377.39" width="121.05000000000001" height="1.6" fill="#6c6c71"/>
<rect x="544.45" y="379.14" width="21.50" height="14.37" fill="#e8e8ec"/>
<rect x="544.45" y="379.14" width="21.50" height="1.3" fill="#f6f6f8"/>
<rect x="544.45" y="391.70" width="21.50" height="1.8" fill="#b9b9be"/>
<rect x="544.45" y="379.14" width="1.1" height="14.37" fill="#f4f4f6"/>
<rect x="564.85" y="379.14" width="1.1" height="14.37" fill="#c6c6cb"/>
<rect x="567.85" y="379.14" width="22.10" height="14.37" fill="#eaeaee"/>
<rect x="567.85" y="379.14" width="22.10" height="1.3" fill="#f6f6f8"/>
<rect x="567.85" y="391.70" width="22.10" height="1.8" fill="#b9b9be"/>
<rect x="567.85" y="379.14" width="1.1" height="14.37" fill="#f4f4f6"/>
<rect x="588.85" y="379.14" width="1.1" height="14.37" fill="#c6c6cb"/>
<rect x="591.85" y="379.14" width="22.10" height="14.37" fill="#e9e9ed"/>
<rect x="591.85" y="379.14" width="22.10" height="1.3" fill="#f6f6f8"/>
<rect x="591.85" y="391.70" width="22.10" height="1.8" fill="#b9b9be"/>
<rect x="591.85" y="379.14" width="1.1" height="14.37" fill="#f4f4f6"/>
<rect x="612.85" y="379.14" width="1.1" height="14.37" fill="#c6c6cb"/>
<rect x="615.85" y="379.14" width="22.30" height="14.37" fill="#e4e4e8"/>
<rect x="615.85" y="379.14" width="22.30" height="1.3" fill="#f6f6f8"/>
<rect x="615.85" y="391.70" width="22.30" height="1.8" fill="#b9b9be"/>
<rect x="615.85" y="379.14" width="1.1" height="14.37" fill="#f4f4f6"/>
<rect x="637.05" y="379.14" width="1.1" height="14.37" fill="#c6c6cb"/>
<rect x="640.05" y="379.14" width="23.45" height="14.37" fill="#d8d8dd"/>
<rect x="640.05" y="379.14" width="23.45" height="1.3" fill="#f6f6f8"/>
<rect x="640.05" y="391.70" width="23.45" height="1.8" fill="#b9b9be"/>
<rect x="640.05" y="379.14" width="1.1" height="14.37" fill="#f4f4f6"/>
<rect x="662.40" y="379.14" width="1.1" height="14.37" fill="#c6c6cb"/>
<rect x="543.45" y="393.65" width="121.05000000000001" height="1.6" fill="#6c6c71"/>
<rect x="544.45" y="395.40" width="21.50" height="14.37" fill="#e8e8ec"/>
<rect x="544.45" y="395.40" width="21.50" height="1.3" fill="#f6f6f8"/>
<rect x="544.45" y="407.97" width="21.50" height="1.8" fill="#b9b9be"/>
<rect x="544.45" y="395.40" width="1.1" height="14.37" fill="#f4f4f6"/>
<rect x="564.85" y="395.40" width="1.1" height="14.37" fill="#c6c6cb"/>
<rect x="567.85" y="395.40" width="22.10" height="14.37" fill="#eaeaee"/>
<rect x="567.85" y="395.40" width="22.10" height="1.3" fill="#f6f6f8"/>
<rect x="567.85" y="407.97" width="22.10" height="1.8" fill="#b9b9be"/>
<rect x="567.85" y="395.40" width="1.1" height="14.37" fill="#f4f4f6"/>
<rect x="588.85" y="395.40" width="1.1" height="14.37" fill="#c6c6cb"/>
<rect x="591.85" y="395.40" width="22.10" height="14.37" fill="#e9e9ed"/>
<rect x="591.85" y="395.40" width="22.10" height="1.3" fill="#f6f6f8"/>
<rect x="591.85" y="407.97" width="22.10" height="1.8" fill="#b9b9be"/>
<rect x="591.85" y="395.40" width="1.1" height="14.37" fill="#f4f4f6"/>
<rect x="612.85" y="395.40" width="1.1" height="14.37" fill="#c6c6cb"/>
<rect x="615.85" y="395.40" width="22.30" height="14.37" fill="#e4e4e8"/>
<rect x="615.85" y="395.40" width="22.30" height="1.3" fill="#f6f6f8"/>
<rect x="615.85" y="407.97" width="22.30" height="1.8" fill="#b9b9be"/>
<rect x="615.85" y="395.40" width="1.1" height="14.37" fill="#f4f4f6"/>
<rect x="637.05" y="395.40" width="1.1" height="14.37" fill="#c6c6cb"/>
<rect x="640.05" y="395.40" width="23.45" height="14.37" fill="#d8d8dd"/>
<rect x="640.05" y="395.40" width="23.45" height="1.3" fill="#f6f6f8"/>
<rect x="640.05" y="407.97" width="23.45" height="1.8" fill="#b9b9be"/>
<rect x="640.05" y="395.40" width="1.1" height="14.37" fill="#f4f4f6"/>
<rect x="662.40" y="395.40" width="1.1" height="14.37" fill="#c6c6cb"/>
<rect x="543.45" y="409.92" width="121.05000000000001" height="1.6" fill="#6c6c71"/>
<rect x="544.45" y="411.67" width="21.50" height="14.37" fill="#e8e8ec"/>
<rect x="544.45" y="411.67" width="21.50" height="1.3" fill="#f6f6f8"/>
<rect x="544.45" y="424.24" width="21.50" height="1.8" fill="#b9b9be"/>
<rect x="544.45" y="411.67" width="1.1" height="14.37" fill="#f4f4f6"/>
<rect x="564.85" y="411.67" width="1.1" height="14.37" fill="#c6c6cb"/>
<rect x="567.85" y="411.67" width="22.10" height="14.37" fill="#eaeaee"/>
<rect x="567.85" y="411.67" width="22.10" height="1.3" fill="#f6f6f8"/>
<rect x="567.85" y="424.24" width="22.10" height="1.8" fill="#b9b9be"/>
<rect x="567.85" y="411.67" width="1.1" height="14.37" fill="#f4f4f6"/>
<rect x="588.85" y="411.67" width="1.1" height="14.37" fill="#c6c6cb"/>
<rect x="591.85" y="411.67" width="22.10" height="14.37" fill="#e9e9ed"/>
<rect x="591.85" y="411.67" width="22.10" height="1.3" fill="#f6f6f8"/>
<rect x="591.85" y="424.24" width="22.10" height="1.8" fill="#b9b9be"/>
<rect x="591.85" y="411.67" width="1.1" height="14.37" fill="#f4f4f6"/>
<rect x="612.85" y="411.67" width="1.1" height="14.37" fill="#c6c6cb"/>
<rect x="615.85" y="411.67" width="22.30" height="14.37" fill="#e4e4e8"/>
<rect x="615.85" y="411.67" width="22.30" height="1.3" fill="#f6f6f8"/>
<rect x="615.85" y="424.24" width="22.30" height="1.8" fill="#b9b9be"/>
<rect x="615.85" y="411.67" width="1.1" height="14.37" fill="#f4f4f6"/>
<rect x="637.05" y="411.67" width="1.1" height="14.37" fill="#c6c6cb"/>
<rect x="640.05" y="411.67" width="23.45" height="14.37" fill="#d8d8dd"/>
<rect x="640.05" y="411.67" width="23.45" height="1.3" fill="#f6f6f8"/>
<rect x="640.05" y="424.24" width="23.45" height="1.8" fill="#b9b9be"/>
<rect x="640.05" y="411.67" width="1.1" height="14.37" fill="#f4f4f6"/>
<rect x="662.40" y="411.67" width="1.1" height="14.37" fill="#c6c6cb"/>
<rect x="543.45" y="426.19" width="121.05000000000001" height="1.6" fill="#6c6c71"/>
<rect x="544.45" y="427.94" width="21.50" height="14.37" fill="#e8e8ec"/>
<rect x="544.45" y="427.94" width="21.50" height="1.3" fill="#f6f6f8"/>
<rect x="544.45" y="440.50" width="21.50" height="1.8" fill="#b9b9be"/>
<rect x="544.45" y="427.94" width="1.1" height="14.37" fill="#f4f4f6"/>
<rect x="564.85" y="427.94" width="1.1" height="14.37" fill="#c6c6cb"/>
<rect x="567.85" y="427.94" width="22.10" height="14.37" fill="#eaeaee"/>
<rect x="567.85" y="427.94" width="22.10" height="1.3" fill="#f6f6f8"/>
<rect x="567.85" y="440.50" width="22.10" height="1.8" fill="#b9b9be"/>
<rect x="567.85" y="427.94" width="1.1" height="14.37" fill="#f4f4f6"/>
<rect x="588.85" y="427.94" width="1.1" height="14.37" fill="#c6c6cb"/>
<rect x="591.85" y="427.94" width="22.10" height="14.37" fill="#e9e9ed"/>
<rect x="591.85" y="427.94" width="22.10" height="1.3" fill="#f6f6f8"/>
<rect x="591.85" y="440.50" width="22.10" height="1.8" fill="#b9b9be"/>
<rect x="591.85" y="427.94" width="1.1" height="14.37" fill="#f4f4f6"/>
<rect x="612.85" y="427.94" width="1.1" height="14.37" fill="#c6c6cb"/>
<rect x="615.85" y="427.94" width="22.30" height="14.37" fill="#e4e4e8"/>
<rect x="615.85" y="427.94" width="22.30" height="1.3" fill="#f6f6f8"/>
<rect x="615.85" y="440.50" width="22.30" height="1.8" fill="#b9b9be"/>
<rect x="615.85" y="427.94" width="1.1" height="14.37" fill="#f4f4f6"/>
<rect x="637.05" y="427.94" width="1.1" height="14.37" fill="#c6c6cb"/>
<rect x="640.05" y="427.94" width="23.45" height="14.37" fill="#d8d8dd"/>
<rect x="640.05" y="427.94" width="23.45" height="1.3" fill="#f6f6f8"/>
<rect x="640.05" y="440.50" width="23.45" height="1.8" fill="#b9b9be"/>
<rect x="640.05" y="427.94" width="1.1" height="14.37" fill="#f4f4f6"/>
<rect x="662.40" y="427.94" width="1.1" height="14.37" fill="#c6c6cb"/>
<rect x="543.45" y="442.45" width="121.05000000000001" height="1.6" fill="#6c6c71"/>
<rect x="544.45" y="444.20" width="21.50" height="14.37" fill="#e8e8ec"/>
<rect x="544.45" y="444.20" width="21.50" height="1.3" fill="#f6f6f8"/>
<rect x="544.45" y="456.76" width="21.50" height="1.8" fill="#b9b9be"/>
<rect x="544.45" y="444.20" width="1.1" height="14.37" fill="#f4f4f6"/>
<rect x="564.85" y="444.20" width="1.1" height="14.37" fill="#c6c6cb"/>
<rect x="567.85" y="444.20" width="22.10" height="14.37" fill="#eaeaee"/>
<rect x="567.85" y="444.20" width="22.10" height="1.3" fill="#f6f6f8"/>
<rect x="567.85" y="456.76" width="22.10" height="1.8" fill="#b9b9be"/>
<rect x="567.85" y="444.20" width="1.1" height="14.37" fill="#f4f4f6"/>
<rect x="588.85" y="444.20" width="1.1" height="14.37" fill="#c6c6cb"/>
<rect x="591.85" y="444.20" width="22.10" height="14.37" fill="#e9e9ed"/>
<rect x="591.85" y="444.20" width="22.10" height="1.3" fill="#f6f6f8"/>
<rect x="591.85" y="456.76" width="22.10" height="1.8" fill="#b9b9be"/>
<rect x="591.85" y="444.20" width="1.1" height="14.37" fill="#f4f4f6"/>
<rect x="612.85" y="444.20" width="1.1" height="14.37" fill="#c6c6cb"/>
<rect x="615.85" y="444.20" width="22.30" height="14.37" fill="#e4e4e8"/>
<rect x="615.85" y="444.20" width="22.30" height="1.3" fill="#f6f6f8"/>
<rect x="615.85" y="456.76" width="22.30" height="1.8" fill="#b9b9be"/>
<rect x="615.85" y="444.20" width="1.1" height="14.37" fill="#f4f4f6"/>
<rect x="637.05" y="444.20" width="1.1" height="14.37" fill="#c6c6cb"/>
<rect x="640.05" y="444.20" width="23.45" height="14.37" fill="#d8d8dd"/>
<rect x="640.05" y="444.20" width="23.45" height="1.3" fill="#f6f6f8"/>
<rect x="640.05" y="456.76" width="23.45" height="1.8" fill="#b9b9be"/>
<rect x="640.05" y="444.20" width="1.1" height="14.37" fill="#f4f4f6"/>
<rect x="662.40" y="444.20" width="1.1" height="14.37" fill="#c6c6cb"/>
<rect x="543.45" y="458.71" width="121.05000000000001" height="1.6" fill="#6c6c71"/>
<rect x="544.45" y="460.46" width="21.50" height="14.37" fill="#e8e8ec"/>
<rect x="544.45" y="460.46" width="21.50" height="1.3" fill="#f6f6f8"/>
<rect x="544.45" y="473.03" width="21.50" height="1.8" fill="#b9b9be"/>
<rect x="544.45" y="460.46" width="1.1" height="14.37" fill="#f4f4f6"/>
<rect x="564.85" y="460.46" width="1.1" height="14.37" fill="#c6c6cb"/>
<rect x="567.85" y="460.46" width="22.10" height="14.37" fill="#eaeaee"/>
<rect x="567.85" y="460.46" width="22.10" height="1.3" fill="#f6f6f8"/>
<rect x="567.85" y="473.03" width="22.10" height="1.8" fill="#b9b9be"/>
<rect x="567.85" y="460.46" width="1.1" height="14.37" fill="#f4f4f6"/>
<rect x="588.85" y="460.46" width="1.1" height="14.37" fill="#c6c6cb"/>
<rect x="591.85" y="460.46" width="22.10" height="14.37" fill="#e9e9ed"/>
<rect x="591.85" y="460.46" width="22.10" height="1.3" fill="#f6f6f8"/>
<rect x="591.85" y="473.03" width="22.10" height="1.8" fill="#b9b9be"/>
<rect x="591.85" y="460.46" width="1.1" height="14.37" fill="#f4f4f6"/>
<rect x="612.85" y="460.46" width="1.1" height="14.37" fill="#c6c6cb"/>
<rect x="615.85" y="460.46" width="22.30" height="14.37" fill="#e4e4e8"/>
<rect x="615.85" y="460.46" width="22.30" height="1.3" fill="#f6f6f8"/>
<rect x="615.85" y="473.03" width="22.30" height="1.8" fill="#b9b9be"/>
<rect x="615.85" y="460.46" width="1.1" height="14.37" fill="#f4f4f6"/>
<rect x="637.05" y="460.46" width="1.1" height="14.37" fill="#c6c6cb"/>
<rect x="640.05" y="460.46" width="23.45" height="14.37" fill="#d8d8dd"/>
<rect x="640.05" y="460.46" width="23.45" height="1.3" fill="#f6f6f8"/>
<rect x="640.05" y="473.03" width="23.45" height="1.8" fill="#b9b9be"/>
<rect x="640.05" y="460.46" width="1.1" height="14.37" fill="#f4f4f6"/>
<rect x="662.40" y="460.46" width="1.1" height="14.37" fill="#c6c6cb"/>
<rect x="543.45" y="474.98" width="121.05000000000001" height="1.6" fill="#6c6c71"/>
<rect x="544.45" y="476.73" width="21.50" height="14.37" fill="#e8e8ec"/>
<rect x="544.45" y="476.73" width="21.50" height="1.3" fill="#f6f6f8"/>
<rect x="544.45" y="489.30" width="21.50" height="1.8" fill="#b9b9be"/>
<rect x="544.45" y="476.73" width="1.1" height="14.37" fill="#f4f4f6"/>
<rect x="564.85" y="476.73" width="1.1" height="14.37" fill="#c6c6cb"/>
<rect x="567.85" y="476.73" width="22.10" height="14.37" fill="#eaeaee"/>
<rect x="567.85" y="476.73" width="22.10" height="1.3" fill="#f6f6f8"/>
<rect x="567.85" y="489.30" width="22.10" height="1.8" fill="#b9b9be"/>
<rect x="567.85" y="476.73" width="1.1" height="14.37" fill="#f4f4f6"/>
<rect x="588.85" y="476.73" width="1.1" height="14.37" fill="#c6c6cb"/>
<rect x="591.85" y="476.73" width="22.10" height="14.37" fill="#e9e9ed"/>
<rect x="591.85" y="476.73" width="22.10" height="1.3" fill="#f6f6f8"/>
<rect x="591.85" y="489.30" width="22.10" height="1.8" fill="#b9b9be"/>
<rect x="591.85" y="476.73" width="1.1" height="14.37" fill="#f4f4f6"/>
<rect x="612.85" y="476.73" width="1.1" height="14.37" fill="#c6c6cb"/>
<rect x="615.85" y="476.73" width="22.30" height="14.37" fill="#e4e4e8"/>
<rect x="615.85" y="476.73" width="22.30" height="1.3" fill="#f6f6f8"/>
<rect x="615.85" y="489.30" width="22.30" height="1.8" fill="#b9b9be"/>
<rect x="615.85" y="476.73" width="1.1" height="14.37" fill="#f4f4f6"/>
<rect x="637.05" y="476.73" width="1.1" height="14.37" fill="#c6c6cb"/>
<rect x="640.05" y="476.73" width="23.45" height="14.37" fill="#d8d8dd"/>
<rect x="640.05" y="476.73" width="23.45" height="1.3" fill="#f6f6f8"/>
<rect x="640.05" y="489.30" width="23.45" height="1.8" fill="#b9b9be"/>
<rect x="640.05" y="476.73" width="1.1" height="14.37" fill="#f4f4f6"/>
<rect x="662.40" y="476.73" width="1.1" height="14.37" fill="#c6c6cb"/>
<rect x="543.45" y="491.25" width="121.05000000000001" height="1.6" fill="#6c6c71"/>
<rect x="544.45" y="493.00" width="21.50" height="14.37" fill="#e8e8ec"/>
<rect x="544.45" y="493.00" width="21.50" height="1.3" fill="#f6f6f8"/>
<rect x="544.45" y="505.56" width="21.50" height="1.8" fill="#b9b9be"/>
<rect x="544.45" y="493.00" width="1.1" height="14.37" fill="#f4f4f6"/>
<rect x="564.85" y="493.00" width="1.1" height="14.37" fill="#c6c6cb"/>
<rect x="567.85" y="493.00" width="22.10" height="14.37" fill="#eaeaee"/>
<rect x="567.85" y="493.00" width="22.10" height="1.3" fill="#f6f6f8"/>
<rect x="567.85" y="505.56" width="22.10" height="1.8" fill="#b9b9be"/>
<rect x="567.85" y="493.00" width="1.1" height="14.37" fill="#f4f4f6"/>
<rect x="588.85" y="493.00" width="1.1" height="14.37" fill="#c6c6cb"/>
<rect x="591.85" y="493.00" width="22.10" height="14.37" fill="#e9e9ed"/>
<rect x="591.85" y="493.00" width="22.10" height="1.3" fill="#f6f6f8"/>
<rect x="591.85" y="505.56" width="22.10" height="1.8" fill="#b9b9be"/>
<rect x="591.85" y="493.00" width="1.1" height="14.37" fill="#f4f4f6"/>
<rect x="612.85" y="493.00" width="1.1" height="14.37" fill="#c6c6cb"/>
<rect x="615.85" y="493.00" width="22.30" height="14.37" fill="#e4e4e8"/>
<rect x="615.85" y="493.00" width="22.30" height="1.3" fill="#f6f6f8"/>
<rect x="615.85" y="505.56" width="22.30" height="1.8" fill="#b9b9be"/>
<rect x="615.85" y="493.00" width="1.1" height="14.37" fill="#f4f4f6"/>
<rect x="637.05" y="493.00" width="1.1" height="14.37" fill="#c6c6cb"/>
<rect x="640.05" y="493.00" width="23.45" height="14.37" fill="#d8d8dd"/>
<rect x="640.05" y="493.00" width="23.45" height="1.3" fill="#f6f6f8"/>
<rect x="640.05" y="505.56" width="23.45" height="1.8" fill="#b9b9be"/>
<rect x="640.05" y="493.00" width="1.1" height="14.37" fill="#f4f4f6"/>
<rect x="662.40" y="493.00" width="1.1" height="14.37" fill="#c6c6cb"/>
<rect x="543.45" y="507.51" width="121.05000000000001" height="1.6" fill="#6c6c71"/>
<rect x="544.45" y="509.26" width="21.50" height="14.37" fill="#e8e8ec"/>
<rect x="544.45" y="509.26" width="21.50" height="1.3" fill="#f6f6f8"/>
<rect x="544.45" y="521.83" width="21.50" height="1.8" fill="#b9b9be"/>
<rect x="544.45" y="509.26" width="1.1" height="14.37" fill="#f4f4f6"/>
<rect x="564.85" y="509.26" width="1.1" height="14.37" fill="#c6c6cb"/>
<rect x="567.85" y="509.26" width="22.10" height="14.37" fill="#eaeaee"/>
<rect x="567.85" y="509.26" width="22.10" height="1.3" fill="#f6f6f8"/>
<rect x="567.85" y="521.83" width="22.10" height="1.8" fill="#b9b9be"/>
<rect x="567.85" y="509.26" width="1.1" height="14.37" fill="#f4f4f6"/>
<rect x="588.85" y="509.26" width="1.1" height="14.37" fill="#c6c6cb"/>
<rect x="591.85" y="509.26" width="22.10" height="14.37" fill="#e9e9ed"/>
<rect x="591.85" y="509.26" width="22.10" height="1.3" fill="#f6f6f8"/>
<rect x="591.85" y="521.83" width="22.10" height="1.8" fill="#b9b9be"/>
<rect x="591.85" y="509.26" width="1.1" height="14.37" fill="#f4f4f6"/>
<rect x="612.85" y="509.26" width="1.1" height="14.37" fill="#c6c6cb"/>
<rect x="615.85" y="509.26" width="22.30" height="14.37" fill="#e4e4e8"/>
<rect x="615.85" y="509.26" width="22.30" height="1.3" fill="#f6f6f8"/>
<rect x="615.85" y="521.83" width="22.30" height="1.8" fill="#b9b9be"/>
<rect x="615.85" y="509.26" width="1.1" height="14.37" fill="#f4f4f6"/>
<rect x="637.05" y="509.26" width="1.1" height="14.37" fill="#c6c6cb"/>
<rect x="640.05" y="509.26" width="23.45" height="14.37" fill="#d8d8dd"/>
<rect x="640.05" y="509.26" width="23.45" height="1.3" fill="#f6f6f8"/>
<rect x="640.05" y="521.83" width="23.45" height="1.8" fill="#b9b9be"/>
<rect x="640.05" y="509.26" width="1.1" height="14.37" fill="#f4f4f6"/>
<rect x="662.40" y="509.26" width="1.1" height="14.37" fill="#c6c6cb"/>
<rect x="543.45" y="523.78" width="121.05000000000001" height="1.6" fill="#6c6c71"/>
<rect x="544.45" y="525.53" width="21.50" height="14.36" fill="#e8e8ec"/>
<rect x="544.45" y="525.53" width="21.50" height="1.3" fill="#f6f6f8"/>
<rect x="544.45" y="538.09" width="21.50" height="1.8" fill="#b9b9be"/>
<rect x="544.45" y="525.53" width="1.1" height="14.36" fill="#f4f4f6"/>
<rect x="564.85" y="525.53" width="1.1" height="14.36" fill="#c6c6cb"/>
<rect x="567.85" y="525.53" width="22.10" height="14.36" fill="#eaeaee"/>
<rect x="567.85" y="525.53" width="22.10" height="1.3" fill="#f6f6f8"/>
<rect x="567.85" y="538.09" width="22.10" height="1.8" fill="#b9b9be"/>
<rect x="567.85" y="525.53" width="1.1" height="14.36" fill="#f4f4f6"/>
<rect x="588.85" y="525.53" width="1.1" height="14.36" fill="#c6c6cb"/>
<rect x="591.85" y="525.53" width="22.10" height="14.36" fill="#e9e9ed"/>
<rect x="591.85" y="525.53" width="22.10" height="1.3" fill="#f6f6f8"/>
<rect x="591.85" y="538.09" width="22.10" height="1.8" fill="#b9b9be"/>
<rect x="591.85" y="525.53" width="1.1" height="14.36" fill="#f4f4f6"/>
<rect x="612.85" y="525.53" width="1.1" height="14.36" fill="#c6c6cb"/>
<rect x="615.85" y="525.53" width="22.30" height="14.36" fill="#e4e4e8"/>
<rect x="615.85" y="525.53" width="22.30" height="1.3" fill="#f6f6f8"/>
<rect x="615.85" y="538.09" width="22.30" height="1.8" fill="#b9b9be"/>
<rect x="615.85" y="525.53" width="1.1" height="14.36" fill="#f4f4f6"/>
<rect x="637.05" y="525.53" width="1.1" height="14.36" fill="#c6c6cb"/>
<rect x="640.05" y="525.53" width="23.45" height="14.36" fill="#d8d8dd"/>
<rect x="640.05" y="525.53" width="23.45" height="1.3" fill="#f6f6f8"/>
<rect x="640.05" y="538.09" width="23.45" height="1.8" fill="#b9b9be"/>
<rect x="640.05" y="525.53" width="1.1" height="14.36" fill="#f4f4f6"/>
<rect x="662.40" y="525.53" width="1.1" height="14.36" fill="#c6c6cb"/>
<rect x="543.45" y="540.04" width="121.05000000000001" height="1.6" fill="#6c6c71"/>
<rect x="544.45" y="541.79" width="21.50" height="14.36" fill="#e8e8ec"/>
<rect x="544.45" y="541.79" width="21.50" height="1.3" fill="#f6f6f8"/>
<rect x="544.45" y="554.36" width="21.50" height="1.8" fill="#b9b9be"/>
<rect x="544.45" y="541.79" width="1.1" height="14.36" fill="#f4f4f6"/>
<rect x="564.85" y="541.79" width="1.1" height="14.36" fill="#c6c6cb"/>
<rect x="567.85" y="541.79" width="22.10" height="14.36" fill="#eaeaee"/>
<rect x="567.85" y="541.79" width="22.10" height="1.3" fill="#f6f6f8"/>
<rect x="567.85" y="554.36" width="22.10" height="1.8" fill="#b9b9be"/>
<rect x="567.85" y="541.79" width="1.1" height="14.36" fill="#f4f4f6"/>
<rect x="588.85" y="541.79" width="1.1" height="14.36" fill="#c6c6cb"/>
<rect x="591.85" y="541.79" width="22.10" height="14.36" fill="#e9e9ed"/>
<rect x="591.85" y="541.79" width="22.10" height="1.3" fill="#f6f6f8"/>
<rect x="591.85" y="554.36" width="22.10" height="1.8" fill="#b9b9be"/>
<rect x="591.85" y="541.79" width="1.1" height="14.36" fill="#f4f4f6"/>
<rect x="612.85" y="541.79" width="1.1" height="14.36" fill="#c6c6cb"/>
<rect x="615.85" y="541.79" width="22.30" height="14.36" fill="#e4e4e8"/>
<rect x="615.85" y="541.79" width="22.30" height="1.3" fill="#f6f6f8"/>
<rect x="615.85" y="554.36" width="22.30" height="1.8" fill="#b9b9be"/>
<rect x="615.85" y="541.79" width="1.1" height="14.36" fill="#f4f4f6"/>
<rect x="637.05" y="541.79" width="1.1" height="14.36" fill="#c6c6cb"/>
<rect x="640.05" y="541.79" width="23.45" height="14.36" fill="#d8d8dd"/>
<rect x="640.05" y="541.79" width="23.45" height="1.3" fill="#f6f6f8"/>
<rect x="640.05" y="554.36" width="23.45" height="1.8" fill="#b9b9be"/>
<rect x="640.05" y="541.79" width="1.1" height="14.36" fill="#f4f4f6"/>
<rect x="662.40" y="541.79" width="1.1" height="14.36" fill="#c6c6cb"/>
<rect x="543.45" y="556.31" width="121.05000000000001" height="1.6" fill="#6c6c71"/>
<rect x="530" y="557" width="150" height="35" fill="url(#endV)"/>
</g>
<path d="M534,108.5 Q534,105 537.5,105 L671.5,105 Q675,105 675,108.5 L675,165 C675,262 668.5,282 668.5,350 L668.5,585 Q668.5,589 664.5,589 L545,589 Q541,589 541,585 L541,350 C541,282 534,262 534,165 Z" fill="none" stroke="#b2b2b7" stroke-width="1.1"/>
<ellipse cx="394.1" cy="379.10" rx="12.1" ry="7.65" fill="url(#holeIn)" stroke="#e26814" stroke-width="4.5"/>
<ellipse cx="393.8" cy="379.10" rx="12.4" ry="8.0" fill="none" stroke="#c45408" stroke-width="0.8" opacity="0.5"/>
<ellipse cx="394.1" cy="411.62" rx="12.1" ry="7.65" fill="url(#holeIn)" stroke="#e26814" stroke-width="4.5"/>
<ellipse cx="393.8" cy="411.62" rx="12.4" ry="8.0" fill="none" stroke="#c45408" stroke-width="0.8" opacity="0.5"/>
<ellipse cx="394.1" cy="444.14" rx="12.1" ry="7.65" fill="url(#holeIn)" stroke="#e26814" stroke-width="4.5"/>
<ellipse cx="393.8" cy="444.14" rx="12.4" ry="8.0" fill="none" stroke="#c45408" stroke-width="0.8" opacity="0.5"/>
<ellipse cx="394.1" cy="476.66" rx="12.1" ry="7.65" fill="url(#holeIn)" stroke="#e26814" stroke-width="4.5"/>
<ellipse cx="393.8" cy="476.66" rx="12.4" ry="8.0" fill="none" stroke="#c45408" stroke-width="0.8" opacity="0.5"/>
<ellipse cx="394.1" cy="509.18" rx="12.1" ry="7.65" fill="url(#holeIn)" stroke="#e26814" stroke-width="4.5"/>
<ellipse cx="393.8" cy="509.18" rx="12.4" ry="8.0" fill="none" stroke="#c45408" stroke-width="0.8" opacity="0.5"/>
<ellipse cx="394.1" cy="541.70" rx="12.1" ry="7.65" fill="url(#holeIn)" stroke="#e26814" stroke-width="4.5"/>
<ellipse cx="393.8" cy="541.70" rx="12.4" ry="8.0" fill="none" stroke="#c45408" stroke-width="0.8" opacity="0.5"/>
<ellipse cx="394.1" cy="574.22" rx="12.1" ry="7.65" fill="url(#holeIn)" stroke="#e26814" stroke-width="4.5"/>
<ellipse cx="393.8" cy="574.22" rx="12.4" ry="8.0" fill="none" stroke="#c45408" stroke-width="0.8" opacity="0.5"/>
<ellipse cx="394.1" cy="606.74" rx="12.1" ry="7.65" fill="url(#holeIn)" stroke="#e26814" stroke-width="4.5"/>
<ellipse cx="393.8" cy="606.74" rx="12.4" ry="8.0" fill="none" stroke="#c45408" stroke-width="0.8" opacity="0.5"/>
<ellipse cx="394.1" cy="639.26" rx="12.1" ry="7.65" fill="url(#holeIn)" stroke="#e26814" stroke-width="4.5"/>
<ellipse cx="393.8" cy="639.26" rx="12.4" ry="8.0" fill="none" stroke="#c45408" stroke-width="0.8" opacity="0.5"/>
<ellipse cx="394.1" cy="671.78" rx="12.1" ry="7.65" fill="url(#holeIn)" stroke="#e26814" stroke-width="4.5"/>
<ellipse cx="393.8" cy="671.78" rx="12.4" ry="8.0" fill="none" stroke="#c45408" stroke-width="0.8" opacity="0.5"/>
<ellipse cx="394.1" cy="704.30" rx="12.1" ry="7.65" fill="url(#holeIn)" stroke="#e26814" stroke-width="4.5"/>
<ellipse cx="393.8" cy="704.30" rx="12.4" ry="8.0" fill="none" stroke="#c45408" stroke-width="0.8" opacity="0.5"/>
<ellipse cx="394.1" cy="736.82" rx="12.1" ry="7.65" fill="url(#holeIn)" stroke="#e26814" stroke-width="4.5"/>
<ellipse cx="393.8" cy="736.82" rx="12.4" ry="8.0" fill="none" stroke="#c45408" stroke-width="0.8" opacity="0.5"/>
<ellipse cx="394.1" cy="769.34" rx="12.1" ry="7.65" fill="url(#holeIn)" stroke="#e26814" stroke-width="4.5"/>
<ellipse cx="393.8" cy="769.34" rx="12.4" ry="8.0" fill="none" stroke="#c45408" stroke-width="0.8" opacity="0.5"/>
<ellipse cx="394.1" cy="801.86" rx="12.1" ry="7.65" fill="url(#holeIn)" stroke="#e26814" stroke-width="4.5"/>
<ellipse cx="393.8" cy="801.86" rx="12.4" ry="8.0" fill="none" stroke="#c45408" stroke-width="0.8" opacity="0.5"/>
<ellipse cx="394.1" cy="834.38" rx="12.1" ry="7.65" fill="url(#holeIn)" stroke="#e26814" stroke-width="4.5"/>
<ellipse cx="393.8" cy="834.38" rx="12.4" ry="8.0" fill="none" stroke="#c45408" stroke-width="0.8" opacity="0.5"/>
<rect x="316" y="118.6" width="8" height="2" fill="#858585"/>
<rect x="316" y="116.8" width="8" height="1" fill="#c8c8c8" opacity="0.6"/>
<rect x="465" y="118.6" width="8" height="2" fill="#858585"/>
<rect x="465" y="116.8" width="8" height="1" fill="#c8c8c8" opacity="0.6"/>
<rect x="525" y="118.6" width="9" height="2" fill="#858585"/>
<rect x="525" y="116.8" width="9" height="1" fill="#c8c8c8" opacity="0.6"/>
<rect x="675" y="118.6" width="8" height="2" fill="#858585"/>
<rect x="675" y="116.8" width="8" height="1" fill="#c8c8c8" opacity="0.6"/>
<rect x="526.5" y="382" width="156.7" height="42.5" rx="3" fill="url(#loopH)"/>
<rect x="526.5" y="382" width="156.7" height="42.5" rx="3" fill="url(#loopV)" stroke="#bdbdc2" stroke-width="0.8"/>
<rect x="526.5" y="460" width="156.7" height="42" rx="3" fill="url(#loopH)"/>
<rect x="526.5" y="460" width="156.7" height="42" rx="3" fill="url(#loopV)" stroke="#bdbdc2" stroke-width="0.8"/>
<path d="M529,567 Q529,563 533.5,563 Q538.5,563 538.5,567 L538.5,641 Q538.5,649 546.5,649 L661,649 Q669,649 669,641 L669,567 Q669,563 673.5,563 Q678,563 678,567 L678,655 C678,671 669,678 648,680.5 C628,682.8 579,682.8 559,680.5 C538,678 529,671 529,655 Z" fill="url(#sideBar)"/>
<clipPath id="bclip"><path d="M529,567 Q529,563 533.5,563 Q538.5,563 538.5,567 L538.5,641 Q538.5,649 546.5,649 L661,649 Q669,649 669,641 L669,567 Q669,563 673.5,563 Q678,563 678,567 L678,655 C678,671 669,678 648,680.5 C628,682.8 579,682.8 559,680.5 C538,678 529,671 529,655 Z"/></clipPath>
<g clip-path="url(#bclip)">
<rect x="525" y="630" width="160" height="57" fill="url(#buckbar)"/>
<rect x="525" y="560" width="160" height="80" fill="#262a3e"/>
</g>
<path d="M529,567 Q529,563 533.5,563 Q538.5,563 538.5,567 L538.5,641 Q538.5,649 546.5,649 L661,649 Q669,649 669,641 L669,567 Q669,563 673.5,563 Q678,563 678,567 L678,655 C678,671 669,678 648,680.5 C628,682.8 579,682.8 559,680.5 C538,678 529,671 529,655 Z" fill="none" stroke="#1c1f2e" stroke-width="0.9"/>
<rect x="595.5" y="566.5" width="18.5" height="91" rx="3" fill="url(#tongue)"/>
<rect x="597" y="566.7" width="15.5" height="1.3" fill="#c8c8d0" opacity="0.8"/>
<rect x="596.5" y="583" width="16.5" height="18" fill="#4a5670"/>
<rect x="597" y="583" width="15.5" height="3.5" rx="1.5" fill="#8494aa"/>
<rect x="597" y="597" width="15.5" height="3.5" rx="1.5" fill="#7a8aa0"/>
<rect x="596.5" y="651" width="16.5" height="5" rx="2" fill="#8a9ab0"/>
<rect x="321.2" y="52.2" width="2.9" height="48.1" fill="#050505"/>
<rect x="462.1" y="52.2" width="2.9" height="48.1" fill="#050505"/>
<rect x="321.2" y="86" width="143.8" height="3.4" fill="#050505"/>
<rect x="535.9" y="52.2" width="3" height="46.3" fill="#050505"/>
<rect x="675.8" y="51.2" width="3" height="47.3" fill="#050505"/>
<rect x="535.9" y="85.1" width="142.9" height="3.2" fill="#050505"/>
<rect x="216" y="113" width="3.1" height="340.2" fill="#050505"/>
<rect x="216" y="499" width="3.1" height="460" fill="#050505"/>
<rect x="216" y="113" width="87" height="3" fill="#050505"/>
<rect x="216" y="955.9" width="96" height="3" fill="#050505"/>
<rect x="685.2" y="109" width="133.8" height="3" fill="#050505"/>
<rect x="736" y="109" width="3" height="195.4" fill="#050505"/>
<rect x="736" y="353.6" width="3" height="245.2" fill="#050505"/>
<rect x="685.2" y="595.8" width="53.8" height="3" fill="#050505"/>
<rect x="816" y="109" width="3" height="251.4" fill="#050505"/>
<rect x="816" y="418" width="3" height="274" fill="#050505"/>
<rect x="690" y="688.8" width="129" height="3" fill="#050505"/>
<rect x="540.2" y="690.2" width="3" height="37.5" fill="#050505"/>
<rect x="667.9" y="693.2" width="3" height="34.5" fill="#050505"/>
<rect x="540.2" y="724.4" width="130.7" height="3.3" fill="#050505"/>
<rect x="332.3" y="952.3" width="2.9" height="42.5" fill="#050505"/>
<rect x="456" y="950.1" width="3" height="44.7" fill="#050505"/>
<rect x="332.3" y="991.6" width="126.8" height="3.2" fill="#050505"/>
<text x="341.2" y="77.3" font-family="Liberation Sans, sans-serif" font-size="36" fill="#050505" stroke="#050505" stroke-width="0.35">20mm</text>
<text x="559.3" y="78.6" font-family="Liberation Sans, sans-serif" font-size="36" fill="#050505" stroke="#050505" stroke-width="0.35">20mm</text>
<text x="158.5" y="484.4" font-family="Liberation Sans, sans-serif" font-size="36" fill="#050505" stroke="#050505" stroke-width="0.35">120mm</text>
<text x="690" y="337.4" font-family="Liberation Sans, sans-serif" font-size="36" fill="#050505" stroke="#050505" stroke-width="0.35">70mm</text>
<text x="771" y="395.4" font-family="Liberation Sans, sans-serif" font-size="36" fill="#050505" stroke="#050505" stroke-width="0.35">82mm</text>
<text x="553" y="718.8" font-family="Liberation Sans, sans-serif" font-size="36" fill="#050505" stroke="#050505" stroke-width="0.35">18mm</text>
<text x="344" y="984.6" font-family="Liberation Sans, sans-serif" font-size="36" fill="#050505" stroke="#050505" stroke-width="0.35">18mm</text>
</svg></body></html>
